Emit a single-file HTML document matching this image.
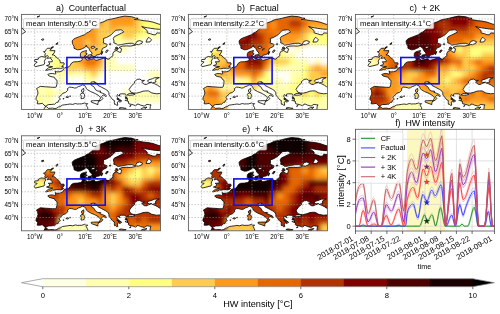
<!DOCTYPE html><html><head><meta charset="utf-8"><style>html,body{margin:0;padding:0;background:#fff;width:500px;height:314px;overflow:hidden}svg{display:block;will-change:transform}text{font-family:"Liberation Sans",sans-serif;fill:#000}</style></head><body>
<svg width="500" height="314" viewBox="0 0 500 314">
<defs><filter id="bl" x="-10%" y="-10%" width="120%" height="120%"><feGaussianBlur stdDeviation="1.9"/></filter>
<path id="mland" clip-rule="evenodd" d="M24.3,91.9 L22.5,90.7 L20.8,88.9 L18.5,89.4 L15.7,89.4 L16.2,86.8 L14.5,85.0 L14.7,83.2 L16.0,80.4 L16.5,78.6 L16.0,76.0 L15.0,74.2 L17.2,72.9 L18.8,72.0 L24.0,72.4 L28.8,72.7 L30.8,72.9 L33.9,72.9 L34.6,72.7 L35.4,69.8 L35.6,67.3 L35.4,65.7 L33.6,64.5 L32.9,62.9 L30.6,62.4 L27.6,61.6 L26.3,60.1 L28.3,59.3 L30.8,59.1 L33.4,59.6 L34.4,59.3 L33.6,56.8 L35.4,57.5 L38.6,57.3 L41.2,56.2 L42.4,54.2 L43.2,53.4 L45.7,52.9 L47.5,52.4 L48.7,50.8 L50.2,48.5 L52.2,47.5 L56.0,47.3 L59.0,46.7 L60.3,46.0 L60.8,44.9 L60.0,43.1 L58.8,41.6 L59.0,39.0 L60.0,37.7 L63.3,36.5 L65.1,36.1 L64.6,37.5 L64.3,39.0 L65.8,39.5 L64.1,40.6 L63.1,41.9 L63.6,43.1 L64.1,44.7 L66.1,45.7 L68.9,45.2 L72.4,44.2 L74.4,46.0 L77.7,45.2 L82.4,43.7 L85.7,44.2 L85.5,44.7 L87.7,44.7 L88.7,43.4 L91.5,41.3 L91.3,39.3 L92.5,37.0 L95.3,36.1 L97.6,37.7 L99.1,38.0 L99.8,35.7 L100.1,34.4 L97.6,33.1 L100.6,31.7 L105.1,31.5 L108.9,31.7 L114.4,30.6 L110.6,28.8 L106.1,29.0 L101.3,29.9 L96.3,30.8 L94.5,29.1 L92.3,28.5 L92.5,26.5 L91.8,24.1 L92.8,22.3 L96.5,20.5 L100.1,18.7 L102.3,17.5 L100.3,15.7 L99.1,15.4 L94.0,15.9 L91.8,18.2 L89.5,20.5 L85.0,23.1 L81.9,24.1 L82.2,26.5 L81.7,28.5 L85.7,30.0 L85.0,32.1 L81.2,33.9 L80.2,36.0 L79.7,38.8 L77.7,40.2 L74.9,40.6 L74.1,42.1 L71.1,42.1 L70.9,41.3 L69.9,39.8 L70.7,38.8 L68.4,36.2 L67.6,34.4 L66.6,33.0 L65.1,32.4 L64.8,30.8 L63.6,32.9 L61.0,34.2 L58.5,35.2 L56.0,35.4 L52.5,33.9 L52.5,32.1 L51.0,29.3 L50.7,26.5 L52.0,24.9 L53.7,23.9 L57.8,22.3 L60.3,21.3 L63.1,20.3 L65.1,18.7 L67.3,17.7 L69.6,15.9 L71.6,13.9 L74.6,11.6 L76.2,9.5 L78.7,8.5 L82.4,7.2 L86.0,5.4 L90.0,4.6 L93.5,3.9 L98.1,2.7 L103.3,1.7 L107.6,2.1 L110.1,2.3 L113.9,3.6 L116.7,3.9 L112.9,5.1 L117.7,5.4 L121.5,6.2 L126.5,6.7 L131.5,7.7 L136.6,9.5 L140.4,10.5 L142.4,12.8 L141.6,14.4 L137.8,14.9 L134.1,14.6 L129.0,13.9 L126.0,13.4 L122.7,12.8 L120.2,12.1 L123.5,14.4 L125.7,16.2 L125.7,18.5 L129.0,19.3 L131.5,20.3 L134.1,20.4 L135.3,18.5 L139.1,18.7 L141.6,17.7 L149.2,14.9 L164.3,9.8 L164.3,107.3 L128.5,107.3 L128.5,94.5 L128.8,92.2 L129.5,90.4 L127.8,90.4 L125.5,89.9 L122.7,91.7 L119.0,90.7 L117.4,89.9 L115.7,89.6 L115.2,90.7 L113.9,91.3 L111.7,90.4 L109.6,89.9 L107.4,89.4 L106.9,88.6 L107.1,87.1 L104.9,86.3 L106.4,85.6 L105.6,85.5 L105.9,83.7 L104.1,82.9 L104.6,81.4 L104.4,80.1 L103.6,79.5 L99.8,79.4 L98.3,79.7 L97.6,80.9 L98.8,81.7 L97.0,81.1 L96.0,80.1 L95.3,81.7 L96.0,83.3 L97.0,84.2 L95.3,84.5 L97.6,85.8 L98.8,87.1 L98.8,87.7 L96.8,87.1 L95.8,87.8 L96.3,90.8 L95.0,90.9 L94.0,89.6 L93.0,89.9 L92.8,87.8 L93.0,86.2 L91.5,85.5 L90.5,84.4 L89.2,82.7 L87.5,80.5 L87.4,78.3 L86.2,76.3 L84.0,74.9 L79.8,72.7 L76.7,71.1 L74.6,68.1 L72.6,68.6 L73.1,67.2 L69.4,67.8 L69.9,69.1 L69.4,70.4 L72.4,72.4 L74.1,75.4 L76.4,76.7 L79.2,76.8 L78.4,77.8 L80.9,78.8 L83.6,80.0 L85.0,81.3 L84.6,82.2 L81.7,80.5 L79.9,82.4 L81.4,84.0 L79.9,85.8 L77.8,86.8 L78.2,85.1 L79.2,83.5 L77.7,81.7 L75.5,80.1 L74.3,79.5 L72.6,78.6 L69.2,77.2 L66.3,75.5 L64.8,74.2 L64.3,72.7 L63.2,71.1 L60.8,70.4 L58.8,71.6 L56.8,72.2 L55.0,73.4 L53.2,73.7 L51.7,73.2 L50.0,72.9 L48.2,72.7 L45.9,74.2 L46.4,75.8 L43.9,78.1 L41.4,78.8 L40.7,79.9 L38.4,81.7 L37.6,83.1 L38.9,84.9 L37.1,85.9 L36.6,87.8 L35.1,88.0 L32.9,90.0 L32.2,89.8 L29.6,90.1 L27.3,90.1 L25.3,90.9ZM111.7,78.6 L109.1,77.6 L108.6,76.3 L107.6,75.2 L108.6,73.4 L110.4,70.9 L113.2,68.6 L112.9,67.3 L115.7,65.0 L118.4,64.7 L120.2,66.0 L123.0,66.0 L120.2,67.8 L122.7,69.8 L124.7,70.1 L127.5,68.8 L130.3,67.8 L127.5,68.1 L126.0,66.8 L127.0,65.5 L131.0,64.3 L132.8,63.4 L136.3,63.2 L137.8,63.2 L134.8,64.5 L133.8,66.3 L134.6,67.5 L130.8,68.6 L132.3,69.1 L133.6,69.6 L136.1,70.9 L138.3,72.4 L140.4,73.7 L143.1,75.8 L143.1,77.6 L140.4,79.1 L138.3,79.1 L135.3,79.4 L131.5,78.8 L129.8,78.3 L126.8,76.5 L124.0,76.5 L121.5,76.8 L118.4,77.9 L115.2,78.7ZM111.4,79.0 L108.9,79.1 L107.6,79.2 L105.6,80.5 L107.6,80.9 L111.4,80.6 L113.7,79.7ZM113.7,30.0 L115.4,27.0 L118.2,26.2 L121.0,27.2 L120.5,28.8 L117.2,30.3ZM124.5,27.7 L126.0,24.1 L127.5,22.9 L130.0,25.4 L128.5,27.5ZM69.6,33.6 L70.1,32.1 L72.6,31.8 L73.6,32.9 L71.6,33.9ZM73.9,35.7 L75.1,33.6 L75.9,34.4 L74.6,36.0Z"/><path id="isl" d="M41.9,53.0 L42.0,52.4 L40.2,52.0 L41.7,51.1 L42.8,49.6 L42.4,48.4 L39.1,48.4 L38.6,47.0 L38.1,45.5 L36.9,44.4 L34.9,43.1 L33.9,41.6 L32.1,40.6 L30.6,40.4 L31.8,39.8 L33.1,37.6 L33.4,36.2 L28.8,36.3 L28.3,35.7 L30.7,33.8 L25.8,33.9 L24.5,35.4 L23.8,37.0 L22.0,37.2 L24.0,39.3 L23.3,40.6 L23.8,42.4 L25.8,41.1 L26.8,41.9 L25.8,44.0 L29.6,43.3 L29.3,44.4 L30.8,46.0 L30.8,47.3 L26.8,47.5 L28.1,48.5 L27.8,50.3 L25.0,51.2 L28.3,52.0 L31.1,52.3 L29.6,52.9 L27.1,53.4 L24.0,55.9 L25.3,56.0 L28.1,55.1 L29.2,55.4 L31.1,54.2 L32.2,54.4 L34.9,53.9 L38.1,53.9 L39.0,54.1 L40.8,53.7ZM22.8,47.4 L23.3,48.5 L22.4,50.3 L20.8,50.6 L17.5,51.4 L13.7,52.3 L12.5,50.6 L14.0,49.3 L15.7,47.6 L13.0,47.0 L13.2,45.2 L16.7,44.9 L17.0,43.4 L19.8,42.1 L23.3,42.6 L24.5,44.2 L23.3,45.7ZM-12.0,21.6 L-1.9,20.5 L1.1,19.3 L4.2,17.2 L1.9,15.4 L1.6,14.1 L-1.9,13.6 L-12.0,13.6ZM19.8,25.2 L21.8,24.3 L22.3,25.4 L20.8,25.9ZM35.1,30.6 L34.4,29.5 L36.4,28.2 L35.9,29.8ZM29.8,33.1 L31.8,32.1 L31.6,33.3ZM15.5,2.6 L18.3,1.5 L17.2,2.3ZM66.1,42.1 L66.8,40.6 L69.6,40.3 L70.1,41.6 L69.1,42.6 L68.1,43.3 L66.6,42.6ZM62.8,41.9 L64.6,41.6 L65.6,42.4 L65.1,43.1 L63.6,43.0ZM66.1,43.8 L68.4,43.4 L68.9,44.0 L66.8,44.2ZM75.4,42.9 L76.4,42.6 L76.5,43.1 L75.5,43.3ZM84.0,37.7 L85.2,35.7 L86.7,35.7 L86.0,37.2 L84.5,38.3ZM79.7,40.1 L80.9,37.2 L81.4,37.1 L80.2,40.1ZM93.3,34.7 L94.5,33.9 L97.0,34.2 L95.5,35.4 L93.8,35.6ZM94.0,33.1 L95.3,32.6 L96.3,33.4 L95.0,33.6ZM87.5,30.0 L88.5,29.3 L89.5,29.5 L89.0,30.3ZM44.3,82.8 L45.9,81.8 L47.1,82.3 L46.6,83.3 L45.3,82.9ZM48.0,81.8 L49.2,81.5 L49.1,82.0 L48.1,81.9ZM41.4,84.4 L42.4,84.0 L42.3,84.6 L41.7,84.6ZM61.6,78.2 L62.4,76.3 L62.2,74.0 L60.0,75.5 L60.2,77.3ZM61.6,78.5 L63.1,80.4 L62.6,83.7 L61.0,84.2 L59.5,84.2 L59.8,81.7 L58.9,79.9 L59.5,79.1ZM69.6,86.5 L72.0,86.3 L77.5,86.2 L76.4,88.6 L76.4,90.3 L74.4,89.4 L69.9,87.8ZM97.6,93.7 L99.6,93.1 L102.6,93.7 L104.6,93.9 L104.1,94.5 L100.6,94.8 L97.6,94.0ZM119.7,94.2 L121.5,93.5 L125.5,92.7 L123.7,94.5 L121.5,95.5 L120.0,95.3ZM95.8,84.5 L97.0,84.2 L100.3,86.5 L100.1,86.8 L97.8,85.8ZM103.5,83.5 L105.1,83.2 L105.4,84.2 L103.8,84.0ZM108.1,91.7 L109.4,90.8 L109.5,91.4 L108.4,92.2ZM103.5,86.2 L104.1,85.4 L104.2,86.0ZM22.0,107.3 L22.0,95.8 L22.5,94.5 L23.3,93.2 L23.5,92.4 L25.0,92.2 L26.8,94.0 L28.6,93.9 L31.0,93.7 L33.4,94.2 L35.4,93.7 L36.8,92.6 L38.6,92.2 L40.9,90.7 L43.4,90.4 L46.1,90.0 L48.5,89.6 L51.2,90.0 L54.0,89.1 L55.8,89.6 L57.9,89.5 L60.0,89.5 L63.2,88.6 L64.3,89.4 L66.2,89.2 L64.8,90.7 L65.1,91.2 L65.7,92.7 L66.2,93.2 L66.3,95.0 L64.8,97.1 L64.8,107.3Z"/>
<clipPath id="boxa"><rect x="21.5" y="14.4" width="139.0" height="95.0"/></clipPath>
<clipPath id="landa"><use href="#mland" x="21.5" y="14.4"/><use href="#isl" x="21.5" y="14.4"/></clipPath>
<clipPath id="boxb"><rect x="188.4" y="14.4" width="139.0" height="95.0"/></clipPath>
<clipPath id="landb"><use href="#mland" x="188.4" y="14.4"/><use href="#isl" x="188.4" y="14.4"/></clipPath>
<clipPath id="boxc"><rect x="355.4" y="14.4" width="139.0" height="95.0"/></clipPath>
<clipPath id="landc"><use href="#mland" x="355.4" y="14.4"/><use href="#isl" x="355.4" y="14.4"/></clipPath>
<clipPath id="boxd"><rect x="21.5" y="135.8" width="139.0" height="95.0"/></clipPath>
<clipPath id="landd"><use href="#mland" x="21.5" y="135.8"/><use href="#isl" x="21.5" y="135.8"/></clipPath>
<clipPath id="boxe"><rect x="188.4" y="135.8" width="139.0" height="95.0"/></clipPath>
<clipPath id="lande"><use href="#mland" x="188.4" y="135.8"/><use href="#isl" x="188.4" y="135.8"/></clipPath>
</defs>
<g clip-path="url(#boxa)">
<g clip-path="url(#landa)"><g filter="url(#bl)">
<rect x="8.56" y="1.43" width="6.92" height="6.93" fill="#ffffff"/>
<rect x="14.88" y="1.43" width="6.92" height="6.93" fill="#ffffff"/>
<rect x="21.20" y="1.43" width="6.92" height="6.93" fill="#ffffff"/>
<rect x="27.52" y="1.43" width="6.92" height="6.93" fill="#ffffff"/>
<rect x="33.84" y="1.43" width="6.92" height="6.93" fill="#ffffff"/>
<rect x="40.15" y="1.43" width="6.92" height="6.93" fill="#ffffff"/>
<rect x="46.47" y="1.43" width="6.92" height="6.93" fill="#ffffb3"/>
<rect x="52.79" y="1.43" width="6.92" height="6.93" fill="#ffe667"/>
<rect x="59.11" y="1.43" width="6.92" height="6.93" fill="#ff991a"/>
<rect x="65.43" y="1.43" width="6.92" height="6.93" fill="#ff991a"/>
<rect x="71.75" y="1.43" width="6.92" height="6.93" fill="#ff991a"/>
<rect x="78.06" y="1.43" width="6.92" height="6.93" fill="#ff991a"/>
<rect x="84.38" y="1.43" width="6.92" height="6.93" fill="#ff991a"/>
<rect x="90.70" y="1.43" width="6.92" height="6.93" fill="#ff991a"/>
<rect x="97.02" y="1.43" width="6.92" height="6.93" fill="#ff991a"/>
<rect x="103.34" y="1.43" width="6.92" height="6.93" fill="#ff991a"/>
<rect x="109.65" y="1.43" width="6.92" height="6.93" fill="#ff991a"/>
<rect x="115.97" y="1.43" width="6.92" height="6.93" fill="#ff991a"/>
<rect x="122.29" y="1.43" width="6.92" height="6.93" fill="#ff991a"/>
<rect x="128.61" y="1.43" width="6.92" height="6.93" fill="#ff991a"/>
<rect x="134.93" y="1.43" width="6.92" height="6.93" fill="#ffcc4d"/>
<rect x="141.25" y="1.43" width="6.92" height="6.93" fill="#ffcc4d"/>
<rect x="147.56" y="1.43" width="6.92" height="6.93" fill="#ffcc4d"/>
<rect x="153.88" y="1.43" width="6.92" height="6.93" fill="#ffcc4d"/>
<rect x="160.20" y="1.43" width="6.92" height="6.93" fill="#ffcc4d"/>
<rect x="166.52" y="1.43" width="6.92" height="6.93" fill="#ffcc4d"/>
<rect x="8.56" y="7.77" width="6.92" height="6.93" fill="#ffffff"/>
<rect x="14.88" y="7.77" width="6.92" height="6.93" fill="#ffffff"/>
<rect x="21.20" y="7.77" width="6.92" height="6.93" fill="#ffffff"/>
<rect x="27.52" y="7.77" width="6.92" height="6.93" fill="#ffffff"/>
<rect x="33.84" y="7.77" width="6.92" height="6.93" fill="#ffffff"/>
<rect x="40.15" y="7.77" width="6.92" height="6.93" fill="#ffffff"/>
<rect x="46.47" y="7.77" width="6.92" height="6.93" fill="#ffffb3"/>
<rect x="52.79" y="7.77" width="6.92" height="6.93" fill="#ffe667"/>
<rect x="59.11" y="7.77" width="6.92" height="6.93" fill="#ff991a"/>
<rect x="65.43" y="7.77" width="6.92" height="6.93" fill="#ff991a"/>
<rect x="71.75" y="7.77" width="6.92" height="6.93" fill="#ff991a"/>
<rect x="78.06" y="7.77" width="6.92" height="6.93" fill="#ff991a"/>
<rect x="84.38" y="7.77" width="6.92" height="6.93" fill="#ff991a"/>
<rect x="90.70" y="7.77" width="6.92" height="6.93" fill="#ff991a"/>
<rect x="97.02" y="7.77" width="6.92" height="6.93" fill="#ff991a"/>
<rect x="103.34" y="7.77" width="6.92" height="6.93" fill="#ff991a"/>
<rect x="109.65" y="7.77" width="6.92" height="6.93" fill="#ff991a"/>
<rect x="115.97" y="7.77" width="6.92" height="6.93" fill="#ff991a"/>
<rect x="122.29" y="7.77" width="6.92" height="6.93" fill="#ff991a"/>
<rect x="128.61" y="7.77" width="6.92" height="6.93" fill="#ff991a"/>
<rect x="134.93" y="7.77" width="6.92" height="6.93" fill="#ffcc4d"/>
<rect x="141.25" y="7.77" width="6.92" height="6.93" fill="#ffcc4d"/>
<rect x="147.56" y="7.77" width="6.92" height="6.93" fill="#ffcc4d"/>
<rect x="153.88" y="7.77" width="6.92" height="6.93" fill="#ffcc4d"/>
<rect x="160.20" y="7.77" width="6.92" height="6.93" fill="#ffcc4d"/>
<rect x="166.52" y="7.77" width="6.92" height="6.93" fill="#ffcc4d"/>
<rect x="8.56" y="14.10" width="6.92" height="6.93" fill="#ffffff"/>
<rect x="14.88" y="14.10" width="6.92" height="6.93" fill="#ffffff"/>
<rect x="21.20" y="14.10" width="6.92" height="6.93" fill="#ffffff"/>
<rect x="27.52" y="14.10" width="6.92" height="6.93" fill="#ffffff"/>
<rect x="33.84" y="14.10" width="6.92" height="6.93" fill="#ffffff"/>
<rect x="40.15" y="14.10" width="6.92" height="6.93" fill="#ffffff"/>
<rect x="46.47" y="14.10" width="6.92" height="6.93" fill="#ffffb3"/>
<rect x="52.79" y="14.10" width="6.92" height="6.93" fill="#ffe667"/>
<rect x="59.11" y="14.10" width="6.92" height="6.93" fill="#ff991a"/>
<rect x="65.43" y="14.10" width="6.92" height="6.93" fill="#ff991a"/>
<rect x="71.75" y="14.10" width="6.92" height="6.93" fill="#ff991a"/>
<rect x="78.06" y="14.10" width="6.92" height="6.93" fill="#ff991a"/>
<rect x="84.38" y="14.10" width="6.92" height="6.93" fill="#ff991a"/>
<rect x="90.70" y="14.10" width="6.92" height="6.93" fill="#ff991a"/>
<rect x="97.02" y="14.10" width="6.92" height="6.93" fill="#ff991a"/>
<rect x="103.34" y="14.10" width="6.92" height="6.93" fill="#ff991a"/>
<rect x="109.65" y="14.10" width="6.92" height="6.93" fill="#ff991a"/>
<rect x="115.97" y="14.10" width="6.92" height="6.93" fill="#ff991a"/>
<rect x="122.29" y="14.10" width="6.92" height="6.93" fill="#ff991a"/>
<rect x="128.61" y="14.10" width="6.92" height="6.93" fill="#ff991a"/>
<rect x="134.93" y="14.10" width="6.92" height="6.93" fill="#ffcc4d"/>
<rect x="141.25" y="14.10" width="6.92" height="6.93" fill="#ffcc4d"/>
<rect x="147.56" y="14.10" width="6.92" height="6.93" fill="#ffcc4d"/>
<rect x="153.88" y="14.10" width="6.92" height="6.93" fill="#ffcc4d"/>
<rect x="160.20" y="14.10" width="6.92" height="6.93" fill="#ffcc4d"/>
<rect x="166.52" y="14.10" width="6.92" height="6.93" fill="#ffcc4d"/>
<rect x="8.56" y="20.43" width="6.92" height="6.93" fill="#ffffff"/>
<rect x="14.88" y="20.43" width="6.92" height="6.93" fill="#ffffff"/>
<rect x="21.20" y="20.43" width="6.92" height="6.93" fill="#ffffff"/>
<rect x="27.52" y="20.43" width="6.92" height="6.93" fill="#ffffff"/>
<rect x="33.84" y="20.43" width="6.92" height="6.93" fill="#ffffff"/>
<rect x="40.15" y="20.43" width="6.92" height="6.93" fill="#ffffff"/>
<rect x="46.47" y="20.43" width="6.92" height="6.93" fill="#ffffb3"/>
<rect x="52.79" y="20.43" width="6.92" height="6.93" fill="#ffe869"/>
<rect x="59.11" y="20.43" width="6.92" height="6.93" fill="#ff991a"/>
<rect x="65.43" y="20.43" width="6.92" height="6.93" fill="#ff991a"/>
<rect x="71.75" y="20.43" width="6.92" height="6.93" fill="#ff991a"/>
<rect x="78.06" y="20.43" width="6.92" height="6.93" fill="#ff991a"/>
<rect x="84.38" y="20.43" width="6.92" height="6.93" fill="#ff991a"/>
<rect x="90.70" y="20.43" width="6.92" height="6.93" fill="#ff991a"/>
<rect x="97.02" y="20.43" width="6.92" height="6.93" fill="#ff991a"/>
<rect x="103.34" y="20.43" width="6.92" height="6.93" fill="#ffcc4d"/>
<rect x="109.65" y="20.43" width="6.92" height="6.93" fill="#ff991a"/>
<rect x="115.97" y="20.43" width="6.92" height="6.93" fill="#ff991a"/>
<rect x="122.29" y="20.43" width="6.92" height="6.93" fill="#ff991a"/>
<rect x="128.61" y="20.43" width="6.92" height="6.93" fill="#ff991a"/>
<rect x="134.93" y="20.43" width="6.92" height="6.93" fill="#ffcc4d"/>
<rect x="141.25" y="20.43" width="6.92" height="6.93" fill="#ffff80"/>
<rect x="147.56" y="20.43" width="6.92" height="6.93" fill="#ffff80"/>
<rect x="153.88" y="20.43" width="6.92" height="6.93" fill="#ffff80"/>
<rect x="160.20" y="20.43" width="6.92" height="6.93" fill="#ffff80"/>
<rect x="166.52" y="20.43" width="6.92" height="6.93" fill="#ffff80"/>
<rect x="27.52" y="26.77" width="6.92" height="6.93" fill="#ffffff"/>
<rect x="33.84" y="26.77" width="6.92" height="6.93" fill="#ffffff"/>
<rect x="40.15" y="26.77" width="6.92" height="6.93" fill="#ffffff"/>
<rect x="46.47" y="26.77" width="6.92" height="6.93" fill="#ffffb3"/>
<rect x="52.79" y="26.77" width="6.92" height="6.93" fill="#ffee6f"/>
<rect x="59.11" y="26.77" width="6.92" height="6.93" fill="#ff991a"/>
<rect x="65.43" y="26.77" width="6.92" height="6.93" fill="#ff991a"/>
<rect x="71.75" y="26.77" width="6.92" height="6.93" fill="#ff991a"/>
<rect x="78.06" y="26.77" width="6.92" height="6.93" fill="#ff991a"/>
<rect x="84.38" y="26.77" width="6.92" height="6.93" fill="#ff991a"/>
<rect x="90.70" y="26.77" width="6.92" height="6.93" fill="#ff991a"/>
<rect x="97.02" y="26.77" width="6.92" height="6.93" fill="#ffcc4d"/>
<rect x="103.34" y="26.77" width="6.92" height="6.93" fill="#ffcc4d"/>
<rect x="109.65" y="26.77" width="6.92" height="6.93" fill="#ffb333"/>
<rect x="115.97" y="26.77" width="6.92" height="6.93" fill="#ffcc4d"/>
<rect x="122.29" y="26.77" width="6.92" height="6.93" fill="#ffcc4d"/>
<rect x="128.61" y="26.77" width="6.92" height="6.93" fill="#ffcc4d"/>
<rect x="134.93" y="26.77" width="6.92" height="6.93" fill="#ffcc4d"/>
<rect x="141.25" y="26.77" width="6.92" height="6.93" fill="#ffff80"/>
<rect x="147.56" y="26.77" width="6.92" height="6.93" fill="#ffff80"/>
<rect x="153.88" y="26.77" width="6.92" height="6.93" fill="#ffff80"/>
<rect x="160.20" y="26.77" width="6.92" height="6.93" fill="#ffff80"/>
<rect x="166.52" y="26.77" width="6.92" height="6.93" fill="#ffff80"/>
<rect x="27.52" y="33.10" width="6.92" height="6.93" fill="#ffffff"/>
<rect x="33.84" y="33.10" width="6.92" height="6.93" fill="#ffffff"/>
<rect x="40.15" y="33.10" width="6.92" height="6.93" fill="#ffffff"/>
<rect x="46.47" y="33.10" width="6.92" height="6.93" fill="#ffffb3"/>
<rect x="52.79" y="33.10" width="6.92" height="6.93" fill="#ffff80"/>
<rect x="59.11" y="33.10" width="6.92" height="6.93" fill="#ff991a"/>
<rect x="65.43" y="33.10" width="6.92" height="6.93" fill="#ff991a"/>
<rect x="71.75" y="33.10" width="6.92" height="6.93" fill="#ff991a"/>
<rect x="78.06" y="33.10" width="6.92" height="6.93" fill="#ff991a"/>
<rect x="84.38" y="33.10" width="6.92" height="6.93" fill="#ff991a"/>
<rect x="90.70" y="33.10" width="6.92" height="6.93" fill="#ff991a"/>
<rect x="97.02" y="33.10" width="6.92" height="6.93" fill="#ffcc4d"/>
<rect x="103.34" y="33.10" width="6.92" height="6.93" fill="#ffcc4d"/>
<rect x="109.65" y="33.10" width="6.92" height="6.93" fill="#ffff80"/>
<rect x="115.97" y="33.10" width="6.92" height="6.93" fill="#ffff80"/>
<rect x="122.29" y="33.10" width="6.92" height="6.93" fill="#ffcc4d"/>
<rect x="128.61" y="33.10" width="6.92" height="6.93" fill="#ffcc4d"/>
<rect x="134.93" y="33.10" width="6.92" height="6.93" fill="#ffff80"/>
<rect x="141.25" y="33.10" width="6.92" height="6.93" fill="#ffff80"/>
<rect x="147.56" y="33.10" width="6.92" height="6.93" fill="#ffffb3"/>
<rect x="153.88" y="33.10" width="6.92" height="6.93" fill="#ffffb3"/>
<rect x="160.20" y="33.10" width="6.92" height="6.93" fill="#ffffb3"/>
<rect x="166.52" y="33.10" width="6.92" height="6.93" fill="#ffffb3"/>
<rect x="8.56" y="39.43" width="6.92" height="6.93" fill="#ffffff"/>
<rect x="14.88" y="39.43" width="6.92" height="6.93" fill="#ffffff"/>
<rect x="21.20" y="39.43" width="6.92" height="6.93" fill="#ffffff"/>
<rect x="27.52" y="39.43" width="6.92" height="6.93" fill="#ffffff"/>
<rect x="33.84" y="39.43" width="6.92" height="6.93" fill="#ffffff"/>
<rect x="40.15" y="39.43" width="6.92" height="6.93" fill="#ffffff"/>
<rect x="46.47" y="39.43" width="6.92" height="6.93" fill="#ffffb3"/>
<rect x="52.79" y="39.43" width="6.92" height="6.93" fill="#ffffb3"/>
<rect x="59.11" y="39.43" width="6.92" height="6.93" fill="#ff991a"/>
<rect x="65.43" y="39.43" width="6.92" height="6.93" fill="#ff991a"/>
<rect x="71.75" y="39.43" width="6.92" height="6.93" fill="#ff991a"/>
<rect x="78.06" y="39.43" width="6.92" height="6.93" fill="#ff991a"/>
<rect x="84.38" y="39.43" width="6.92" height="6.93" fill="#ffcc4d"/>
<rect x="90.70" y="39.43" width="6.92" height="6.93" fill="#ff991a"/>
<rect x="97.02" y="39.43" width="6.92" height="6.93" fill="#ffcc4d"/>
<rect x="103.34" y="39.43" width="6.92" height="6.93" fill="#ffcc4d"/>
<rect x="109.65" y="39.43" width="6.92" height="6.93" fill="#ffffb3"/>
<rect x="115.97" y="39.43" width="6.92" height="6.93" fill="#ffffb3"/>
<rect x="122.29" y="39.43" width="6.92" height="6.93" fill="#ffffb3"/>
<rect x="128.61" y="39.43" width="6.92" height="6.93" fill="#ffffb3"/>
<rect x="134.93" y="39.43" width="6.92" height="6.93" fill="#ffffb3"/>
<rect x="141.25" y="39.43" width="6.92" height="6.93" fill="#ffffff"/>
<rect x="147.56" y="39.43" width="6.92" height="6.93" fill="#ffffff"/>
<rect x="153.88" y="39.43" width="6.92" height="6.93" fill="#ffffff"/>
<rect x="160.20" y="39.43" width="6.92" height="6.93" fill="#ffffff"/>
<rect x="166.52" y="39.43" width="6.92" height="6.93" fill="#ffffff"/>
<rect x="8.56" y="45.77" width="6.92" height="6.93" fill="#ffffff"/>
<rect x="14.88" y="45.77" width="6.92" height="6.93" fill="#ffffff"/>
<rect x="21.20" y="45.77" width="6.92" height="6.93" fill="#ffffff"/>
<rect x="27.52" y="45.77" width="6.92" height="6.93" fill="#ffffff"/>
<rect x="33.84" y="45.77" width="6.92" height="6.93" fill="#ffffff"/>
<rect x="40.15" y="45.77" width="6.92" height="6.93" fill="#ffffff"/>
<rect x="46.47" y="45.77" width="6.92" height="6.93" fill="#ffffb3"/>
<rect x="52.79" y="45.77" width="6.92" height="6.93" fill="#ffffb3"/>
<rect x="59.11" y="45.77" width="6.92" height="6.93" fill="#ffffa6"/>
<rect x="65.43" y="45.77" width="6.92" height="6.93" fill="#ffaa2a"/>
<rect x="71.75" y="45.77" width="6.92" height="6.93" fill="#ff991a"/>
<rect x="78.06" y="45.77" width="6.92" height="6.93" fill="#ff991a"/>
<rect x="84.38" y="45.77" width="6.92" height="6.93" fill="#ff991a"/>
<rect x="90.70" y="45.77" width="6.92" height="6.93" fill="#ffcc4d"/>
<rect x="97.02" y="45.77" width="6.92" height="6.93" fill="#ffcc4d"/>
<rect x="103.34" y="45.77" width="6.92" height="6.93" fill="#ffff80"/>
<rect x="109.65" y="45.77" width="6.92" height="6.93" fill="#ffffb3"/>
<rect x="115.97" y="45.77" width="6.92" height="6.93" fill="#ffffb3"/>
<rect x="122.29" y="45.77" width="6.92" height="6.93" fill="#ffffb3"/>
<rect x="128.61" y="45.77" width="6.92" height="6.93" fill="#ffffff"/>
<rect x="134.93" y="45.77" width="6.92" height="6.93" fill="#ffffff"/>
<rect x="141.25" y="45.77" width="6.92" height="6.93" fill="#ffffff"/>
<rect x="147.56" y="45.77" width="6.92" height="6.93" fill="#ffffff"/>
<rect x="153.88" y="45.77" width="6.92" height="6.93" fill="#ffffff"/>
<rect x="160.20" y="45.77" width="6.92" height="6.93" fill="#ffffff"/>
<rect x="166.52" y="45.77" width="6.92" height="6.93" fill="#ffffff"/>
<rect x="8.56" y="52.10" width="6.92" height="6.93" fill="#fffff5"/>
<rect x="14.88" y="52.10" width="6.92" height="6.93" fill="#fffff5"/>
<rect x="21.20" y="52.10" width="6.92" height="6.93" fill="#fffff5"/>
<rect x="27.52" y="52.10" width="6.92" height="6.93" fill="#ffffec"/>
<rect x="33.84" y="52.10" width="6.92" height="6.93" fill="#ffffd9"/>
<rect x="40.15" y="52.10" width="6.92" height="6.93" fill="#ffffb3"/>
<rect x="46.47" y="52.10" width="6.92" height="6.93" fill="#ffffb3"/>
<rect x="52.79" y="52.10" width="6.92" height="6.93" fill="#ffffb3"/>
<rect x="59.11" y="52.10" width="6.92" height="6.93" fill="#ffff99"/>
<rect x="65.43" y="52.10" width="6.92" height="6.93" fill="#ffcc4d"/>
<rect x="71.75" y="52.10" width="6.92" height="6.93" fill="#ffcc4d"/>
<rect x="78.06" y="52.10" width="6.92" height="6.93" fill="#ffcc4d"/>
<rect x="84.38" y="52.10" width="6.92" height="6.93" fill="#ffcc4d"/>
<rect x="90.70" y="52.10" width="6.92" height="6.93" fill="#ffcc4d"/>
<rect x="97.02" y="52.10" width="6.92" height="6.93" fill="#ffb333"/>
<rect x="103.34" y="52.10" width="6.92" height="6.93" fill="#ffffb3"/>
<rect x="109.65" y="52.10" width="6.92" height="6.93" fill="#ffffb3"/>
<rect x="115.97" y="52.10" width="6.92" height="6.93" fill="#ffffff"/>
<rect x="122.29" y="52.10" width="6.92" height="6.93" fill="#ffffff"/>
<rect x="128.61" y="52.10" width="6.92" height="6.93" fill="#ffffff"/>
<rect x="134.93" y="52.10" width="6.92" height="6.93" fill="#ffffff"/>
<rect x="141.25" y="52.10" width="6.92" height="6.93" fill="#ffffff"/>
<rect x="147.56" y="52.10" width="6.92" height="6.93" fill="#ffffff"/>
<rect x="153.88" y="52.10" width="6.92" height="6.93" fill="#ffffff"/>
<rect x="160.20" y="52.10" width="6.92" height="6.93" fill="#ffffff"/>
<rect x="166.52" y="52.10" width="6.92" height="6.93" fill="#ffffff"/>
<rect x="8.56" y="58.43" width="6.92" height="6.93" fill="#ffffff"/>
<rect x="14.88" y="58.43" width="6.92" height="6.93" fill="#ffffff"/>
<rect x="21.20" y="58.43" width="6.92" height="6.93" fill="#ffffff"/>
<rect x="27.52" y="58.43" width="6.92" height="6.93" fill="#ffffff"/>
<rect x="33.84" y="58.43" width="6.92" height="6.93" fill="#ffffff"/>
<rect x="40.15" y="58.43" width="6.92" height="6.93" fill="#ffffff"/>
<rect x="46.47" y="58.43" width="6.92" height="6.93" fill="#ffffb3"/>
<rect x="52.79" y="58.43" width="6.92" height="6.93" fill="#ffff80"/>
<rect x="59.11" y="58.43" width="6.92" height="6.93" fill="#ffff80"/>
<rect x="65.43" y="58.43" width="6.92" height="6.93" fill="#ffcc4d"/>
<rect x="71.75" y="58.43" width="6.92" height="6.93" fill="#ffcc4d"/>
<rect x="78.06" y="58.43" width="6.92" height="6.93" fill="#ff991a"/>
<rect x="84.38" y="58.43" width="6.92" height="6.93" fill="#e56600"/>
<rect x="90.70" y="58.43" width="6.92" height="6.93" fill="#e56600"/>
<rect x="97.02" y="58.43" width="6.92" height="6.93" fill="#ff991a"/>
<rect x="103.34" y="58.43" width="6.92" height="6.93" fill="#ffffb3"/>
<rect x="109.65" y="58.43" width="6.92" height="6.93" fill="#ffffb3"/>
<rect x="115.97" y="58.43" width="6.92" height="6.93" fill="#ffffff"/>
<rect x="122.29" y="58.43" width="6.92" height="6.93" fill="#ffffff"/>
<rect x="128.61" y="58.43" width="6.92" height="6.93" fill="#ffffff"/>
<rect x="134.93" y="58.43" width="6.92" height="6.93" fill="#ffffff"/>
<rect x="141.25" y="58.43" width="6.92" height="6.93" fill="#ffffff"/>
<rect x="147.56" y="58.43" width="6.92" height="6.93" fill="#ffffff"/>
<rect x="153.88" y="58.43" width="6.92" height="6.93" fill="#ffffff"/>
<rect x="160.20" y="58.43" width="6.92" height="6.93" fill="#ffffff"/>
<rect x="166.52" y="58.43" width="6.92" height="6.93" fill="#ffffff"/>
<rect x="8.56" y="64.77" width="6.92" height="6.93" fill="#ffffff"/>
<rect x="14.88" y="64.77" width="6.92" height="6.93" fill="#ffffff"/>
<rect x="21.20" y="64.77" width="6.92" height="6.93" fill="#ffffff"/>
<rect x="27.52" y="64.77" width="6.92" height="6.93" fill="#ffffff"/>
<rect x="33.84" y="64.77" width="6.92" height="6.93" fill="#ffffff"/>
<rect x="40.15" y="64.77" width="6.92" height="6.93" fill="#ffffd9"/>
<rect x="46.47" y="64.77" width="6.92" height="6.93" fill="#ffffb3"/>
<rect x="52.79" y="64.77" width="6.92" height="6.93" fill="#ffff80"/>
<rect x="59.11" y="64.77" width="6.92" height="6.93" fill="#ffff80"/>
<rect x="65.43" y="64.77" width="6.92" height="6.93" fill="#ffcc4d"/>
<rect x="71.75" y="64.77" width="6.92" height="6.93" fill="#ffcc4d"/>
<rect x="78.06" y="64.77" width="6.92" height="6.93" fill="#ffcc4d"/>
<rect x="84.38" y="64.77" width="6.92" height="6.93" fill="#ff991a"/>
<rect x="90.70" y="64.77" width="6.92" height="6.93" fill="#ff991a"/>
<rect x="97.02" y="64.77" width="6.92" height="6.93" fill="#ffcc4d"/>
<rect x="103.34" y="64.77" width="6.92" height="6.93" fill="#ffffb3"/>
<rect x="109.65" y="64.77" width="6.92" height="6.93" fill="#ffffb3"/>
<rect x="115.97" y="64.77" width="6.92" height="6.93" fill="#ffffb3"/>
<rect x="122.29" y="64.77" width="6.92" height="6.93" fill="#ffffb3"/>
<rect x="128.61" y="64.77" width="6.92" height="6.93" fill="#ffffb3"/>
<rect x="134.93" y="64.77" width="6.92" height="6.93" fill="#ffffff"/>
<rect x="141.25" y="64.77" width="6.92" height="6.93" fill="#ffffff"/>
<rect x="147.56" y="64.77" width="6.92" height="6.93" fill="#ffffff"/>
<rect x="153.88" y="64.77" width="6.92" height="6.93" fill="#ffffff"/>
<rect x="160.20" y="64.77" width="6.92" height="6.93" fill="#ffffff"/>
<rect x="166.52" y="64.77" width="6.92" height="6.93" fill="#ffffff"/>
<rect x="8.56" y="71.10" width="6.92" height="6.93" fill="#ffffda"/>
<rect x="14.88" y="71.10" width="6.92" height="6.93" fill="#ffffda"/>
<rect x="21.20" y="71.10" width="6.92" height="6.93" fill="#ffffda"/>
<rect x="27.52" y="71.10" width="6.92" height="6.93" fill="#ffffdd"/>
<rect x="33.84" y="71.10" width="6.92" height="6.93" fill="#ffffe5"/>
<rect x="40.15" y="71.10" width="6.92" height="6.93" fill="#ffffff"/>
<rect x="46.47" y="71.10" width="6.92" height="6.93" fill="#ffffff"/>
<rect x="52.79" y="71.10" width="6.92" height="6.93" fill="#ffffb3"/>
<rect x="59.11" y="71.10" width="6.92" height="6.93" fill="#ffffb3"/>
<rect x="65.43" y="71.10" width="6.92" height="6.93" fill="#ffff80"/>
<rect x="71.75" y="71.10" width="6.92" height="6.93" fill="#ffffb3"/>
<rect x="78.06" y="71.10" width="6.92" height="6.93" fill="#ffffb3"/>
<rect x="84.38" y="71.10" width="6.92" height="6.93" fill="#ffff80"/>
<rect x="90.70" y="71.10" width="6.92" height="6.93" fill="#ffcc4d"/>
<rect x="97.02" y="71.10" width="6.92" height="6.93" fill="#ffffb3"/>
<rect x="103.34" y="71.10" width="6.92" height="6.93" fill="#ffffff"/>
<rect x="109.65" y="71.10" width="6.92" height="6.93" fill="#ffffff"/>
<rect x="115.97" y="71.10" width="6.92" height="6.93" fill="#ffffff"/>
<rect x="122.29" y="71.10" width="6.92" height="6.93" fill="#ffffff"/>
<rect x="128.61" y="71.10" width="6.92" height="6.93" fill="#ffffff"/>
<rect x="134.93" y="71.10" width="6.92" height="6.93" fill="#ffffff"/>
<rect x="141.25" y="71.10" width="6.92" height="6.93" fill="#ffffff"/>
<rect x="147.56" y="71.10" width="6.92" height="6.93" fill="#ffffb3"/>
<rect x="153.88" y="71.10" width="6.92" height="6.93" fill="#ffffb3"/>
<rect x="160.20" y="71.10" width="6.92" height="6.93" fill="#ffffb3"/>
<rect x="166.52" y="71.10" width="6.92" height="6.93" fill="#ffffb3"/>
<rect x="8.56" y="77.43" width="6.92" height="6.93" fill="#ffffb3"/>
<rect x="14.88" y="77.43" width="6.92" height="6.93" fill="#ffffb3"/>
<rect x="21.20" y="77.43" width="6.92" height="6.93" fill="#ffffb3"/>
<rect x="27.52" y="77.43" width="6.92" height="6.93" fill="#ffffb3"/>
<rect x="33.84" y="77.43" width="6.92" height="6.93" fill="#ffffb3"/>
<rect x="40.15" y="77.43" width="6.92" height="6.93" fill="#ffffb3"/>
<rect x="46.47" y="77.43" width="6.92" height="6.93" fill="#ffffe5"/>
<rect x="52.79" y="77.43" width="6.92" height="6.93" fill="#ffffff"/>
<rect x="59.11" y="77.43" width="6.92" height="6.93" fill="#ffffb3"/>
<rect x="65.43" y="77.43" width="6.92" height="6.93" fill="#ffffff"/>
<rect x="71.75" y="77.43" width="6.92" height="6.93" fill="#ffffff"/>
<rect x="78.06" y="77.43" width="6.92" height="6.93" fill="#ffffff"/>
<rect x="84.38" y="77.43" width="6.92" height="6.93" fill="#ffffb3"/>
<rect x="90.70" y="77.43" width="6.92" height="6.93" fill="#ffffb3"/>
<rect x="97.02" y="77.43" width="6.92" height="6.93" fill="#ffffff"/>
<rect x="103.34" y="77.43" width="6.92" height="6.93" fill="#ffffff"/>
<rect x="109.65" y="77.43" width="6.92" height="6.93" fill="#ffffff"/>
<rect x="115.97" y="77.43" width="6.92" height="6.93" fill="#ffffff"/>
<rect x="122.29" y="77.43" width="6.92" height="6.93" fill="#ffffff"/>
<rect x="128.61" y="77.43" width="6.92" height="6.93" fill="#ffffff"/>
<rect x="134.93" y="77.43" width="6.92" height="6.93" fill="#ffffff"/>
<rect x="141.25" y="77.43" width="6.92" height="6.93" fill="#ffffff"/>
<rect x="147.56" y="77.43" width="6.92" height="6.93" fill="#ffffff"/>
<rect x="153.88" y="77.43" width="6.92" height="6.93" fill="#ffffb3"/>
<rect x="160.20" y="77.43" width="6.92" height="6.93" fill="#ffffb3"/>
<rect x="166.52" y="77.43" width="6.92" height="6.93" fill="#ffffb3"/>
<rect x="8.56" y="83.77" width="6.92" height="6.93" fill="#ffffb3"/>
<rect x="14.88" y="83.77" width="6.92" height="6.93" fill="#ffffb3"/>
<rect x="21.20" y="83.77" width="6.92" height="6.93" fill="#ffffb3"/>
<rect x="27.52" y="83.77" width="6.92" height="6.93" fill="#ffffb3"/>
<rect x="33.84" y="83.77" width="6.92" height="6.93" fill="#ffffb3"/>
<rect x="40.15" y="83.77" width="6.92" height="6.93" fill="#ffffb3"/>
<rect x="46.47" y="83.77" width="6.92" height="6.93" fill="#ffffb3"/>
<rect x="52.79" y="83.77" width="6.92" height="6.93" fill="#ffffff"/>
<rect x="59.11" y="83.77" width="6.92" height="6.93" fill="#ffffff"/>
<rect x="65.43" y="83.77" width="6.92" height="6.93" fill="#ffffff"/>
<rect x="71.75" y="83.77" width="6.92" height="6.93" fill="#ffffff"/>
<rect x="78.06" y="83.77" width="6.92" height="6.93" fill="#ffffff"/>
<rect x="84.38" y="83.77" width="6.92" height="6.93" fill="#ffffff"/>
<rect x="90.70" y="83.77" width="6.92" height="6.93" fill="#ffffff"/>
<rect x="97.02" y="83.77" width="6.92" height="6.93" fill="#ffffff"/>
<rect x="103.34" y="83.77" width="6.92" height="6.93" fill="#ffffff"/>
<rect x="109.65" y="83.77" width="6.92" height="6.93" fill="#ffffff"/>
<rect x="115.97" y="83.77" width="6.92" height="6.93" fill="#ffffff"/>
<rect x="122.29" y="83.77" width="6.92" height="6.93" fill="#ffffff"/>
<rect x="128.61" y="83.77" width="6.92" height="6.93" fill="#ffffff"/>
<rect x="134.93" y="83.77" width="6.92" height="6.93" fill="#ffffff"/>
<rect x="141.25" y="83.77" width="6.92" height="6.93" fill="#ffffff"/>
<rect x="147.56" y="83.77" width="6.92" height="6.93" fill="#ffffff"/>
<rect x="153.88" y="83.77" width="6.92" height="6.93" fill="#ffffff"/>
<rect x="160.20" y="83.77" width="6.92" height="6.93" fill="#ffffff"/>
<rect x="166.52" y="83.77" width="6.92" height="6.93" fill="#ffffff"/>
<rect x="8.56" y="90.10" width="6.92" height="6.93" fill="#ffffb3"/>
<rect x="14.88" y="90.10" width="6.92" height="6.93" fill="#ffffb3"/>
<rect x="21.20" y="90.10" width="6.92" height="6.93" fill="#ffffb3"/>
<rect x="27.52" y="90.10" width="6.92" height="6.93" fill="#ffffb3"/>
<rect x="33.84" y="90.10" width="6.92" height="6.93" fill="#ffffb3"/>
<rect x="40.15" y="90.10" width="6.92" height="6.93" fill="#ffffb3"/>
<rect x="46.47" y="90.10" width="6.92" height="6.93" fill="#ffff80"/>
<rect x="52.79" y="90.10" width="6.92" height="6.93" fill="#ffffb3"/>
<rect x="59.11" y="90.10" width="6.92" height="6.93" fill="#ffffb3"/>
<rect x="65.43" y="90.10" width="6.92" height="6.93" fill="#ffffff"/>
<rect x="71.75" y="90.10" width="6.92" height="6.93" fill="#ffffff"/>
<rect x="78.06" y="90.10" width="6.92" height="6.93" fill="#ffffff"/>
<rect x="84.38" y="90.10" width="6.92" height="6.93" fill="#ffffff"/>
<rect x="90.70" y="90.10" width="6.92" height="6.93" fill="#ffffff"/>
<rect x="97.02" y="90.10" width="6.92" height="6.93" fill="#ffffff"/>
<rect x="103.34" y="90.10" width="6.92" height="6.93" fill="#ffffff"/>
<rect x="109.65" y="90.10" width="6.92" height="6.93" fill="#ffffff"/>
<rect x="115.97" y="90.10" width="6.92" height="6.93" fill="#ffffff"/>
<rect x="122.29" y="90.10" width="6.92" height="6.93" fill="#ffffb3"/>
<rect x="128.61" y="90.10" width="6.92" height="6.93" fill="#ffffb3"/>
<rect x="134.93" y="90.10" width="6.92" height="6.93" fill="#ffffb3"/>
<rect x="141.25" y="90.10" width="6.92" height="6.93" fill="#ffffb3"/>
<rect x="147.56" y="90.10" width="6.92" height="6.93" fill="#ffffb3"/>
<rect x="153.88" y="90.10" width="6.92" height="6.93" fill="#ffffb3"/>
<rect x="160.20" y="90.10" width="6.92" height="6.93" fill="#ffffb3"/>
<rect x="166.52" y="90.10" width="6.92" height="6.93" fill="#ffffb3"/>
<rect x="8.56" y="96.43" width="6.92" height="6.93" fill="#ffff80"/>
<rect x="14.88" y="96.43" width="6.92" height="6.93" fill="#ffff80"/>
<rect x="21.20" y="96.43" width="6.92" height="6.93" fill="#ffff80"/>
<rect x="27.52" y="96.43" width="6.92" height="6.93" fill="#ffff80"/>
<rect x="33.84" y="96.43" width="6.92" height="6.93" fill="#ffff80"/>
<rect x="40.15" y="96.43" width="6.92" height="6.93" fill="#ffffb3"/>
<rect x="46.47" y="96.43" width="6.92" height="6.93" fill="#ffffb3"/>
<rect x="52.79" y="96.43" width="6.92" height="6.93" fill="#ffffff"/>
<rect x="59.11" y="96.43" width="6.92" height="6.93" fill="#ffffff"/>
<rect x="65.43" y="96.43" width="6.92" height="6.93" fill="#ffffff"/>
<rect x="71.75" y="96.43" width="6.92" height="6.93" fill="#ffffff"/>
<rect x="78.06" y="96.43" width="6.92" height="6.93" fill="#ffffff"/>
<rect x="84.38" y="96.43" width="6.92" height="6.93" fill="#ffffff"/>
<rect x="90.70" y="96.43" width="6.92" height="6.93" fill="#ffffff"/>
<rect x="97.02" y="96.43" width="6.92" height="6.93" fill="#ffffff"/>
<rect x="103.34" y="96.43" width="6.92" height="6.93" fill="#ffffff"/>
<rect x="109.65" y="96.43" width="6.92" height="6.93" fill="#ffffff"/>
<rect x="115.97" y="96.43" width="6.92" height="6.93" fill="#ffffff"/>
<rect x="122.29" y="96.43" width="6.92" height="6.93" fill="#ffffb3"/>
<rect x="128.61" y="96.43" width="6.92" height="6.93" fill="#ffffb3"/>
<rect x="134.93" y="96.43" width="6.92" height="6.93" fill="#ffffb3"/>
<rect x="141.25" y="96.43" width="6.92" height="6.93" fill="#ffffb3"/>
<rect x="147.56" y="96.43" width="6.92" height="6.93" fill="#ffffb3"/>
<rect x="153.88" y="96.43" width="6.92" height="6.93" fill="#ffffb3"/>
<rect x="160.20" y="96.43" width="6.92" height="6.93" fill="#ffffb3"/>
<rect x="166.52" y="96.43" width="6.92" height="6.93" fill="#ffffb3"/>
<rect x="8.56" y="102.77" width="6.92" height="6.93" fill="#ffffb3"/>
<rect x="14.88" y="102.77" width="6.92" height="6.93" fill="#ffffb3"/>
<rect x="21.20" y="102.77" width="6.92" height="6.93" fill="#ffffb3"/>
<rect x="27.52" y="102.77" width="6.92" height="6.93" fill="#ffffb3"/>
<rect x="33.84" y="102.77" width="6.92" height="6.93" fill="#ffffb3"/>
<rect x="40.15" y="102.77" width="6.92" height="6.93" fill="#ffffb3"/>
<rect x="46.47" y="102.77" width="6.92" height="6.93" fill="#ffffb3"/>
<rect x="52.79" y="102.77" width="6.92" height="6.93" fill="#ffffb3"/>
<rect x="97.02" y="102.77" width="6.92" height="6.93" fill="#ffffff"/>
<rect x="103.34" y="102.77" width="6.92" height="6.93" fill="#ffffff"/>
<rect x="109.65" y="102.77" width="6.92" height="6.93" fill="#ffffff"/>
<rect x="115.97" y="102.77" width="6.92" height="6.93" fill="#ffffff"/>
<rect x="122.29" y="102.77" width="6.92" height="6.93" fill="#ffffff"/>
<rect x="128.61" y="102.77" width="6.92" height="6.93" fill="#ffffff"/>
<rect x="134.93" y="102.77" width="6.92" height="6.93" fill="#ffffff"/>
<rect x="141.25" y="102.77" width="6.92" height="6.93" fill="#ffffff"/>
<rect x="147.56" y="102.77" width="6.92" height="6.93" fill="#ffffff"/>
<rect x="153.88" y="102.77" width="6.92" height="6.93" fill="#ffffff"/>
<rect x="160.20" y="102.77" width="6.92" height="6.93" fill="#ffffff"/>
<rect x="166.52" y="102.77" width="6.92" height="6.93" fill="#ffffff"/>
<rect x="8.56" y="109.10" width="6.92" height="6.93" fill="#ffffb3"/>
<rect x="14.88" y="109.10" width="6.92" height="6.93" fill="#ffffb3"/>
<rect x="21.20" y="109.10" width="6.92" height="6.93" fill="#ffffb3"/>
<rect x="27.52" y="109.10" width="6.92" height="6.93" fill="#ffffb3"/>
<rect x="33.84" y="109.10" width="6.92" height="6.93" fill="#ffffb3"/>
<rect x="40.15" y="109.10" width="6.92" height="6.93" fill="#ffffb3"/>
<rect x="46.47" y="109.10" width="6.92" height="6.93" fill="#ffffb3"/>
<rect x="52.79" y="109.10" width="6.92" height="6.93" fill="#ffffb3"/>
<rect x="97.02" y="109.10" width="6.92" height="6.93" fill="#ffffff"/>
<rect x="103.34" y="109.10" width="6.92" height="6.93" fill="#ffffff"/>
<rect x="109.65" y="109.10" width="6.92" height="6.93" fill="#ffffff"/>
<rect x="115.97" y="109.10" width="6.92" height="6.93" fill="#ffffff"/>
<rect x="122.29" y="109.10" width="6.92" height="6.93" fill="#ffffff"/>
<rect x="128.61" y="109.10" width="6.92" height="6.93" fill="#ffffff"/>
<rect x="134.93" y="109.10" width="6.92" height="6.93" fill="#ffffff"/>
<rect x="141.25" y="109.10" width="6.92" height="6.93" fill="#ffffff"/>
<rect x="147.56" y="109.10" width="6.92" height="6.93" fill="#ffffff"/>
<rect x="153.88" y="109.10" width="6.92" height="6.93" fill="#ffffff"/>
<rect x="160.20" y="109.10" width="6.92" height="6.93" fill="#ffffff"/>
<rect x="166.52" y="109.10" width="6.92" height="6.93" fill="#ffffff"/>
<rect x="8.56" y="115.43" width="6.92" height="6.93" fill="#ffffb3"/>
<rect x="14.88" y="115.43" width="6.92" height="6.93" fill="#ffffb3"/>
<rect x="21.20" y="115.43" width="6.92" height="6.93" fill="#ffffb3"/>
<rect x="27.52" y="115.43" width="6.92" height="6.93" fill="#ffffb3"/>
<rect x="33.84" y="115.43" width="6.92" height="6.93" fill="#ffffb3"/>
<rect x="40.15" y="115.43" width="6.92" height="6.93" fill="#ffffb3"/>
<rect x="46.47" y="115.43" width="6.92" height="6.93" fill="#ffffb3"/>
<rect x="52.79" y="115.43" width="6.92" height="6.93" fill="#ffffb3"/>
<rect x="97.02" y="115.43" width="6.92" height="6.93" fill="#ffffff"/>
<rect x="103.34" y="115.43" width="6.92" height="6.93" fill="#ffffff"/>
<rect x="109.65" y="115.43" width="6.92" height="6.93" fill="#ffffff"/>
<rect x="115.97" y="115.43" width="6.92" height="6.93" fill="#ffffff"/>
<rect x="122.29" y="115.43" width="6.92" height="6.93" fill="#ffffff"/>
<rect x="128.61" y="115.43" width="6.92" height="6.93" fill="#ffffff"/>
<rect x="134.93" y="115.43" width="6.92" height="6.93" fill="#ffffff"/>
<rect x="141.25" y="115.43" width="6.92" height="6.93" fill="#ffffff"/>
<rect x="147.56" y="115.43" width="6.92" height="6.93" fill="#ffffff"/>
<rect x="153.88" y="115.43" width="6.92" height="6.93" fill="#ffffff"/>
<rect x="160.20" y="115.43" width="6.92" height="6.93" fill="#ffffff"/>
<rect x="166.52" y="115.43" width="6.92" height="6.93" fill="#ffffff"/>
</g></g>
<g fill="none" stroke="#000" stroke-width="0.8" stroke-linejoin="round"><use href="#mland" x="21.5" y="14.4"/><use href="#isl" x="21.5" y="14.4"/></g>
<path d="M34.7,14.4V109.4M59.9,14.4V109.4M85.1,14.4V109.4M110.2,14.4V109.4M135.4,14.4V109.4M21.5,96.1H160.5M21.5,83.2H160.5M21.5,70.4H160.5M21.5,57.5H160.5M21.5,44.7H160.5M21.5,31.9H160.5M21.5,19.0H160.5" stroke="#999" stroke-width="0.5" stroke-dasharray="1.5,1.5" fill="none"/>
<rect x="66.9" y="57.5" width="38.3" height="26.3" fill="none" stroke="#1010f0" stroke-width="1.6"/>
</g>
<rect x="21.5" y="14.4" width="139.0" height="95.0" fill="none" stroke="#5a5a5a" stroke-width="0.85"/>
<rect x="23.4" y="18.7" width="76.4" height="10" rx="1.5" fill="#fff" fill-opacity="0.85" stroke="#bbb" stroke-width="0.6"/>
<text x="26.1" y="25.9" font-size="7.7">mean intensity:0.5°C</text>
<text x="91.0" y="11.0" font-size="8.8" text-anchor="middle">a)  Counterfactual</text>
<text x="18.5" y="98.4" font-size="6.3" text-anchor="end">40°N</text>
<text x="18.5" y="85.5" font-size="6.3" text-anchor="end">45°N</text>
<text x="18.5" y="72.7" font-size="6.3" text-anchor="end">50°N</text>
<text x="18.5" y="59.8" font-size="6.3" text-anchor="end">55°N</text>
<text x="18.5" y="47.0" font-size="6.3" text-anchor="end">60°N</text>
<text x="18.5" y="34.2" font-size="6.3" text-anchor="end">65°N</text>
<text x="18.5" y="21.3" font-size="6.3" text-anchor="end">70°N</text>
<text x="34.7" y="118.0" font-size="6.3" text-anchor="middle">10°W</text>
<text x="59.9" y="118.0" font-size="6.3" text-anchor="middle">0°</text>
<text x="85.1" y="118.0" font-size="6.3" text-anchor="middle">10°E</text>
<text x="110.2" y="118.0" font-size="6.3" text-anchor="middle">20°E</text>
<text x="135.4" y="118.0" font-size="6.3" text-anchor="middle">30°E</text>
<g clip-path="url(#boxb)">
<g clip-path="url(#landb)"><g filter="url(#bl)">
<rect x="175.46" y="1.43" width="6.92" height="6.93" fill="#ffff80"/>
<rect x="181.78" y="1.43" width="6.92" height="6.93" fill="#ffff80"/>
<rect x="188.10" y="1.43" width="6.92" height="6.93" fill="#ffff80"/>
<rect x="194.42" y="1.43" width="6.92" height="6.93" fill="#ffff80"/>
<rect x="200.74" y="1.43" width="6.92" height="6.93" fill="#ffff80"/>
<rect x="207.05" y="1.43" width="6.92" height="6.93" fill="#ffff80"/>
<rect x="213.37" y="1.43" width="6.92" height="6.93" fill="#ffff80"/>
<rect x="219.69" y="1.43" width="6.92" height="6.93" fill="#ff9a1b"/>
<rect x="226.01" y="1.43" width="6.92" height="6.93" fill="#b33300"/>
<rect x="232.33" y="1.43" width="6.92" height="6.93" fill="#b33300"/>
<rect x="238.65" y="1.43" width="6.92" height="6.93" fill="#b33300"/>
<rect x="244.96" y="1.43" width="6.92" height="6.93" fill="#ac2d00"/>
<rect x="251.28" y="1.43" width="6.92" height="6.93" fill="#bf4000"/>
<rect x="257.60" y="1.43" width="6.92" height="6.93" fill="#cc4d00"/>
<rect x="263.92" y="1.43" width="6.92" height="6.93" fill="#b33300"/>
<rect x="270.24" y="1.43" width="6.92" height="6.93" fill="#b33300"/>
<rect x="276.55" y="1.43" width="6.92" height="6.93" fill="#e56600"/>
<rect x="282.87" y="1.43" width="6.92" height="6.93" fill="#e56600"/>
<rect x="289.19" y="1.43" width="6.92" height="6.93" fill="#e56600"/>
<rect x="295.51" y="1.43" width="6.92" height="6.93" fill="#e56600"/>
<rect x="301.83" y="1.43" width="6.92" height="6.93" fill="#ff991a"/>
<rect x="308.15" y="1.43" width="6.92" height="6.93" fill="#ff991a"/>
<rect x="314.46" y="1.43" width="6.92" height="6.93" fill="#ff991a"/>
<rect x="320.78" y="1.43" width="6.92" height="6.93" fill="#ff991a"/>
<rect x="327.10" y="1.43" width="6.92" height="6.93" fill="#ff991a"/>
<rect x="333.42" y="1.43" width="6.92" height="6.93" fill="#ff991a"/>
<rect x="175.46" y="7.77" width="6.92" height="6.93" fill="#ffff80"/>
<rect x="181.78" y="7.77" width="6.92" height="6.93" fill="#ffff80"/>
<rect x="188.10" y="7.77" width="6.92" height="6.93" fill="#ffff80"/>
<rect x="194.42" y="7.77" width="6.92" height="6.93" fill="#ffff80"/>
<rect x="200.74" y="7.77" width="6.92" height="6.93" fill="#ffff80"/>
<rect x="207.05" y="7.77" width="6.92" height="6.93" fill="#ffff80"/>
<rect x="213.37" y="7.77" width="6.92" height="6.93" fill="#ffff80"/>
<rect x="219.69" y="7.77" width="6.92" height="6.93" fill="#ff9a1b"/>
<rect x="226.01" y="7.77" width="6.92" height="6.93" fill="#b33300"/>
<rect x="232.33" y="7.77" width="6.92" height="6.93" fill="#b33300"/>
<rect x="238.65" y="7.77" width="6.92" height="6.93" fill="#b33300"/>
<rect x="244.96" y="7.77" width="6.92" height="6.93" fill="#ac2d00"/>
<rect x="251.28" y="7.77" width="6.92" height="6.93" fill="#bf4000"/>
<rect x="257.60" y="7.77" width="6.92" height="6.93" fill="#cc4d00"/>
<rect x="263.92" y="7.77" width="6.92" height="6.93" fill="#b33300"/>
<rect x="270.24" y="7.77" width="6.92" height="6.93" fill="#b33300"/>
<rect x="276.55" y="7.77" width="6.92" height="6.93" fill="#e56600"/>
<rect x="282.87" y="7.77" width="6.92" height="6.93" fill="#e56600"/>
<rect x="289.19" y="7.77" width="6.92" height="6.93" fill="#e56600"/>
<rect x="295.51" y="7.77" width="6.92" height="6.93" fill="#e56600"/>
<rect x="301.83" y="7.77" width="6.92" height="6.93" fill="#ff991a"/>
<rect x="308.15" y="7.77" width="6.92" height="6.93" fill="#ff991a"/>
<rect x="314.46" y="7.77" width="6.92" height="6.93" fill="#ff991a"/>
<rect x="320.78" y="7.77" width="6.92" height="6.93" fill="#ff991a"/>
<rect x="327.10" y="7.77" width="6.92" height="6.93" fill="#ff991a"/>
<rect x="333.42" y="7.77" width="6.92" height="6.93" fill="#ff991a"/>
<rect x="175.46" y="14.10" width="6.92" height="6.93" fill="#ffff80"/>
<rect x="181.78" y="14.10" width="6.92" height="6.93" fill="#ffff80"/>
<rect x="188.10" y="14.10" width="6.92" height="6.93" fill="#ffff80"/>
<rect x="194.42" y="14.10" width="6.92" height="6.93" fill="#ffff80"/>
<rect x="200.74" y="14.10" width="6.92" height="6.93" fill="#ffff80"/>
<rect x="207.05" y="14.10" width="6.92" height="6.93" fill="#ffff80"/>
<rect x="213.37" y="14.10" width="6.92" height="6.93" fill="#ffff80"/>
<rect x="219.69" y="14.10" width="6.92" height="6.93" fill="#ff9a1b"/>
<rect x="226.01" y="14.10" width="6.92" height="6.93" fill="#b33300"/>
<rect x="232.33" y="14.10" width="6.92" height="6.93" fill="#b33300"/>
<rect x="238.65" y="14.10" width="6.92" height="6.93" fill="#b33300"/>
<rect x="244.96" y="14.10" width="6.92" height="6.93" fill="#ac2d00"/>
<rect x="251.28" y="14.10" width="6.92" height="6.93" fill="#bf4000"/>
<rect x="257.60" y="14.10" width="6.92" height="6.93" fill="#cc4d00"/>
<rect x="263.92" y="14.10" width="6.92" height="6.93" fill="#b33300"/>
<rect x="270.24" y="14.10" width="6.92" height="6.93" fill="#b33300"/>
<rect x="276.55" y="14.10" width="6.92" height="6.93" fill="#e56600"/>
<rect x="282.87" y="14.10" width="6.92" height="6.93" fill="#e56600"/>
<rect x="289.19" y="14.10" width="6.92" height="6.93" fill="#e56600"/>
<rect x="295.51" y="14.10" width="6.92" height="6.93" fill="#e56600"/>
<rect x="301.83" y="14.10" width="6.92" height="6.93" fill="#ff991a"/>
<rect x="308.15" y="14.10" width="6.92" height="6.93" fill="#ff991a"/>
<rect x="314.46" y="14.10" width="6.92" height="6.93" fill="#ff991a"/>
<rect x="320.78" y="14.10" width="6.92" height="6.93" fill="#ff991a"/>
<rect x="327.10" y="14.10" width="6.92" height="6.93" fill="#ff991a"/>
<rect x="333.42" y="14.10" width="6.92" height="6.93" fill="#ff991a"/>
<rect x="175.46" y="20.43" width="6.92" height="6.93" fill="#ffff80"/>
<rect x="181.78" y="20.43" width="6.92" height="6.93" fill="#ffff80"/>
<rect x="188.10" y="20.43" width="6.92" height="6.93" fill="#ffff80"/>
<rect x="194.42" y="20.43" width="6.92" height="6.93" fill="#ffff80"/>
<rect x="200.74" y="20.43" width="6.92" height="6.93" fill="#ffff80"/>
<rect x="207.05" y="20.43" width="6.92" height="6.93" fill="#ffff80"/>
<rect x="213.37" y="20.43" width="6.92" height="6.93" fill="#ffff80"/>
<rect x="219.69" y="20.43" width="6.92" height="6.93" fill="#ff9c1d"/>
<rect x="226.01" y="20.43" width="6.92" height="6.93" fill="#b33300"/>
<rect x="232.33" y="20.43" width="6.92" height="6.93" fill="#b33300"/>
<rect x="238.65" y="20.43" width="6.92" height="6.93" fill="#b33300"/>
<rect x="244.96" y="20.43" width="6.92" height="6.93" fill="#991a00"/>
<rect x="251.28" y="20.43" width="6.92" height="6.93" fill="#b33300"/>
<rect x="257.60" y="20.43" width="6.92" height="6.93" fill="#e56600"/>
<rect x="263.92" y="20.43" width="6.92" height="6.93" fill="#e56600"/>
<rect x="270.24" y="20.43" width="6.92" height="6.93" fill="#ff991a"/>
<rect x="276.55" y="20.43" width="6.92" height="6.93" fill="#e56600"/>
<rect x="282.87" y="20.43" width="6.92" height="6.93" fill="#e56600"/>
<rect x="289.19" y="20.43" width="6.92" height="6.93" fill="#b33300"/>
<rect x="295.51" y="20.43" width="6.92" height="6.93" fill="#b33300"/>
<rect x="301.83" y="20.43" width="6.92" height="6.93" fill="#e56600"/>
<rect x="308.15" y="20.43" width="6.92" height="6.93" fill="#ff991a"/>
<rect x="314.46" y="20.43" width="6.92" height="6.93" fill="#ff991a"/>
<rect x="320.78" y="20.43" width="6.92" height="6.93" fill="#ff991a"/>
<rect x="327.10" y="20.43" width="6.92" height="6.93" fill="#ff991a"/>
<rect x="333.42" y="20.43" width="6.92" height="6.93" fill="#ff991a"/>
<rect x="194.42" y="26.77" width="6.92" height="6.93" fill="#ffff80"/>
<rect x="200.74" y="26.77" width="6.92" height="6.93" fill="#ffff80"/>
<rect x="207.05" y="26.77" width="6.92" height="6.93" fill="#ffff80"/>
<rect x="213.37" y="26.77" width="6.92" height="6.93" fill="#ffff80"/>
<rect x="219.69" y="26.77" width="6.92" height="6.93" fill="#ffa323"/>
<rect x="226.01" y="26.77" width="6.92" height="6.93" fill="#b33300"/>
<rect x="232.33" y="26.77" width="6.92" height="6.93" fill="#b33300"/>
<rect x="238.65" y="26.77" width="6.92" height="6.93" fill="#b33300"/>
<rect x="244.96" y="26.77" width="6.92" height="6.93" fill="#800000"/>
<rect x="251.28" y="26.77" width="6.92" height="6.93" fill="#800000"/>
<rect x="257.60" y="26.77" width="6.92" height="6.93" fill="#e56600"/>
<rect x="263.92" y="26.77" width="6.92" height="6.93" fill="#e56600"/>
<rect x="270.24" y="26.77" width="6.92" height="6.93" fill="#ff8000"/>
<rect x="276.55" y="26.77" width="6.92" height="6.93" fill="#e56600"/>
<rect x="282.87" y="26.77" width="6.92" height="6.93" fill="#e56600"/>
<rect x="289.19" y="26.77" width="6.92" height="6.93" fill="#e56600"/>
<rect x="295.51" y="26.77" width="6.92" height="6.93" fill="#e56600"/>
<rect x="301.83" y="26.77" width="6.92" height="6.93" fill="#ff991a"/>
<rect x="308.15" y="26.77" width="6.92" height="6.93" fill="#ffcc4d"/>
<rect x="314.46" y="26.77" width="6.92" height="6.93" fill="#ffcc4d"/>
<rect x="320.78" y="26.77" width="6.92" height="6.93" fill="#ffcc4d"/>
<rect x="327.10" y="26.77" width="6.92" height="6.93" fill="#ffcc4d"/>
<rect x="333.42" y="26.77" width="6.92" height="6.93" fill="#ffcc4d"/>
<rect x="194.42" y="33.10" width="6.92" height="6.93" fill="#ffff80"/>
<rect x="200.74" y="33.10" width="6.92" height="6.93" fill="#ffff80"/>
<rect x="207.05" y="33.10" width="6.92" height="6.93" fill="#ffff80"/>
<rect x="213.37" y="33.10" width="6.92" height="6.93" fill="#ffff80"/>
<rect x="219.69" y="33.10" width="6.92" height="6.93" fill="#ffb737"/>
<rect x="226.01" y="33.10" width="6.92" height="6.93" fill="#b33300"/>
<rect x="232.33" y="33.10" width="6.92" height="6.93" fill="#b33300"/>
<rect x="238.65" y="33.10" width="6.92" height="6.93" fill="#b33300"/>
<rect x="244.96" y="33.10" width="6.92" height="6.93" fill="#800000"/>
<rect x="251.28" y="33.10" width="6.92" height="6.93" fill="#800000"/>
<rect x="257.60" y="33.10" width="6.92" height="6.93" fill="#b33300"/>
<rect x="263.92" y="33.10" width="6.92" height="6.93" fill="#e56600"/>
<rect x="270.24" y="33.10" width="6.92" height="6.93" fill="#e56600"/>
<rect x="276.55" y="33.10" width="6.92" height="6.93" fill="#ff991a"/>
<rect x="282.87" y="33.10" width="6.92" height="6.93" fill="#ff991a"/>
<rect x="289.19" y="33.10" width="6.92" height="6.93" fill="#ff991a"/>
<rect x="295.51" y="33.10" width="6.92" height="6.93" fill="#ff991a"/>
<rect x="301.83" y="33.10" width="6.92" height="6.93" fill="#ffcc4d"/>
<rect x="308.15" y="33.10" width="6.92" height="6.93" fill="#ffff80"/>
<rect x="314.46" y="33.10" width="6.92" height="6.93" fill="#ffff80"/>
<rect x="320.78" y="33.10" width="6.92" height="6.93" fill="#ffff80"/>
<rect x="327.10" y="33.10" width="6.92" height="6.93" fill="#ffff80"/>
<rect x="333.42" y="33.10" width="6.92" height="6.93" fill="#ffff80"/>
<rect x="175.46" y="39.43" width="6.92" height="6.93" fill="#ffff80"/>
<rect x="181.78" y="39.43" width="6.92" height="6.93" fill="#ffff80"/>
<rect x="188.10" y="39.43" width="6.92" height="6.93" fill="#ffff80"/>
<rect x="194.42" y="39.43" width="6.92" height="6.93" fill="#ffff80"/>
<rect x="200.74" y="39.43" width="6.92" height="6.93" fill="#ffff80"/>
<rect x="207.05" y="39.43" width="6.92" height="6.93" fill="#ffff80"/>
<rect x="213.37" y="39.43" width="6.92" height="6.93" fill="#ffff80"/>
<rect x="219.69" y="39.43" width="6.92" height="6.93" fill="#fff273"/>
<rect x="226.01" y="39.43" width="6.92" height="6.93" fill="#800000"/>
<rect x="232.33" y="39.43" width="6.92" height="6.93" fill="#800000"/>
<rect x="238.65" y="39.43" width="6.92" height="6.93" fill="#800000"/>
<rect x="244.96" y="39.43" width="6.92" height="6.93" fill="#800000"/>
<rect x="251.28" y="39.43" width="6.92" height="6.93" fill="#b33300"/>
<rect x="257.60" y="39.43" width="6.92" height="6.93" fill="#b33300"/>
<rect x="263.92" y="39.43" width="6.92" height="6.93" fill="#e56600"/>
<rect x="270.24" y="39.43" width="6.92" height="6.93" fill="#e56600"/>
<rect x="276.55" y="39.43" width="6.92" height="6.93" fill="#ffb333"/>
<rect x="282.87" y="39.43" width="6.92" height="6.93" fill="#ff991a"/>
<rect x="289.19" y="39.43" width="6.92" height="6.93" fill="#ff991a"/>
<rect x="295.51" y="39.43" width="6.92" height="6.93" fill="#ffcc4d"/>
<rect x="301.83" y="39.43" width="6.92" height="6.93" fill="#ffcc4d"/>
<rect x="308.15" y="39.43" width="6.92" height="6.93" fill="#ffff80"/>
<rect x="314.46" y="39.43" width="6.92" height="6.93" fill="#ffff80"/>
<rect x="320.78" y="39.43" width="6.92" height="6.93" fill="#ffff80"/>
<rect x="327.10" y="39.43" width="6.92" height="6.93" fill="#ffff80"/>
<rect x="333.42" y="39.43" width="6.92" height="6.93" fill="#ffff80"/>
<rect x="175.46" y="45.77" width="6.92" height="6.93" fill="#ffff80"/>
<rect x="181.78" y="45.77" width="6.92" height="6.93" fill="#ffff80"/>
<rect x="188.10" y="45.77" width="6.92" height="6.93" fill="#ffff80"/>
<rect x="194.42" y="45.77" width="6.92" height="6.93" fill="#ffff80"/>
<rect x="200.74" y="45.77" width="6.92" height="6.93" fill="#ffff80"/>
<rect x="207.05" y="45.77" width="6.92" height="6.93" fill="#ffff80"/>
<rect x="213.37" y="45.77" width="6.92" height="6.93" fill="#ffff80"/>
<rect x="219.69" y="45.77" width="6.92" height="6.93" fill="#ffe566"/>
<rect x="226.01" y="45.77" width="6.92" height="6.93" fill="#ffcc4d"/>
<rect x="232.33" y="45.77" width="6.92" height="6.93" fill="#aa2a00"/>
<rect x="238.65" y="45.77" width="6.92" height="6.93" fill="#991a00"/>
<rect x="244.96" y="45.77" width="6.92" height="6.93" fill="#b33300"/>
<rect x="251.28" y="45.77" width="6.92" height="6.93" fill="#b33300"/>
<rect x="257.60" y="45.77" width="6.92" height="6.93" fill="#e56600"/>
<rect x="263.92" y="45.77" width="6.92" height="6.93" fill="#e56600"/>
<rect x="270.24" y="45.77" width="6.92" height="6.93" fill="#ffcc4d"/>
<rect x="276.55" y="45.77" width="6.92" height="6.93" fill="#ffcc4d"/>
<rect x="282.87" y="45.77" width="6.92" height="6.93" fill="#ffffb3"/>
<rect x="289.19" y="45.77" width="6.92" height="6.93" fill="#ffffff"/>
<rect x="295.51" y="45.77" width="6.92" height="6.93" fill="#ffffb3"/>
<rect x="301.83" y="45.77" width="6.92" height="6.93" fill="#ffffff"/>
<rect x="308.15" y="45.77" width="6.92" height="6.93" fill="#ffffff"/>
<rect x="314.46" y="45.77" width="6.92" height="6.93" fill="#ffffff"/>
<rect x="320.78" y="45.77" width="6.92" height="6.93" fill="#ffffff"/>
<rect x="327.10" y="45.77" width="6.92" height="6.93" fill="#ffffff"/>
<rect x="333.42" y="45.77" width="6.92" height="6.93" fill="#ffffff"/>
<rect x="175.46" y="52.10" width="6.92" height="6.93" fill="#ffffef"/>
<rect x="181.78" y="52.10" width="6.92" height="6.93" fill="#ffffef"/>
<rect x="188.10" y="52.10" width="6.92" height="6.93" fill="#ffffef"/>
<rect x="194.42" y="52.10" width="6.92" height="6.93" fill="#ffffdf"/>
<rect x="200.74" y="52.10" width="6.92" height="6.93" fill="#ffffbf"/>
<rect x="207.05" y="52.10" width="6.92" height="6.93" fill="#ffff80"/>
<rect x="213.37" y="52.10" width="6.92" height="6.93" fill="#ffcc4d"/>
<rect x="219.69" y="52.10" width="6.92" height="6.93" fill="#ffcc4d"/>
<rect x="226.01" y="52.10" width="6.92" height="6.93" fill="#ffb333"/>
<rect x="232.33" y="52.10" width="6.92" height="6.93" fill="#e56600"/>
<rect x="238.65" y="52.10" width="6.92" height="6.93" fill="#cc4d00"/>
<rect x="244.96" y="52.10" width="6.92" height="6.93" fill="#b33300"/>
<rect x="251.28" y="52.10" width="6.92" height="6.93" fill="#b33300"/>
<rect x="257.60" y="52.10" width="6.92" height="6.93" fill="#e56600"/>
<rect x="263.92" y="52.10" width="6.92" height="6.93" fill="#e56600"/>
<rect x="270.24" y="52.10" width="6.92" height="6.93" fill="#ffe566"/>
<rect x="276.55" y="52.10" width="6.92" height="6.93" fill="#ffff80"/>
<rect x="282.87" y="52.10" width="6.92" height="6.93" fill="#ffffb3"/>
<rect x="289.19" y="52.10" width="6.92" height="6.93" fill="#ffffb3"/>
<rect x="295.51" y="52.10" width="6.92" height="6.93" fill="#ffffff"/>
<rect x="301.83" y="52.10" width="6.92" height="6.93" fill="#ffffff"/>
<rect x="308.15" y="52.10" width="6.92" height="6.93" fill="#ffffff"/>
<rect x="314.46" y="52.10" width="6.92" height="6.93" fill="#ffffff"/>
<rect x="320.78" y="52.10" width="6.92" height="6.93" fill="#ffffff"/>
<rect x="327.10" y="52.10" width="6.92" height="6.93" fill="#ffffff"/>
<rect x="333.42" y="52.10" width="6.92" height="6.93" fill="#ffffff"/>
<rect x="175.46" y="58.43" width="6.92" height="6.93" fill="#ffffff"/>
<rect x="181.78" y="58.43" width="6.92" height="6.93" fill="#ffffff"/>
<rect x="188.10" y="58.43" width="6.92" height="6.93" fill="#ffffff"/>
<rect x="194.42" y="58.43" width="6.92" height="6.93" fill="#ffffff"/>
<rect x="200.74" y="58.43" width="6.92" height="6.93" fill="#ffffff"/>
<rect x="207.05" y="58.43" width="6.92" height="6.93" fill="#ffffb3"/>
<rect x="213.37" y="58.43" width="6.92" height="6.93" fill="#ffcc4d"/>
<rect x="219.69" y="58.43" width="6.92" height="6.93" fill="#ffcc4d"/>
<rect x="226.01" y="58.43" width="6.92" height="6.93" fill="#ff991a"/>
<rect x="232.33" y="58.43" width="6.92" height="6.93" fill="#e56600"/>
<rect x="238.65" y="58.43" width="6.92" height="6.93" fill="#e56600"/>
<rect x="244.96" y="58.43" width="6.92" height="6.93" fill="#800000"/>
<rect x="251.28" y="58.43" width="6.92" height="6.93" fill="#800000"/>
<rect x="257.60" y="58.43" width="6.92" height="6.93" fill="#800000"/>
<rect x="263.92" y="58.43" width="6.92" height="6.93" fill="#e56600"/>
<rect x="270.24" y="58.43" width="6.92" height="6.93" fill="#ffcc4d"/>
<rect x="276.55" y="58.43" width="6.92" height="6.93" fill="#ffcc4d"/>
<rect x="282.87" y="58.43" width="6.92" height="6.93" fill="#ffcc4d"/>
<rect x="289.19" y="58.43" width="6.92" height="6.93" fill="#ffff80"/>
<rect x="295.51" y="58.43" width="6.92" height="6.93" fill="#ffffb3"/>
<rect x="301.83" y="58.43" width="6.92" height="6.93" fill="#ffffb3"/>
<rect x="308.15" y="58.43" width="6.92" height="6.93" fill="#ffffff"/>
<rect x="314.46" y="58.43" width="6.92" height="6.93" fill="#ffffb3"/>
<rect x="320.78" y="58.43" width="6.92" height="6.93" fill="#ffffff"/>
<rect x="327.10" y="58.43" width="6.92" height="6.93" fill="#ffffff"/>
<rect x="333.42" y="58.43" width="6.92" height="6.93" fill="#ffffff"/>
<rect x="175.46" y="64.77" width="6.92" height="6.93" fill="#ffffff"/>
<rect x="181.78" y="64.77" width="6.92" height="6.93" fill="#ffffff"/>
<rect x="188.10" y="64.77" width="6.92" height="6.93" fill="#ffffff"/>
<rect x="194.42" y="64.77" width="6.92" height="6.93" fill="#ffffff"/>
<rect x="200.74" y="64.77" width="6.92" height="6.93" fill="#ffffff"/>
<rect x="207.05" y="64.77" width="6.92" height="6.93" fill="#ffff80"/>
<rect x="213.37" y="64.77" width="6.92" height="6.93" fill="#ffcc4d"/>
<rect x="219.69" y="64.77" width="6.92" height="6.93" fill="#ff991a"/>
<rect x="226.01" y="64.77" width="6.92" height="6.93" fill="#ff991a"/>
<rect x="232.33" y="64.77" width="6.92" height="6.93" fill="#e56600"/>
<rect x="238.65" y="64.77" width="6.92" height="6.93" fill="#e56600"/>
<rect x="244.96" y="64.77" width="6.92" height="6.93" fill="#b33300"/>
<rect x="251.28" y="64.77" width="6.92" height="6.93" fill="#b33300"/>
<rect x="257.60" y="64.77" width="6.92" height="6.93" fill="#b33300"/>
<rect x="263.92" y="64.77" width="6.92" height="6.93" fill="#ff991a"/>
<rect x="270.24" y="64.77" width="6.92" height="6.93" fill="#ffffb3"/>
<rect x="276.55" y="64.77" width="6.92" height="6.93" fill="#ffff80"/>
<rect x="282.87" y="64.77" width="6.92" height="6.93" fill="#ffffb3"/>
<rect x="289.19" y="64.77" width="6.92" height="6.93" fill="#ffffb3"/>
<rect x="295.51" y="64.77" width="6.92" height="6.93" fill="#ffffb3"/>
<rect x="301.83" y="64.77" width="6.92" height="6.93" fill="#ffff80"/>
<rect x="308.15" y="64.77" width="6.92" height="6.93" fill="#ffcc4d"/>
<rect x="314.46" y="64.77" width="6.92" height="6.93" fill="#ff991a"/>
<rect x="320.78" y="64.77" width="6.92" height="6.93" fill="#ffcc4d"/>
<rect x="327.10" y="64.77" width="6.92" height="6.93" fill="#ffcc4d"/>
<rect x="333.42" y="64.77" width="6.92" height="6.93" fill="#ffcc4d"/>
<rect x="175.46" y="71.10" width="6.92" height="6.93" fill="#ffffa2"/>
<rect x="181.78" y="71.10" width="6.92" height="6.93" fill="#ffffa2"/>
<rect x="188.10" y="71.10" width="6.92" height="6.93" fill="#ffffa2"/>
<rect x="194.42" y="71.10" width="6.92" height="6.93" fill="#ffff9c"/>
<rect x="200.74" y="71.10" width="6.92" height="6.93" fill="#ffff88"/>
<rect x="207.05" y="71.10" width="6.92" height="6.93" fill="#ffcc4d"/>
<rect x="213.37" y="71.10" width="6.92" height="6.93" fill="#ffcc4d"/>
<rect x="219.69" y="71.10" width="6.92" height="6.93" fill="#ff991a"/>
<rect x="226.01" y="71.10" width="6.92" height="6.93" fill="#ffcc4d"/>
<rect x="232.33" y="71.10" width="6.92" height="6.93" fill="#ff991a"/>
<rect x="238.65" y="71.10" width="6.92" height="6.93" fill="#ff991a"/>
<rect x="244.96" y="71.10" width="6.92" height="6.93" fill="#ff991a"/>
<rect x="251.28" y="71.10" width="6.92" height="6.93" fill="#e56600"/>
<rect x="257.60" y="71.10" width="6.92" height="6.93" fill="#ff991a"/>
<rect x="263.92" y="71.10" width="6.92" height="6.93" fill="#ffff80"/>
<rect x="270.24" y="71.10" width="6.92" height="6.93" fill="#ffffff"/>
<rect x="276.55" y="71.10" width="6.92" height="6.93" fill="#ffffff"/>
<rect x="282.87" y="71.10" width="6.92" height="6.93" fill="#ffffff"/>
<rect x="289.19" y="71.10" width="6.92" height="6.93" fill="#ffffb3"/>
<rect x="295.51" y="71.10" width="6.92" height="6.93" fill="#ffffb3"/>
<rect x="301.83" y="71.10" width="6.92" height="6.93" fill="#ffff80"/>
<rect x="308.15" y="71.10" width="6.92" height="6.93" fill="#ffcc4d"/>
<rect x="314.46" y="71.10" width="6.92" height="6.93" fill="#ffcc4d"/>
<rect x="320.78" y="71.10" width="6.92" height="6.93" fill="#ff991a"/>
<rect x="327.10" y="71.10" width="6.92" height="6.93" fill="#ff991a"/>
<rect x="333.42" y="71.10" width="6.92" height="6.93" fill="#ff991a"/>
<rect x="175.46" y="77.43" width="6.92" height="6.93" fill="#ffcc4d"/>
<rect x="181.78" y="77.43" width="6.92" height="6.93" fill="#ffcc4d"/>
<rect x="188.10" y="77.43" width="6.92" height="6.93" fill="#ffcc4d"/>
<rect x="194.42" y="77.43" width="6.92" height="6.93" fill="#ffcc4d"/>
<rect x="200.74" y="77.43" width="6.92" height="6.93" fill="#ffcc4d"/>
<rect x="207.05" y="77.43" width="6.92" height="6.93" fill="#ff991a"/>
<rect x="213.37" y="77.43" width="6.92" height="6.93" fill="#ffdd5e"/>
<rect x="219.69" y="77.43" width="6.92" height="6.93" fill="#ffff80"/>
<rect x="226.01" y="77.43" width="6.92" height="6.93" fill="#ffcc4d"/>
<rect x="232.33" y="77.43" width="6.92" height="6.93" fill="#ffffb3"/>
<rect x="238.65" y="77.43" width="6.92" height="6.93" fill="#ffffb3"/>
<rect x="244.96" y="77.43" width="6.92" height="6.93" fill="#ffff80"/>
<rect x="251.28" y="77.43" width="6.92" height="6.93" fill="#ff991a"/>
<rect x="257.60" y="77.43" width="6.92" height="6.93" fill="#ffff80"/>
<rect x="263.92" y="77.43" width="6.92" height="6.93" fill="#ffff80"/>
<rect x="270.24" y="77.43" width="6.92" height="6.93" fill="#ffffb3"/>
<rect x="276.55" y="77.43" width="6.92" height="6.93" fill="#ffffb3"/>
<rect x="282.87" y="77.43" width="6.92" height="6.93" fill="#ffffff"/>
<rect x="289.19" y="77.43" width="6.92" height="6.93" fill="#ffffb3"/>
<rect x="295.51" y="77.43" width="6.92" height="6.93" fill="#ffff80"/>
<rect x="301.83" y="77.43" width="6.92" height="6.93" fill="#ffff80"/>
<rect x="308.15" y="77.43" width="6.92" height="6.93" fill="#ffcc4d"/>
<rect x="314.46" y="77.43" width="6.92" height="6.93" fill="#ffcc4d"/>
<rect x="320.78" y="77.43" width="6.92" height="6.93" fill="#ffff80"/>
<rect x="327.10" y="77.43" width="6.92" height="6.93" fill="#ffff80"/>
<rect x="333.42" y="77.43" width="6.92" height="6.93" fill="#ffff80"/>
<rect x="175.46" y="83.77" width="6.92" height="6.93" fill="#ffcc4d"/>
<rect x="181.78" y="83.77" width="6.92" height="6.93" fill="#ffcc4d"/>
<rect x="188.10" y="83.77" width="6.92" height="6.93" fill="#ffcc4d"/>
<rect x="194.42" y="83.77" width="6.92" height="6.93" fill="#ffcc4d"/>
<rect x="200.74" y="83.77" width="6.92" height="6.93" fill="#ffcc4d"/>
<rect x="207.05" y="83.77" width="6.92" height="6.93" fill="#ff991a"/>
<rect x="213.37" y="83.77" width="6.92" height="6.93" fill="#ffcc4d"/>
<rect x="219.69" y="83.77" width="6.92" height="6.93" fill="#ffffb3"/>
<rect x="226.01" y="83.77" width="6.92" height="6.93" fill="#ffffb3"/>
<rect x="232.33" y="83.77" width="6.92" height="6.93" fill="#ffffb3"/>
<rect x="238.65" y="83.77" width="6.92" height="6.93" fill="#ffff99"/>
<rect x="244.96" y="83.77" width="6.92" height="6.93" fill="#ffff80"/>
<rect x="251.28" y="83.77" width="6.92" height="6.93" fill="#ffcc4d"/>
<rect x="257.60" y="83.77" width="6.92" height="6.93" fill="#ffffb3"/>
<rect x="263.92" y="83.77" width="6.92" height="6.93" fill="#ffffa2"/>
<rect x="270.24" y="83.77" width="6.92" height="6.93" fill="#ffffb3"/>
<rect x="276.55" y="83.77" width="6.92" height="6.93" fill="#ffffb3"/>
<rect x="282.87" y="83.77" width="6.92" height="6.93" fill="#ffffb3"/>
<rect x="289.19" y="83.77" width="6.92" height="6.93" fill="#ffff80"/>
<rect x="295.51" y="83.77" width="6.92" height="6.93" fill="#ffff80"/>
<rect x="301.83" y="83.77" width="6.92" height="6.93" fill="#ffcc4d"/>
<rect x="308.15" y="83.77" width="6.92" height="6.93" fill="#ffff80"/>
<rect x="314.46" y="83.77" width="6.92" height="6.93" fill="#ffcc4d"/>
<rect x="320.78" y="83.77" width="6.92" height="6.93" fill="#ffff80"/>
<rect x="327.10" y="83.77" width="6.92" height="6.93" fill="#ffff80"/>
<rect x="333.42" y="83.77" width="6.92" height="6.93" fill="#ffff80"/>
<rect x="175.46" y="90.10" width="6.92" height="6.93" fill="#ff991a"/>
<rect x="181.78" y="90.10" width="6.92" height="6.93" fill="#ff991a"/>
<rect x="188.10" y="90.10" width="6.92" height="6.93" fill="#ff991a"/>
<rect x="194.42" y="90.10" width="6.92" height="6.93" fill="#ff991a"/>
<rect x="200.74" y="90.10" width="6.92" height="6.93" fill="#ff991a"/>
<rect x="207.05" y="90.10" width="6.92" height="6.93" fill="#e56600"/>
<rect x="213.37" y="90.10" width="6.92" height="6.93" fill="#e56600"/>
<rect x="219.69" y="90.10" width="6.92" height="6.93" fill="#ffcc4d"/>
<rect x="226.01" y="90.10" width="6.92" height="6.93" fill="#ffcc4d"/>
<rect x="232.33" y="90.10" width="6.92" height="6.93" fill="#ffcc4d"/>
<rect x="238.65" y="90.10" width="6.92" height="6.93" fill="#ffff80"/>
<rect x="244.96" y="90.10" width="6.92" height="6.93" fill="#ffff80"/>
<rect x="251.28" y="90.10" width="6.92" height="6.93" fill="#ffff80"/>
<rect x="257.60" y="90.10" width="6.92" height="6.93" fill="#ffffff"/>
<rect x="263.92" y="90.10" width="6.92" height="6.93" fill="#ffffd9"/>
<rect x="270.24" y="90.10" width="6.92" height="6.93" fill="#ffffb3"/>
<rect x="276.55" y="90.10" width="6.92" height="6.93" fill="#ffffb3"/>
<rect x="282.87" y="90.10" width="6.92" height="6.93" fill="#ffffb3"/>
<rect x="289.19" y="90.10" width="6.92" height="6.93" fill="#ffff80"/>
<rect x="295.51" y="90.10" width="6.92" height="6.93" fill="#ffff80"/>
<rect x="301.83" y="90.10" width="6.92" height="6.93" fill="#ffcc4d"/>
<rect x="308.15" y="90.10" width="6.92" height="6.93" fill="#ffff80"/>
<rect x="314.46" y="90.10" width="6.92" height="6.93" fill="#ffcc4d"/>
<rect x="320.78" y="90.10" width="6.92" height="6.93" fill="#ffff80"/>
<rect x="327.10" y="90.10" width="6.92" height="6.93" fill="#ffff80"/>
<rect x="333.42" y="90.10" width="6.92" height="6.93" fill="#ffff80"/>
<rect x="175.46" y="96.43" width="6.92" height="6.93" fill="#ff991a"/>
<rect x="181.78" y="96.43" width="6.92" height="6.93" fill="#ff991a"/>
<rect x="188.10" y="96.43" width="6.92" height="6.93" fill="#ff991a"/>
<rect x="194.42" y="96.43" width="6.92" height="6.93" fill="#ff991a"/>
<rect x="200.74" y="96.43" width="6.92" height="6.93" fill="#ff991a"/>
<rect x="207.05" y="96.43" width="6.92" height="6.93" fill="#ff991a"/>
<rect x="213.37" y="96.43" width="6.92" height="6.93" fill="#ff991a"/>
<rect x="219.69" y="96.43" width="6.92" height="6.93" fill="#ffcc4d"/>
<rect x="257.60" y="96.43" width="6.92" height="6.93" fill="#ffffff"/>
<rect x="263.92" y="96.43" width="6.92" height="6.93" fill="#ffffd9"/>
<rect x="270.24" y="96.43" width="6.92" height="6.93" fill="#ffffb3"/>
<rect x="276.55" y="96.43" width="6.92" height="6.93" fill="#ffffb3"/>
<rect x="282.87" y="96.43" width="6.92" height="6.93" fill="#ffffa2"/>
<rect x="289.19" y="96.43" width="6.92" height="6.93" fill="#ffff80"/>
<rect x="295.51" y="96.43" width="6.92" height="6.93" fill="#ffffb3"/>
<rect x="301.83" y="96.43" width="6.92" height="6.93" fill="#ffff80"/>
<rect x="308.15" y="96.43" width="6.92" height="6.93" fill="#ffffb3"/>
<rect x="314.46" y="96.43" width="6.92" height="6.93" fill="#ffff80"/>
<rect x="320.78" y="96.43" width="6.92" height="6.93" fill="#ffffb3"/>
<rect x="327.10" y="96.43" width="6.92" height="6.93" fill="#ffffb3"/>
<rect x="333.42" y="96.43" width="6.92" height="6.93" fill="#ffffb3"/>
<rect x="175.46" y="102.77" width="6.92" height="6.93" fill="#ff991a"/>
<rect x="181.78" y="102.77" width="6.92" height="6.93" fill="#ff991a"/>
<rect x="188.10" y="102.77" width="6.92" height="6.93" fill="#ff991a"/>
<rect x="194.42" y="102.77" width="6.92" height="6.93" fill="#ff991a"/>
<rect x="200.74" y="102.77" width="6.92" height="6.93" fill="#ff991a"/>
<rect x="207.05" y="102.77" width="6.92" height="6.93" fill="#ff991a"/>
<rect x="213.37" y="102.77" width="6.92" height="6.93" fill="#ff991a"/>
<rect x="219.69" y="102.77" width="6.92" height="6.93" fill="#ff991a"/>
<rect x="257.60" y="102.77" width="6.92" height="6.93" fill="#ffffff"/>
<rect x="263.92" y="102.77" width="6.92" height="6.93" fill="#ffffd9"/>
<rect x="270.24" y="102.77" width="6.92" height="6.93" fill="#ffffb3"/>
<rect x="276.55" y="102.77" width="6.92" height="6.93" fill="#ffffb3"/>
<rect x="282.87" y="102.77" width="6.92" height="6.93" fill="#ffffb3"/>
<rect x="289.19" y="102.77" width="6.92" height="6.93" fill="#ffff99"/>
<rect x="295.51" y="102.77" width="6.92" height="6.93" fill="#ffffb3"/>
<rect x="301.83" y="102.77" width="6.92" height="6.93" fill="#ffffb3"/>
<rect x="308.15" y="102.77" width="6.92" height="6.93" fill="#ffffb3"/>
<rect x="314.46" y="102.77" width="6.92" height="6.93" fill="#ffffb3"/>
<rect x="320.78" y="102.77" width="6.92" height="6.93" fill="#ffffb3"/>
<rect x="327.10" y="102.77" width="6.92" height="6.93" fill="#ffffb3"/>
<rect x="333.42" y="102.77" width="6.92" height="6.93" fill="#ffffb3"/>
<rect x="175.46" y="109.10" width="6.92" height="6.93" fill="#ff991a"/>
<rect x="181.78" y="109.10" width="6.92" height="6.93" fill="#ff991a"/>
<rect x="188.10" y="109.10" width="6.92" height="6.93" fill="#ff991a"/>
<rect x="194.42" y="109.10" width="6.92" height="6.93" fill="#ff991a"/>
<rect x="200.74" y="109.10" width="6.92" height="6.93" fill="#ff991a"/>
<rect x="207.05" y="109.10" width="6.92" height="6.93" fill="#ff991a"/>
<rect x="213.37" y="109.10" width="6.92" height="6.93" fill="#ff991a"/>
<rect x="219.69" y="109.10" width="6.92" height="6.93" fill="#ff991a"/>
<rect x="257.60" y="109.10" width="6.92" height="6.93" fill="#ffffff"/>
<rect x="263.92" y="109.10" width="6.92" height="6.93" fill="#ffffd9"/>
<rect x="270.24" y="109.10" width="6.92" height="6.93" fill="#ffffb3"/>
<rect x="276.55" y="109.10" width="6.92" height="6.93" fill="#ffffb3"/>
<rect x="282.87" y="109.10" width="6.92" height="6.93" fill="#ffffb3"/>
<rect x="289.19" y="109.10" width="6.92" height="6.93" fill="#ffff99"/>
<rect x="295.51" y="109.10" width="6.92" height="6.93" fill="#ffffb3"/>
<rect x="301.83" y="109.10" width="6.92" height="6.93" fill="#ffffb3"/>
<rect x="308.15" y="109.10" width="6.92" height="6.93" fill="#ffffb3"/>
<rect x="314.46" y="109.10" width="6.92" height="6.93" fill="#ffffb3"/>
<rect x="320.78" y="109.10" width="6.92" height="6.93" fill="#ffffb3"/>
<rect x="327.10" y="109.10" width="6.92" height="6.93" fill="#ffffb3"/>
<rect x="333.42" y="109.10" width="6.92" height="6.93" fill="#ffffb3"/>
<rect x="175.46" y="115.43" width="6.92" height="6.93" fill="#ff991a"/>
<rect x="181.78" y="115.43" width="6.92" height="6.93" fill="#ff991a"/>
<rect x="188.10" y="115.43" width="6.92" height="6.93" fill="#ff991a"/>
<rect x="194.42" y="115.43" width="6.92" height="6.93" fill="#ff991a"/>
<rect x="200.74" y="115.43" width="6.92" height="6.93" fill="#ff991a"/>
<rect x="207.05" y="115.43" width="6.92" height="6.93" fill="#ff991a"/>
<rect x="213.37" y="115.43" width="6.92" height="6.93" fill="#ff991a"/>
<rect x="219.69" y="115.43" width="6.92" height="6.93" fill="#ff991a"/>
<rect x="257.60" y="115.43" width="6.92" height="6.93" fill="#ffffff"/>
<rect x="263.92" y="115.43" width="6.92" height="6.93" fill="#ffffd9"/>
<rect x="270.24" y="115.43" width="6.92" height="6.93" fill="#ffffb3"/>
<rect x="276.55" y="115.43" width="6.92" height="6.93" fill="#ffffb3"/>
<rect x="282.87" y="115.43" width="6.92" height="6.93" fill="#ffffb3"/>
<rect x="289.19" y="115.43" width="6.92" height="6.93" fill="#ffff99"/>
<rect x="295.51" y="115.43" width="6.92" height="6.93" fill="#ffffb3"/>
<rect x="301.83" y="115.43" width="6.92" height="6.93" fill="#ffffb3"/>
<rect x="308.15" y="115.43" width="6.92" height="6.93" fill="#ffffb3"/>
<rect x="314.46" y="115.43" width="6.92" height="6.93" fill="#ffffb3"/>
<rect x="320.78" y="115.43" width="6.92" height="6.93" fill="#ffffb3"/>
<rect x="327.10" y="115.43" width="6.92" height="6.93" fill="#ffffb3"/>
<rect x="333.42" y="115.43" width="6.92" height="6.93" fill="#ffffb3"/>
</g></g>
<g fill="none" stroke="#000" stroke-width="0.8" stroke-linejoin="round"><use href="#mland" x="188.4" y="14.4"/><use href="#isl" x="188.4" y="14.4"/></g>
<path d="M201.6,14.4V109.4M226.8,14.4V109.4M252.0,14.4V109.4M277.1,14.4V109.4M302.3,14.4V109.4M188.4,96.1H327.4M188.4,83.2H327.4M188.4,70.4H327.4M188.4,57.5H327.4M188.4,44.7H327.4M188.4,31.9H327.4M188.4,19.0H327.4" stroke="#999" stroke-width="0.5" stroke-dasharray="1.5,1.5" fill="none"/>
<rect x="233.8" y="57.5" width="38.3" height="26.3" fill="none" stroke="#1010f0" stroke-width="1.6"/>
</g>
<rect x="188.4" y="14.4" width="139.0" height="95.0" fill="none" stroke="#5a5a5a" stroke-width="0.85"/>
<rect x="190.3" y="18.7" width="76.4" height="10" rx="1.5" fill="#fff" fill-opacity="0.85" stroke="#bbb" stroke-width="0.6"/>
<text x="193.0" y="25.9" font-size="7.7">mean intensity:2.2°C</text>
<text x="257.9" y="11.0" font-size="8.8" text-anchor="middle">b)  Factual</text>
<text x="185.4" y="98.4" font-size="6.3" text-anchor="end">40°N</text>
<text x="185.4" y="85.5" font-size="6.3" text-anchor="end">45°N</text>
<text x="185.4" y="72.7" font-size="6.3" text-anchor="end">50°N</text>
<text x="185.4" y="59.8" font-size="6.3" text-anchor="end">55°N</text>
<text x="185.4" y="47.0" font-size="6.3" text-anchor="end">60°N</text>
<text x="185.4" y="34.2" font-size="6.3" text-anchor="end">65°N</text>
<text x="185.4" y="21.3" font-size="6.3" text-anchor="end">70°N</text>
<text x="201.6" y="118.0" font-size="6.3" text-anchor="middle">10°W</text>
<text x="226.8" y="118.0" font-size="6.3" text-anchor="middle">0°</text>
<text x="252.0" y="118.0" font-size="6.3" text-anchor="middle">10°E</text>
<text x="277.1" y="118.0" font-size="6.3" text-anchor="middle">20°E</text>
<text x="302.3" y="118.0" font-size="6.3" text-anchor="middle">30°E</text>
<g clip-path="url(#boxc)">
<g clip-path="url(#landc)"><g filter="url(#bl)">
<rect x="342.46" y="1.43" width="6.92" height="6.93" fill="#ffcc4d"/>
<rect x="348.78" y="1.43" width="6.92" height="6.93" fill="#ffcc4d"/>
<rect x="355.10" y="1.43" width="6.92" height="6.93" fill="#ffcc4d"/>
<rect x="361.42" y="1.43" width="6.92" height="6.93" fill="#ffcc4d"/>
<rect x="367.74" y="1.43" width="6.92" height="6.93" fill="#ffcc4d"/>
<rect x="374.05" y="1.43" width="6.92" height="6.93" fill="#ffcc4d"/>
<rect x="380.37" y="1.43" width="6.92" height="6.93" fill="#ff991a"/>
<rect x="386.69" y="1.43" width="6.92" height="6.93" fill="#b43400"/>
<rect x="393.01" y="1.43" width="6.92" height="6.93" fill="#4d0000"/>
<rect x="399.33" y="1.43" width="6.92" height="6.93" fill="#4d0000"/>
<rect x="405.65" y="1.43" width="6.92" height="6.93" fill="#4d0000"/>
<rect x="411.96" y="1.43" width="6.92" height="6.93" fill="#730000"/>
<rect x="418.28" y="1.43" width="6.92" height="6.93" fill="#800000"/>
<rect x="424.60" y="1.43" width="6.92" height="6.93" fill="#800000"/>
<rect x="430.92" y="1.43" width="6.92" height="6.93" fill="#4d0000"/>
<rect x="437.24" y="1.43" width="6.92" height="6.93" fill="#4d0000"/>
<rect x="443.55" y="1.43" width="6.92" height="6.93" fill="#800000"/>
<rect x="449.87" y="1.43" width="6.92" height="6.93" fill="#800000"/>
<rect x="456.19" y="1.43" width="6.92" height="6.93" fill="#800000"/>
<rect x="462.51" y="1.43" width="6.92" height="6.93" fill="#800000"/>
<rect x="468.83" y="1.43" width="6.92" height="6.93" fill="#b33300"/>
<rect x="475.15" y="1.43" width="6.92" height="6.93" fill="#b33300"/>
<rect x="481.46" y="1.43" width="6.92" height="6.93" fill="#b33300"/>
<rect x="487.78" y="1.43" width="6.92" height="6.93" fill="#b33300"/>
<rect x="494.10" y="1.43" width="6.92" height="6.93" fill="#b33300"/>
<rect x="500.42" y="1.43" width="6.92" height="6.93" fill="#b33300"/>
<rect x="342.46" y="7.77" width="6.92" height="6.93" fill="#ffcc4d"/>
<rect x="348.78" y="7.77" width="6.92" height="6.93" fill="#ffcc4d"/>
<rect x="355.10" y="7.77" width="6.92" height="6.93" fill="#ffcc4d"/>
<rect x="361.42" y="7.77" width="6.92" height="6.93" fill="#ffcc4d"/>
<rect x="367.74" y="7.77" width="6.92" height="6.93" fill="#ffcc4d"/>
<rect x="374.05" y="7.77" width="6.92" height="6.93" fill="#ffcc4d"/>
<rect x="380.37" y="7.77" width="6.92" height="6.93" fill="#ff991a"/>
<rect x="386.69" y="7.77" width="6.92" height="6.93" fill="#b43400"/>
<rect x="393.01" y="7.77" width="6.92" height="6.93" fill="#4d0000"/>
<rect x="399.33" y="7.77" width="6.92" height="6.93" fill="#4d0000"/>
<rect x="405.65" y="7.77" width="6.92" height="6.93" fill="#4d0000"/>
<rect x="411.96" y="7.77" width="6.92" height="6.93" fill="#730000"/>
<rect x="418.28" y="7.77" width="6.92" height="6.93" fill="#800000"/>
<rect x="424.60" y="7.77" width="6.92" height="6.93" fill="#800000"/>
<rect x="430.92" y="7.77" width="6.92" height="6.93" fill="#4d0000"/>
<rect x="437.24" y="7.77" width="6.92" height="6.93" fill="#4d0000"/>
<rect x="443.55" y="7.77" width="6.92" height="6.93" fill="#800000"/>
<rect x="449.87" y="7.77" width="6.92" height="6.93" fill="#800000"/>
<rect x="456.19" y="7.77" width="6.92" height="6.93" fill="#800000"/>
<rect x="462.51" y="7.77" width="6.92" height="6.93" fill="#800000"/>
<rect x="468.83" y="7.77" width="6.92" height="6.93" fill="#b33300"/>
<rect x="475.15" y="7.77" width="6.92" height="6.93" fill="#b33300"/>
<rect x="481.46" y="7.77" width="6.92" height="6.93" fill="#b33300"/>
<rect x="487.78" y="7.77" width="6.92" height="6.93" fill="#b33300"/>
<rect x="494.10" y="7.77" width="6.92" height="6.93" fill="#b33300"/>
<rect x="500.42" y="7.77" width="6.92" height="6.93" fill="#b33300"/>
<rect x="342.46" y="14.10" width="6.92" height="6.93" fill="#ffcc4d"/>
<rect x="348.78" y="14.10" width="6.92" height="6.93" fill="#ffcc4d"/>
<rect x="355.10" y="14.10" width="6.92" height="6.93" fill="#ffcc4d"/>
<rect x="361.42" y="14.10" width="6.92" height="6.93" fill="#ffcc4d"/>
<rect x="367.74" y="14.10" width="6.92" height="6.93" fill="#ffcc4d"/>
<rect x="374.05" y="14.10" width="6.92" height="6.93" fill="#ffcc4d"/>
<rect x="380.37" y="14.10" width="6.92" height="6.93" fill="#ff991a"/>
<rect x="386.69" y="14.10" width="6.92" height="6.93" fill="#b43400"/>
<rect x="393.01" y="14.10" width="6.92" height="6.93" fill="#4d0000"/>
<rect x="399.33" y="14.10" width="6.92" height="6.93" fill="#4d0000"/>
<rect x="405.65" y="14.10" width="6.92" height="6.93" fill="#4d0000"/>
<rect x="411.96" y="14.10" width="6.92" height="6.93" fill="#730000"/>
<rect x="418.28" y="14.10" width="6.92" height="6.93" fill="#800000"/>
<rect x="424.60" y="14.10" width="6.92" height="6.93" fill="#800000"/>
<rect x="430.92" y="14.10" width="6.92" height="6.93" fill="#4d0000"/>
<rect x="437.24" y="14.10" width="6.92" height="6.93" fill="#4d0000"/>
<rect x="443.55" y="14.10" width="6.92" height="6.93" fill="#800000"/>
<rect x="449.87" y="14.10" width="6.92" height="6.93" fill="#800000"/>
<rect x="456.19" y="14.10" width="6.92" height="6.93" fill="#800000"/>
<rect x="462.51" y="14.10" width="6.92" height="6.93" fill="#800000"/>
<rect x="468.83" y="14.10" width="6.92" height="6.93" fill="#b33300"/>
<rect x="475.15" y="14.10" width="6.92" height="6.93" fill="#b33300"/>
<rect x="481.46" y="14.10" width="6.92" height="6.93" fill="#b33300"/>
<rect x="487.78" y="14.10" width="6.92" height="6.93" fill="#b33300"/>
<rect x="494.10" y="14.10" width="6.92" height="6.93" fill="#b33300"/>
<rect x="500.42" y="14.10" width="6.92" height="6.93" fill="#b33300"/>
<rect x="342.46" y="20.43" width="6.92" height="6.93" fill="#ffcc4d"/>
<rect x="348.78" y="20.43" width="6.92" height="6.93" fill="#ffcc4d"/>
<rect x="355.10" y="20.43" width="6.92" height="6.93" fill="#ffcc4d"/>
<rect x="361.42" y="20.43" width="6.92" height="6.93" fill="#ffcc4d"/>
<rect x="367.74" y="20.43" width="6.92" height="6.93" fill="#ffcc4d"/>
<rect x="374.05" y="20.43" width="6.92" height="6.93" fill="#ffcc4d"/>
<rect x="380.37" y="20.43" width="6.92" height="6.93" fill="#ff991a"/>
<rect x="386.69" y="20.43" width="6.92" height="6.93" fill="#b63600"/>
<rect x="393.01" y="20.43" width="6.92" height="6.93" fill="#4d0000"/>
<rect x="399.33" y="20.43" width="6.92" height="6.93" fill="#4d0000"/>
<rect x="405.65" y="20.43" width="6.92" height="6.93" fill="#4d0000"/>
<rect x="411.96" y="20.43" width="6.92" height="6.93" fill="#660000"/>
<rect x="418.28" y="20.43" width="6.92" height="6.93" fill="#800000"/>
<rect x="424.60" y="20.43" width="6.92" height="6.93" fill="#b33300"/>
<rect x="430.92" y="20.43" width="6.92" height="6.93" fill="#800000"/>
<rect x="437.24" y="20.43" width="6.92" height="6.93" fill="#b33300"/>
<rect x="443.55" y="20.43" width="6.92" height="6.93" fill="#b33300"/>
<rect x="449.87" y="20.43" width="6.92" height="6.93" fill="#800000"/>
<rect x="456.19" y="20.43" width="6.92" height="6.93" fill="#800000"/>
<rect x="462.51" y="20.43" width="6.92" height="6.93" fill="#800000"/>
<rect x="468.83" y="20.43" width="6.92" height="6.93" fill="#b33300"/>
<rect x="475.15" y="20.43" width="6.92" height="6.93" fill="#e56600"/>
<rect x="481.46" y="20.43" width="6.92" height="6.93" fill="#e56600"/>
<rect x="487.78" y="20.43" width="6.92" height="6.93" fill="#e56600"/>
<rect x="494.10" y="20.43" width="6.92" height="6.93" fill="#e56600"/>
<rect x="500.42" y="20.43" width="6.92" height="6.93" fill="#e56600"/>
<rect x="361.42" y="26.77" width="6.92" height="6.93" fill="#ffcc4d"/>
<rect x="367.74" y="26.77" width="6.92" height="6.93" fill="#ffcc4d"/>
<rect x="374.05" y="26.77" width="6.92" height="6.93" fill="#ffcc4d"/>
<rect x="380.37" y="26.77" width="6.92" height="6.93" fill="#ff991a"/>
<rect x="386.69" y="26.77" width="6.92" height="6.93" fill="#bc3d00"/>
<rect x="393.01" y="26.77" width="6.92" height="6.93" fill="#4d0000"/>
<rect x="399.33" y="26.77" width="6.92" height="6.93" fill="#4d0000"/>
<rect x="405.65" y="26.77" width="6.92" height="6.93" fill="#4d0000"/>
<rect x="411.96" y="26.77" width="6.92" height="6.93" fill="#4d0000"/>
<rect x="418.28" y="26.77" width="6.92" height="6.93" fill="#4d0000"/>
<rect x="424.60" y="26.77" width="6.92" height="6.93" fill="#800000"/>
<rect x="430.92" y="26.77" width="6.92" height="6.93" fill="#800000"/>
<rect x="437.24" y="26.77" width="6.92" height="6.93" fill="#991a00"/>
<rect x="443.55" y="26.77" width="6.92" height="6.93" fill="#b33300"/>
<rect x="449.87" y="26.77" width="6.92" height="6.93" fill="#b33300"/>
<rect x="456.19" y="26.77" width="6.92" height="6.93" fill="#b33300"/>
<rect x="462.51" y="26.77" width="6.92" height="6.93" fill="#b33300"/>
<rect x="468.83" y="26.77" width="6.92" height="6.93" fill="#e56600"/>
<rect x="475.15" y="26.77" width="6.92" height="6.93" fill="#e56600"/>
<rect x="481.46" y="26.77" width="6.92" height="6.93" fill="#e56600"/>
<rect x="487.78" y="26.77" width="6.92" height="6.93" fill="#e56600"/>
<rect x="494.10" y="26.77" width="6.92" height="6.93" fill="#e56600"/>
<rect x="500.42" y="26.77" width="6.92" height="6.93" fill="#e56600"/>
<rect x="361.42" y="33.10" width="6.92" height="6.93" fill="#ffcc4d"/>
<rect x="367.74" y="33.10" width="6.92" height="6.93" fill="#ffcc4d"/>
<rect x="374.05" y="33.10" width="6.92" height="6.93" fill="#ffcc4d"/>
<rect x="380.37" y="33.10" width="6.92" height="6.93" fill="#ff991a"/>
<rect x="386.69" y="33.10" width="6.92" height="6.93" fill="#d05100"/>
<rect x="393.01" y="33.10" width="6.92" height="6.93" fill="#4d0000"/>
<rect x="399.33" y="33.10" width="6.92" height="6.93" fill="#4d0000"/>
<rect x="405.65" y="33.10" width="6.92" height="6.93" fill="#4d0000"/>
<rect x="411.96" y="33.10" width="6.92" height="6.93" fill="#4d0000"/>
<rect x="418.28" y="33.10" width="6.92" height="6.93" fill="#4d0000"/>
<rect x="424.60" y="33.10" width="6.92" height="6.93" fill="#4d0000"/>
<rect x="430.92" y="33.10" width="6.92" height="6.93" fill="#800000"/>
<rect x="437.24" y="33.10" width="6.92" height="6.93" fill="#800000"/>
<rect x="443.55" y="33.10" width="6.92" height="6.93" fill="#e56600"/>
<rect x="449.87" y="33.10" width="6.92" height="6.93" fill="#e56600"/>
<rect x="456.19" y="33.10" width="6.92" height="6.93" fill="#e56600"/>
<rect x="462.51" y="33.10" width="6.92" height="6.93" fill="#e56600"/>
<rect x="468.83" y="33.10" width="6.92" height="6.93" fill="#e56600"/>
<rect x="475.15" y="33.10" width="6.92" height="6.93" fill="#ff991a"/>
<rect x="481.46" y="33.10" width="6.92" height="6.93" fill="#ff991a"/>
<rect x="487.78" y="33.10" width="6.92" height="6.93" fill="#ff991a"/>
<rect x="494.10" y="33.10" width="6.92" height="6.93" fill="#ff991a"/>
<rect x="500.42" y="33.10" width="6.92" height="6.93" fill="#ff991a"/>
<rect x="342.46" y="39.43" width="6.92" height="6.93" fill="#ffcc4d"/>
<rect x="348.78" y="39.43" width="6.92" height="6.93" fill="#ffcc4d"/>
<rect x="355.10" y="39.43" width="6.92" height="6.93" fill="#ffcc4d"/>
<rect x="361.42" y="39.43" width="6.92" height="6.93" fill="#ffcc4d"/>
<rect x="367.74" y="39.43" width="6.92" height="6.93" fill="#ffcc4d"/>
<rect x="374.05" y="39.43" width="6.92" height="6.93" fill="#ffcc4d"/>
<rect x="380.37" y="39.43" width="6.92" height="6.93" fill="#ff991a"/>
<rect x="386.69" y="39.43" width="6.92" height="6.93" fill="#ff8c0d"/>
<rect x="393.01" y="39.43" width="6.92" height="6.93" fill="#4d0000"/>
<rect x="399.33" y="39.43" width="6.92" height="6.93" fill="#4d0000"/>
<rect x="405.65" y="39.43" width="6.92" height="6.93" fill="#4d0000"/>
<rect x="411.96" y="39.43" width="6.92" height="6.93" fill="#4d0000"/>
<rect x="418.28" y="39.43" width="6.92" height="6.93" fill="#4d0000"/>
<rect x="424.60" y="39.43" width="6.92" height="6.93" fill="#4d0000"/>
<rect x="430.92" y="39.43" width="6.92" height="6.93" fill="#800000"/>
<rect x="437.24" y="39.43" width="6.92" height="6.93" fill="#800000"/>
<rect x="443.55" y="39.43" width="6.92" height="6.93" fill="#e56600"/>
<rect x="449.87" y="39.43" width="6.92" height="6.93" fill="#e56600"/>
<rect x="456.19" y="39.43" width="6.92" height="6.93" fill="#e56600"/>
<rect x="462.51" y="39.43" width="6.92" height="6.93" fill="#ff991a"/>
<rect x="468.83" y="39.43" width="6.92" height="6.93" fill="#ff991a"/>
<rect x="475.15" y="39.43" width="6.92" height="6.93" fill="#ffcc4d"/>
<rect x="481.46" y="39.43" width="6.92" height="6.93" fill="#ffcc4d"/>
<rect x="487.78" y="39.43" width="6.92" height="6.93" fill="#ffcc4d"/>
<rect x="494.10" y="39.43" width="6.92" height="6.93" fill="#ffcc4d"/>
<rect x="500.42" y="39.43" width="6.92" height="6.93" fill="#ffcc4d"/>
<rect x="342.46" y="45.77" width="6.92" height="6.93" fill="#ffcc4d"/>
<rect x="348.78" y="45.77" width="6.92" height="6.93" fill="#ffcc4d"/>
<rect x="355.10" y="45.77" width="6.92" height="6.93" fill="#ffcc4d"/>
<rect x="361.42" y="45.77" width="6.92" height="6.93" fill="#ffcc4d"/>
<rect x="367.74" y="45.77" width="6.92" height="6.93" fill="#ffcc4d"/>
<rect x="374.05" y="45.77" width="6.92" height="6.93" fill="#ffcc4d"/>
<rect x="380.37" y="45.77" width="6.92" height="6.93" fill="#ff991a"/>
<rect x="386.69" y="45.77" width="6.92" height="6.93" fill="#ff8000"/>
<rect x="393.01" y="45.77" width="6.92" height="6.93" fill="#f27300"/>
<rect x="399.33" y="45.77" width="6.92" height="6.93" fill="#6f0000"/>
<rect x="405.65" y="45.77" width="6.92" height="6.93" fill="#4d0000"/>
<rect x="411.96" y="45.77" width="6.92" height="6.93" fill="#4d0000"/>
<rect x="418.28" y="45.77" width="6.92" height="6.93" fill="#4d0000"/>
<rect x="424.60" y="45.77" width="6.92" height="6.93" fill="#4d0000"/>
<rect x="430.92" y="45.77" width="6.92" height="6.93" fill="#660000"/>
<rect x="437.24" y="45.77" width="6.92" height="6.93" fill="#ac2d00"/>
<rect x="443.55" y="45.77" width="6.92" height="6.93" fill="#ff991a"/>
<rect x="449.87" y="45.77" width="6.92" height="6.93" fill="#ffcc4d"/>
<rect x="456.19" y="45.77" width="6.92" height="6.93" fill="#ffff80"/>
<rect x="462.51" y="45.77" width="6.92" height="6.93" fill="#ffcc4d"/>
<rect x="468.83" y="45.77" width="6.92" height="6.93" fill="#ffff80"/>
<rect x="475.15" y="45.77" width="6.92" height="6.93" fill="#ffff80"/>
<rect x="481.46" y="45.77" width="6.92" height="6.93" fill="#ffff80"/>
<rect x="487.78" y="45.77" width="6.92" height="6.93" fill="#ffff80"/>
<rect x="494.10" y="45.77" width="6.92" height="6.93" fill="#ffff80"/>
<rect x="500.42" y="45.77" width="6.92" height="6.93" fill="#ffff80"/>
<rect x="342.46" y="52.10" width="6.92" height="6.93" fill="#ffff9f"/>
<rect x="348.78" y="52.10" width="6.92" height="6.93" fill="#ffff9f"/>
<rect x="355.10" y="52.10" width="6.92" height="6.93" fill="#ffff9f"/>
<rect x="361.42" y="52.10" width="6.92" height="6.93" fill="#ffff8c"/>
<rect x="367.74" y="52.10" width="6.92" height="6.93" fill="#ffe566"/>
<rect x="374.05" y="52.10" width="6.92" height="6.93" fill="#ff991a"/>
<rect x="380.37" y="52.10" width="6.92" height="6.93" fill="#ff991a"/>
<rect x="386.69" y="52.10" width="6.92" height="6.93" fill="#e56600"/>
<rect x="393.01" y="52.10" width="6.92" height="6.93" fill="#e56600"/>
<rect x="399.33" y="52.10" width="6.92" height="6.93" fill="#b33300"/>
<rect x="405.65" y="52.10" width="6.92" height="6.93" fill="#991a00"/>
<rect x="411.96" y="52.10" width="6.92" height="6.93" fill="#800000"/>
<rect x="418.28" y="52.10" width="6.92" height="6.93" fill="#4d0000"/>
<rect x="424.60" y="52.10" width="6.92" height="6.93" fill="#800000"/>
<rect x="430.92" y="52.10" width="6.92" height="6.93" fill="#800000"/>
<rect x="437.24" y="52.10" width="6.92" height="6.93" fill="#b33300"/>
<rect x="443.55" y="52.10" width="6.92" height="6.93" fill="#e56600"/>
<rect x="449.87" y="52.10" width="6.92" height="6.93" fill="#ff991a"/>
<rect x="456.19" y="52.10" width="6.92" height="6.93" fill="#ffcc4d"/>
<rect x="462.51" y="52.10" width="6.92" height="6.93" fill="#ffcc4d"/>
<rect x="468.83" y="52.10" width="6.92" height="6.93" fill="#ffff80"/>
<rect x="475.15" y="52.10" width="6.92" height="6.93" fill="#ffff80"/>
<rect x="481.46" y="52.10" width="6.92" height="6.93" fill="#ffcc4d"/>
<rect x="487.78" y="52.10" width="6.92" height="6.93" fill="#ffcc4d"/>
<rect x="494.10" y="52.10" width="6.92" height="6.93" fill="#ffcc4d"/>
<rect x="500.42" y="52.10" width="6.92" height="6.93" fill="#ffcc4d"/>
<rect x="342.46" y="58.43" width="6.92" height="6.93" fill="#ffffb3"/>
<rect x="348.78" y="58.43" width="6.92" height="6.93" fill="#ffffb3"/>
<rect x="355.10" y="58.43" width="6.92" height="6.93" fill="#ffffb3"/>
<rect x="361.42" y="58.43" width="6.92" height="6.93" fill="#ffffb3"/>
<rect x="367.74" y="58.43" width="6.92" height="6.93" fill="#ffffb3"/>
<rect x="374.05" y="58.43" width="6.92" height="6.93" fill="#ffffb3"/>
<rect x="380.37" y="58.43" width="6.92" height="6.93" fill="#ff991a"/>
<rect x="386.69" y="58.43" width="6.92" height="6.93" fill="#e56600"/>
<rect x="393.01" y="58.43" width="6.92" height="6.93" fill="#e56600"/>
<rect x="399.33" y="58.43" width="6.92" height="6.93" fill="#b33300"/>
<rect x="405.65" y="58.43" width="6.92" height="6.93" fill="#b33300"/>
<rect x="411.96" y="58.43" width="6.92" height="6.93" fill="#4d0000"/>
<rect x="418.28" y="58.43" width="6.92" height="6.93" fill="#080000"/>
<rect x="424.60" y="58.43" width="6.92" height="6.93" fill="#4d0000"/>
<rect x="430.92" y="58.43" width="6.92" height="6.93" fill="#800000"/>
<rect x="437.24" y="58.43" width="6.92" height="6.93" fill="#800000"/>
<rect x="443.55" y="58.43" width="6.92" height="6.93" fill="#b33300"/>
<rect x="449.87" y="58.43" width="6.92" height="6.93" fill="#e56600"/>
<rect x="456.19" y="58.43" width="6.92" height="6.93" fill="#e56600"/>
<rect x="462.51" y="58.43" width="6.92" height="6.93" fill="#ffcc4d"/>
<rect x="468.83" y="58.43" width="6.92" height="6.93" fill="#ff991a"/>
<rect x="475.15" y="58.43" width="6.92" height="6.93" fill="#e56600"/>
<rect x="481.46" y="58.43" width="6.92" height="6.93" fill="#ff991a"/>
<rect x="487.78" y="58.43" width="6.92" height="6.93" fill="#ff991a"/>
<rect x="494.10" y="58.43" width="6.92" height="6.93" fill="#ff991a"/>
<rect x="500.42" y="58.43" width="6.92" height="6.93" fill="#ff991a"/>
<rect x="342.46" y="64.77" width="6.92" height="6.93" fill="#ffffb3"/>
<rect x="348.78" y="64.77" width="6.92" height="6.93" fill="#ffffb3"/>
<rect x="355.10" y="64.77" width="6.92" height="6.93" fill="#ffffb3"/>
<rect x="361.42" y="64.77" width="6.92" height="6.93" fill="#ffffb3"/>
<rect x="367.74" y="64.77" width="6.92" height="6.93" fill="#ffffb3"/>
<rect x="374.05" y="64.77" width="6.92" height="6.93" fill="#ffe566"/>
<rect x="380.37" y="64.77" width="6.92" height="6.93" fill="#ff991a"/>
<rect x="386.69" y="64.77" width="6.92" height="6.93" fill="#e56600"/>
<rect x="393.01" y="64.77" width="6.92" height="6.93" fill="#b33300"/>
<rect x="399.33" y="64.77" width="6.92" height="6.93" fill="#b33300"/>
<rect x="405.65" y="64.77" width="6.92" height="6.93" fill="#b33300"/>
<rect x="411.96" y="64.77" width="6.92" height="6.93" fill="#800000"/>
<rect x="418.28" y="64.77" width="6.92" height="6.93" fill="#800000"/>
<rect x="424.60" y="64.77" width="6.92" height="6.93" fill="#800000"/>
<rect x="430.92" y="64.77" width="6.92" height="6.93" fill="#b33300"/>
<rect x="437.24" y="64.77" width="6.92" height="6.93" fill="#ff991a"/>
<rect x="443.55" y="64.77" width="6.92" height="6.93" fill="#ff991a"/>
<rect x="449.87" y="64.77" width="6.92" height="6.93" fill="#ffcc4d"/>
<rect x="456.19" y="64.77" width="6.92" height="6.93" fill="#ff991a"/>
<rect x="462.51" y="64.77" width="6.92" height="6.93" fill="#ffcc4d"/>
<rect x="468.83" y="64.77" width="6.92" height="6.93" fill="#ffcc4d"/>
<rect x="475.15" y="64.77" width="6.92" height="6.93" fill="#ff991a"/>
<rect x="481.46" y="64.77" width="6.92" height="6.93" fill="#e56600"/>
<rect x="487.78" y="64.77" width="6.92" height="6.93" fill="#b33300"/>
<rect x="494.10" y="64.77" width="6.92" height="6.93" fill="#b33300"/>
<rect x="500.42" y="64.77" width="6.92" height="6.93" fill="#b33300"/>
<rect x="342.46" y="71.10" width="6.92" height="6.93" fill="#ffc849"/>
<rect x="348.78" y="71.10" width="6.92" height="6.93" fill="#ffc849"/>
<rect x="355.10" y="71.10" width="6.92" height="6.93" fill="#ffc849"/>
<rect x="361.42" y="71.10" width="6.92" height="6.93" fill="#ffc141"/>
<rect x="367.74" y="71.10" width="6.92" height="6.93" fill="#ffaa2a"/>
<rect x="374.05" y="71.10" width="6.92" height="6.93" fill="#e56600"/>
<rect x="380.37" y="71.10" width="6.92" height="6.93" fill="#e56600"/>
<rect x="386.69" y="71.10" width="6.92" height="6.93" fill="#e56600"/>
<rect x="393.01" y="71.10" width="6.92" height="6.93" fill="#ff991a"/>
<rect x="399.33" y="71.10" width="6.92" height="6.93" fill="#ff991a"/>
<rect x="405.65" y="71.10" width="6.92" height="6.93" fill="#ffcc4d"/>
<rect x="411.96" y="71.10" width="6.92" height="6.93" fill="#ffcc4d"/>
<rect x="418.28" y="71.10" width="6.92" height="6.93" fill="#ff991a"/>
<rect x="424.60" y="71.10" width="6.92" height="6.93" fill="#e56600"/>
<rect x="430.92" y="71.10" width="6.92" height="6.93" fill="#e56600"/>
<rect x="437.24" y="71.10" width="6.92" height="6.93" fill="#ffcc4d"/>
<rect x="443.55" y="71.10" width="6.92" height="6.93" fill="#ffcc4d"/>
<rect x="449.87" y="71.10" width="6.92" height="6.93" fill="#ffff80"/>
<rect x="456.19" y="71.10" width="6.92" height="6.93" fill="#ffff80"/>
<rect x="462.51" y="71.10" width="6.92" height="6.93" fill="#ffcc4d"/>
<rect x="468.83" y="71.10" width="6.92" height="6.93" fill="#ff991a"/>
<rect x="475.15" y="71.10" width="6.92" height="6.93" fill="#e56600"/>
<rect x="481.46" y="71.10" width="6.92" height="6.93" fill="#b33300"/>
<rect x="487.78" y="71.10" width="6.92" height="6.93" fill="#b33300"/>
<rect x="494.10" y="71.10" width="6.92" height="6.93" fill="#b33300"/>
<rect x="500.42" y="71.10" width="6.92" height="6.93" fill="#b33300"/>
<rect x="342.46" y="77.43" width="6.92" height="6.93" fill="#e56600"/>
<rect x="348.78" y="77.43" width="6.92" height="6.93" fill="#e56600"/>
<rect x="355.10" y="77.43" width="6.92" height="6.93" fill="#e56600"/>
<rect x="361.42" y="77.43" width="6.92" height="6.93" fill="#e56600"/>
<rect x="367.74" y="77.43" width="6.92" height="6.93" fill="#e56600"/>
<rect x="374.05" y="77.43" width="6.92" height="6.93" fill="#b33300"/>
<rect x="380.37" y="77.43" width="6.92" height="6.93" fill="#f67700"/>
<rect x="386.69" y="77.43" width="6.92" height="6.93" fill="#ff991a"/>
<rect x="393.01" y="77.43" width="6.92" height="6.93" fill="#ff991a"/>
<rect x="399.33" y="77.43" width="6.92" height="6.93" fill="#ffcc4d"/>
<rect x="405.65" y="77.43" width="6.92" height="6.93" fill="#ffcc4d"/>
<rect x="411.96" y="77.43" width="6.92" height="6.93" fill="#ff991a"/>
<rect x="418.28" y="77.43" width="6.92" height="6.93" fill="#ff991a"/>
<rect x="424.60" y="77.43" width="6.92" height="6.93" fill="#ff991a"/>
<rect x="430.92" y="77.43" width="6.92" height="6.93" fill="#ffcc4d"/>
<rect x="437.24" y="77.43" width="6.92" height="6.93" fill="#ffcc4d"/>
<rect x="443.55" y="77.43" width="6.92" height="6.93" fill="#ffff80"/>
<rect x="449.87" y="77.43" width="6.92" height="6.93" fill="#ffcc4d"/>
<rect x="456.19" y="77.43" width="6.92" height="6.93" fill="#ff991a"/>
<rect x="462.51" y="77.43" width="6.92" height="6.93" fill="#e56600"/>
<rect x="468.83" y="77.43" width="6.92" height="6.93" fill="#e56600"/>
<rect x="475.15" y="77.43" width="6.92" height="6.93" fill="#d55500"/>
<rect x="481.46" y="77.43" width="6.92" height="6.93" fill="#b33300"/>
<rect x="487.78" y="77.43" width="6.92" height="6.93" fill="#e56600"/>
<rect x="494.10" y="77.43" width="6.92" height="6.93" fill="#e56600"/>
<rect x="500.42" y="77.43" width="6.92" height="6.93" fill="#e56600"/>
<rect x="342.46" y="83.77" width="6.92" height="6.93" fill="#e56600"/>
<rect x="348.78" y="83.77" width="6.92" height="6.93" fill="#e56600"/>
<rect x="355.10" y="83.77" width="6.92" height="6.93" fill="#e56600"/>
<rect x="361.42" y="83.77" width="6.92" height="6.93" fill="#e56600"/>
<rect x="367.74" y="83.77" width="6.92" height="6.93" fill="#e56600"/>
<rect x="374.05" y="83.77" width="6.92" height="6.93" fill="#b33300"/>
<rect x="380.37" y="83.77" width="6.92" height="6.93" fill="#e56600"/>
<rect x="386.69" y="83.77" width="6.92" height="6.93" fill="#ff991a"/>
<rect x="393.01" y="83.77" width="6.92" height="6.93" fill="#ff991a"/>
<rect x="399.33" y="83.77" width="6.92" height="6.93" fill="#ffb333"/>
<rect x="405.65" y="83.77" width="6.92" height="6.93" fill="#ffcc4d"/>
<rect x="411.96" y="83.77" width="6.92" height="6.93" fill="#ffcc4d"/>
<rect x="418.28" y="83.77" width="6.92" height="6.93" fill="#ff991a"/>
<rect x="424.60" y="83.77" width="6.92" height="6.93" fill="#ff991a"/>
<rect x="430.92" y="83.77" width="6.92" height="6.93" fill="#ffbb3c"/>
<rect x="437.24" y="83.77" width="6.92" height="6.93" fill="#ffcc4d"/>
<rect x="443.55" y="83.77" width="6.92" height="6.93" fill="#ffcc4d"/>
<rect x="449.87" y="83.77" width="6.92" height="6.93" fill="#ffcc4d"/>
<rect x="456.19" y="83.77" width="6.92" height="6.93" fill="#ffcc4d"/>
<rect x="462.51" y="83.77" width="6.92" height="6.93" fill="#ff991a"/>
<rect x="468.83" y="83.77" width="6.92" height="6.93" fill="#e56600"/>
<rect x="475.15" y="83.77" width="6.92" height="6.93" fill="#ff991a"/>
<rect x="481.46" y="83.77" width="6.92" height="6.93" fill="#cc4d00"/>
<rect x="487.78" y="83.77" width="6.92" height="6.93" fill="#ff8000"/>
<rect x="494.10" y="83.77" width="6.92" height="6.93" fill="#ff8000"/>
<rect x="500.42" y="83.77" width="6.92" height="6.93" fill="#ff8000"/>
<rect x="342.46" y="90.10" width="6.92" height="6.93" fill="#b33300"/>
<rect x="348.78" y="90.10" width="6.92" height="6.93" fill="#b33300"/>
<rect x="355.10" y="90.10" width="6.92" height="6.93" fill="#b33300"/>
<rect x="361.42" y="90.10" width="6.92" height="6.93" fill="#b33300"/>
<rect x="367.74" y="90.10" width="6.92" height="6.93" fill="#b33300"/>
<rect x="374.05" y="90.10" width="6.92" height="6.93" fill="#800000"/>
<rect x="380.37" y="90.10" width="6.92" height="6.93" fill="#b33300"/>
<rect x="386.69" y="90.10" width="6.92" height="6.93" fill="#ff991a"/>
<rect x="393.01" y="90.10" width="6.92" height="6.93" fill="#ff991a"/>
<rect x="399.33" y="90.10" width="6.92" height="6.93" fill="#ffe566"/>
<rect x="405.65" y="90.10" width="6.92" height="6.93" fill="#ffff80"/>
<rect x="411.96" y="90.10" width="6.92" height="6.93" fill="#ffcc4d"/>
<rect x="418.28" y="90.10" width="6.92" height="6.93" fill="#ffcc4d"/>
<rect x="424.60" y="90.10" width="6.92" height="6.93" fill="#ff991a"/>
<rect x="430.92" y="90.10" width="6.92" height="6.93" fill="#ffb333"/>
<rect x="437.24" y="90.10" width="6.92" height="6.93" fill="#ffcc4d"/>
<rect x="443.55" y="90.10" width="6.92" height="6.93" fill="#ff991a"/>
<rect x="449.87" y="90.10" width="6.92" height="6.93" fill="#ffcc4d"/>
<rect x="456.19" y="90.10" width="6.92" height="6.93" fill="#ff991a"/>
<rect x="462.51" y="90.10" width="6.92" height="6.93" fill="#ff991a"/>
<rect x="468.83" y="90.10" width="6.92" height="6.93" fill="#e56600"/>
<rect x="475.15" y="90.10" width="6.92" height="6.93" fill="#ff991a"/>
<rect x="481.46" y="90.10" width="6.92" height="6.93" fill="#e56600"/>
<rect x="487.78" y="90.10" width="6.92" height="6.93" fill="#ff991a"/>
<rect x="494.10" y="90.10" width="6.92" height="6.93" fill="#ff991a"/>
<rect x="500.42" y="90.10" width="6.92" height="6.93" fill="#ff991a"/>
<rect x="342.46" y="96.43" width="6.92" height="6.93" fill="#b33300"/>
<rect x="348.78" y="96.43" width="6.92" height="6.93" fill="#b33300"/>
<rect x="355.10" y="96.43" width="6.92" height="6.93" fill="#b33300"/>
<rect x="361.42" y="96.43" width="6.92" height="6.93" fill="#b33300"/>
<rect x="367.74" y="96.43" width="6.92" height="6.93" fill="#b33300"/>
<rect x="374.05" y="96.43" width="6.92" height="6.93" fill="#b33300"/>
<rect x="380.37" y="96.43" width="6.92" height="6.93" fill="#b33300"/>
<rect x="386.69" y="96.43" width="6.92" height="6.93" fill="#e56600"/>
<rect x="393.01" y="96.43" width="6.92" height="6.93" fill="#ffffb3"/>
<rect x="399.33" y="96.43" width="6.92" height="6.93" fill="#ffffb3"/>
<rect x="405.65" y="96.43" width="6.92" height="6.93" fill="#ffffb3"/>
<rect x="411.96" y="96.43" width="6.92" height="6.93" fill="#ffffb3"/>
<rect x="418.28" y="96.43" width="6.92" height="6.93" fill="#ffffb3"/>
<rect x="424.60" y="96.43" width="6.92" height="6.93" fill="#ffcc4d"/>
<rect x="430.92" y="96.43" width="6.92" height="6.93" fill="#ffcc4d"/>
<rect x="437.24" y="96.43" width="6.92" height="6.93" fill="#ffcc4d"/>
<rect x="443.55" y="96.43" width="6.92" height="6.93" fill="#ffcc4d"/>
<rect x="449.87" y="96.43" width="6.92" height="6.93" fill="#ffbb3c"/>
<rect x="456.19" y="96.43" width="6.92" height="6.93" fill="#ff991a"/>
<rect x="462.51" y="96.43" width="6.92" height="6.93" fill="#e56600"/>
<rect x="468.83" y="96.43" width="6.92" height="6.93" fill="#ff991a"/>
<rect x="475.15" y="96.43" width="6.92" height="6.93" fill="#ff991a"/>
<rect x="481.46" y="96.43" width="6.92" height="6.93" fill="#ff991a"/>
<rect x="487.78" y="96.43" width="6.92" height="6.93" fill="#e56600"/>
<rect x="494.10" y="96.43" width="6.92" height="6.93" fill="#e56600"/>
<rect x="500.42" y="96.43" width="6.92" height="6.93" fill="#e56600"/>
<rect x="342.46" y="102.77" width="6.92" height="6.93" fill="#b33300"/>
<rect x="348.78" y="102.77" width="6.92" height="6.93" fill="#b33300"/>
<rect x="355.10" y="102.77" width="6.92" height="6.93" fill="#b33300"/>
<rect x="361.42" y="102.77" width="6.92" height="6.93" fill="#b33300"/>
<rect x="367.74" y="102.77" width="6.92" height="6.93" fill="#b33300"/>
<rect x="374.05" y="102.77" width="6.92" height="6.93" fill="#b33300"/>
<rect x="380.37" y="102.77" width="6.92" height="6.93" fill="#e56600"/>
<rect x="386.69" y="102.77" width="6.92" height="6.93" fill="#e56600"/>
<rect x="393.01" y="102.77" width="6.92" height="6.93" fill="#ffffb3"/>
<rect x="399.33" y="102.77" width="6.92" height="6.93" fill="#ffffb3"/>
<rect x="405.65" y="102.77" width="6.92" height="6.93" fill="#ffffb3"/>
<rect x="411.96" y="102.77" width="6.92" height="6.93" fill="#ffffb3"/>
<rect x="418.28" y="102.77" width="6.92" height="6.93" fill="#ffffb3"/>
<rect x="424.60" y="102.77" width="6.92" height="6.93" fill="#ffcc4d"/>
<rect x="430.92" y="102.77" width="6.92" height="6.93" fill="#ffe566"/>
<rect x="437.24" y="102.77" width="6.92" height="6.93" fill="#ffff80"/>
<rect x="443.55" y="102.77" width="6.92" height="6.93" fill="#ffff80"/>
<rect x="449.87" y="102.77" width="6.92" height="6.93" fill="#ffff80"/>
<rect x="456.19" y="102.77" width="6.92" height="6.93" fill="#ffb333"/>
<rect x="462.51" y="102.77" width="6.92" height="6.93" fill="#ffcc4d"/>
<rect x="468.83" y="102.77" width="6.92" height="6.93" fill="#ffcc4d"/>
<rect x="475.15" y="102.77" width="6.92" height="6.93" fill="#ffcc4d"/>
<rect x="481.46" y="102.77" width="6.92" height="6.93" fill="#ffcc4d"/>
<rect x="487.78" y="102.77" width="6.92" height="6.93" fill="#ffcc4d"/>
<rect x="494.10" y="102.77" width="6.92" height="6.93" fill="#ffcc4d"/>
<rect x="500.42" y="102.77" width="6.92" height="6.93" fill="#ffcc4d"/>
<rect x="342.46" y="109.10" width="6.92" height="6.93" fill="#b33300"/>
<rect x="348.78" y="109.10" width="6.92" height="6.93" fill="#b33300"/>
<rect x="355.10" y="109.10" width="6.92" height="6.93" fill="#b33300"/>
<rect x="361.42" y="109.10" width="6.92" height="6.93" fill="#b33300"/>
<rect x="367.74" y="109.10" width="6.92" height="6.93" fill="#b33300"/>
<rect x="374.05" y="109.10" width="6.92" height="6.93" fill="#b33300"/>
<rect x="380.37" y="109.10" width="6.92" height="6.93" fill="#e56600"/>
<rect x="386.69" y="109.10" width="6.92" height="6.93" fill="#e56600"/>
<rect x="393.01" y="109.10" width="6.92" height="6.93" fill="#ffffb3"/>
<rect x="399.33" y="109.10" width="6.92" height="6.93" fill="#ffffb3"/>
<rect x="405.65" y="109.10" width="6.92" height="6.93" fill="#ffffb3"/>
<rect x="411.96" y="109.10" width="6.92" height="6.93" fill="#ffffb3"/>
<rect x="418.28" y="109.10" width="6.92" height="6.93" fill="#ffffb3"/>
<rect x="424.60" y="109.10" width="6.92" height="6.93" fill="#ffcc4d"/>
<rect x="430.92" y="109.10" width="6.92" height="6.93" fill="#ffe566"/>
<rect x="437.24" y="109.10" width="6.92" height="6.93" fill="#ffff80"/>
<rect x="443.55" y="109.10" width="6.92" height="6.93" fill="#ffff80"/>
<rect x="449.87" y="109.10" width="6.92" height="6.93" fill="#ffff80"/>
<rect x="456.19" y="109.10" width="6.92" height="6.93" fill="#ffb333"/>
<rect x="462.51" y="109.10" width="6.92" height="6.93" fill="#ffcc4d"/>
<rect x="468.83" y="109.10" width="6.92" height="6.93" fill="#ffcc4d"/>
<rect x="475.15" y="109.10" width="6.92" height="6.93" fill="#ffcc4d"/>
<rect x="481.46" y="109.10" width="6.92" height="6.93" fill="#ffcc4d"/>
<rect x="487.78" y="109.10" width="6.92" height="6.93" fill="#ffcc4d"/>
<rect x="494.10" y="109.10" width="6.92" height="6.93" fill="#ffcc4d"/>
<rect x="500.42" y="109.10" width="6.92" height="6.93" fill="#ffcc4d"/>
<rect x="342.46" y="115.43" width="6.92" height="6.93" fill="#b33300"/>
<rect x="348.78" y="115.43" width="6.92" height="6.93" fill="#b33300"/>
<rect x="355.10" y="115.43" width="6.92" height="6.93" fill="#b33300"/>
<rect x="361.42" y="115.43" width="6.92" height="6.93" fill="#b33300"/>
<rect x="367.74" y="115.43" width="6.92" height="6.93" fill="#b33300"/>
<rect x="374.05" y="115.43" width="6.92" height="6.93" fill="#b33300"/>
<rect x="380.37" y="115.43" width="6.92" height="6.93" fill="#e56600"/>
<rect x="386.69" y="115.43" width="6.92" height="6.93" fill="#e56600"/>
<rect x="393.01" y="115.43" width="6.92" height="6.93" fill="#ffffb3"/>
<rect x="399.33" y="115.43" width="6.92" height="6.93" fill="#ffffb3"/>
<rect x="405.65" y="115.43" width="6.92" height="6.93" fill="#ffffb3"/>
<rect x="411.96" y="115.43" width="6.92" height="6.93" fill="#ffffb3"/>
<rect x="418.28" y="115.43" width="6.92" height="6.93" fill="#ffffb3"/>
<rect x="424.60" y="115.43" width="6.92" height="6.93" fill="#ffcc4d"/>
<rect x="430.92" y="115.43" width="6.92" height="6.93" fill="#ffe566"/>
<rect x="437.24" y="115.43" width="6.92" height="6.93" fill="#ffff80"/>
<rect x="443.55" y="115.43" width="6.92" height="6.93" fill="#ffff80"/>
<rect x="449.87" y="115.43" width="6.92" height="6.93" fill="#ffff80"/>
<rect x="456.19" y="115.43" width="6.92" height="6.93" fill="#ffb333"/>
<rect x="462.51" y="115.43" width="6.92" height="6.93" fill="#ffcc4d"/>
<rect x="468.83" y="115.43" width="6.92" height="6.93" fill="#ffcc4d"/>
<rect x="475.15" y="115.43" width="6.92" height="6.93" fill="#ffcc4d"/>
<rect x="481.46" y="115.43" width="6.92" height="6.93" fill="#ffcc4d"/>
<rect x="487.78" y="115.43" width="6.92" height="6.93" fill="#ffcc4d"/>
<rect x="494.10" y="115.43" width="6.92" height="6.93" fill="#ffcc4d"/>
<rect x="500.42" y="115.43" width="6.92" height="6.93" fill="#ffcc4d"/>
</g></g>
<g fill="none" stroke="#000" stroke-width="0.8" stroke-linejoin="round"><use href="#mland" x="355.4" y="14.4"/><use href="#isl" x="355.4" y="14.4"/></g>
<path d="M368.6,14.4V109.4M393.8,14.4V109.4M419.0,14.4V109.4M444.1,14.4V109.4M469.3,14.4V109.4M355.4,96.1H494.4M355.4,83.2H494.4M355.4,70.4H494.4M355.4,57.5H494.4M355.4,44.7H494.4M355.4,31.9H494.4M355.4,19.0H494.4" stroke="#999" stroke-width="0.5" stroke-dasharray="1.5,1.5" fill="none"/>
<rect x="400.8" y="57.5" width="38.3" height="26.3" fill="none" stroke="#1010f0" stroke-width="1.6"/>
</g>
<rect x="355.4" y="14.4" width="139.0" height="95.0" fill="none" stroke="#5a5a5a" stroke-width="0.85"/>
<rect x="357.3" y="18.7" width="76.4" height="10" rx="1.5" fill="#fff" fill-opacity="0.85" stroke="#bbb" stroke-width="0.6"/>
<text x="360.0" y="25.9" font-size="7.7">mean intensity:4.1°C</text>
<text x="424.9" y="11.0" font-size="8.8" text-anchor="middle">c)  + 2K</text>
<text x="352.4" y="98.4" font-size="6.3" text-anchor="end">40°N</text>
<text x="352.4" y="85.5" font-size="6.3" text-anchor="end">45°N</text>
<text x="352.4" y="72.7" font-size="6.3" text-anchor="end">50°N</text>
<text x="352.4" y="59.8" font-size="6.3" text-anchor="end">55°N</text>
<text x="352.4" y="47.0" font-size="6.3" text-anchor="end">60°N</text>
<text x="352.4" y="34.2" font-size="6.3" text-anchor="end">65°N</text>
<text x="352.4" y="21.3" font-size="6.3" text-anchor="end">70°N</text>
<text x="368.6" y="118.0" font-size="6.3" text-anchor="middle">10°W</text>
<text x="393.8" y="118.0" font-size="6.3" text-anchor="middle">0°</text>
<text x="419.0" y="118.0" font-size="6.3" text-anchor="middle">10°E</text>
<text x="444.1" y="118.0" font-size="6.3" text-anchor="middle">20°E</text>
<text x="469.3" y="118.0" font-size="6.3" text-anchor="middle">30°E</text>
<g clip-path="url(#boxd)">
<g clip-path="url(#landd)"><g filter="url(#bl)">
<rect x="8.56" y="122.83" width="6.92" height="6.93" fill="#e56600"/>
<rect x="14.88" y="122.83" width="6.92" height="6.93" fill="#e56600"/>
<rect x="21.20" y="122.83" width="6.92" height="6.93" fill="#e56600"/>
<rect x="27.52" y="122.83" width="6.92" height="6.93" fill="#e56600"/>
<rect x="33.84" y="122.83" width="6.92" height="6.93" fill="#e56600"/>
<rect x="40.15" y="122.83" width="6.92" height="6.93" fill="#e56600"/>
<rect x="46.47" y="122.83" width="6.92" height="6.93" fill="#ff991a"/>
<rect x="52.79" y="122.83" width="6.92" height="6.93" fill="#921200"/>
<rect x="59.11" y="122.83" width="6.92" height="6.93" fill="#080000"/>
<rect x="65.43" y="122.83" width="6.92" height="6.93" fill="#080000"/>
<rect x="71.75" y="122.83" width="6.92" height="6.93" fill="#080000"/>
<rect x="78.06" y="122.83" width="6.92" height="6.93" fill="#210000"/>
<rect x="84.38" y="122.83" width="6.92" height="6.93" fill="#2a0000"/>
<rect x="90.70" y="122.83" width="6.92" height="6.93" fill="#2a0000"/>
<rect x="97.02" y="122.83" width="6.92" height="6.93" fill="#080000"/>
<rect x="103.34" y="122.83" width="6.92" height="6.93" fill="#080000"/>
<rect x="109.65" y="122.83" width="6.92" height="6.93" fill="#080000"/>
<rect x="115.97" y="122.83" width="6.92" height="6.93" fill="#080000"/>
<rect x="122.29" y="122.83" width="6.92" height="6.93" fill="#080000"/>
<rect x="128.61" y="122.83" width="6.92" height="6.93" fill="#080000"/>
<rect x="134.93" y="122.83" width="6.92" height="6.93" fill="#4d0000"/>
<rect x="141.25" y="122.83" width="6.92" height="6.93" fill="#4d0000"/>
<rect x="147.56" y="122.83" width="6.92" height="6.93" fill="#4d0000"/>
<rect x="153.88" y="122.83" width="6.92" height="6.93" fill="#4d0000"/>
<rect x="160.20" y="122.83" width="6.92" height="6.93" fill="#4d0000"/>
<rect x="166.52" y="122.83" width="6.92" height="6.93" fill="#4d0000"/>
<rect x="8.56" y="129.17" width="6.92" height="6.93" fill="#e56600"/>
<rect x="14.88" y="129.17" width="6.92" height="6.93" fill="#e56600"/>
<rect x="21.20" y="129.17" width="6.92" height="6.93" fill="#e56600"/>
<rect x="27.52" y="129.17" width="6.92" height="6.93" fill="#e56600"/>
<rect x="33.84" y="129.17" width="6.92" height="6.93" fill="#e56600"/>
<rect x="40.15" y="129.17" width="6.92" height="6.93" fill="#e56600"/>
<rect x="46.47" y="129.17" width="6.92" height="6.93" fill="#ff991a"/>
<rect x="52.79" y="129.17" width="6.92" height="6.93" fill="#921200"/>
<rect x="59.11" y="129.17" width="6.92" height="6.93" fill="#080000"/>
<rect x="65.43" y="129.17" width="6.92" height="6.93" fill="#080000"/>
<rect x="71.75" y="129.17" width="6.92" height="6.93" fill="#080000"/>
<rect x="78.06" y="129.17" width="6.92" height="6.93" fill="#210000"/>
<rect x="84.38" y="129.17" width="6.92" height="6.93" fill="#2a0000"/>
<rect x="90.70" y="129.17" width="6.92" height="6.93" fill="#2a0000"/>
<rect x="97.02" y="129.17" width="6.92" height="6.93" fill="#080000"/>
<rect x="103.34" y="129.17" width="6.92" height="6.93" fill="#080000"/>
<rect x="109.65" y="129.17" width="6.92" height="6.93" fill="#080000"/>
<rect x="115.97" y="129.17" width="6.92" height="6.93" fill="#080000"/>
<rect x="122.29" y="129.17" width="6.92" height="6.93" fill="#080000"/>
<rect x="128.61" y="129.17" width="6.92" height="6.93" fill="#080000"/>
<rect x="134.93" y="129.17" width="6.92" height="6.93" fill="#4d0000"/>
<rect x="141.25" y="129.17" width="6.92" height="6.93" fill="#4d0000"/>
<rect x="147.56" y="129.17" width="6.92" height="6.93" fill="#4d0000"/>
<rect x="153.88" y="129.17" width="6.92" height="6.93" fill="#4d0000"/>
<rect x="160.20" y="129.17" width="6.92" height="6.93" fill="#4d0000"/>
<rect x="166.52" y="129.17" width="6.92" height="6.93" fill="#4d0000"/>
<rect x="8.56" y="135.50" width="6.92" height="6.93" fill="#e56600"/>
<rect x="14.88" y="135.50" width="6.92" height="6.93" fill="#e56600"/>
<rect x="21.20" y="135.50" width="6.92" height="6.93" fill="#e56600"/>
<rect x="27.52" y="135.50" width="6.92" height="6.93" fill="#e56600"/>
<rect x="33.84" y="135.50" width="6.92" height="6.93" fill="#e56600"/>
<rect x="40.15" y="135.50" width="6.92" height="6.93" fill="#e56600"/>
<rect x="46.47" y="135.50" width="6.92" height="6.93" fill="#ff991a"/>
<rect x="52.79" y="135.50" width="6.92" height="6.93" fill="#921200"/>
<rect x="59.11" y="135.50" width="6.92" height="6.93" fill="#080000"/>
<rect x="65.43" y="135.50" width="6.92" height="6.93" fill="#080000"/>
<rect x="71.75" y="135.50" width="6.92" height="6.93" fill="#080000"/>
<rect x="78.06" y="135.50" width="6.92" height="6.93" fill="#210000"/>
<rect x="84.38" y="135.50" width="6.92" height="6.93" fill="#2a0000"/>
<rect x="90.70" y="135.50" width="6.92" height="6.93" fill="#2a0000"/>
<rect x="97.02" y="135.50" width="6.92" height="6.93" fill="#080000"/>
<rect x="103.34" y="135.50" width="6.92" height="6.93" fill="#080000"/>
<rect x="109.65" y="135.50" width="6.92" height="6.93" fill="#080000"/>
<rect x="115.97" y="135.50" width="6.92" height="6.93" fill="#080000"/>
<rect x="122.29" y="135.50" width="6.92" height="6.93" fill="#080000"/>
<rect x="128.61" y="135.50" width="6.92" height="6.93" fill="#080000"/>
<rect x="134.93" y="135.50" width="6.92" height="6.93" fill="#4d0000"/>
<rect x="141.25" y="135.50" width="6.92" height="6.93" fill="#4d0000"/>
<rect x="147.56" y="135.50" width="6.92" height="6.93" fill="#4d0000"/>
<rect x="153.88" y="135.50" width="6.92" height="6.93" fill="#4d0000"/>
<rect x="160.20" y="135.50" width="6.92" height="6.93" fill="#4d0000"/>
<rect x="166.52" y="135.50" width="6.92" height="6.93" fill="#4d0000"/>
<rect x="8.56" y="141.83" width="6.92" height="6.93" fill="#e56600"/>
<rect x="14.88" y="141.83" width="6.92" height="6.93" fill="#e56600"/>
<rect x="21.20" y="141.83" width="6.92" height="6.93" fill="#e56600"/>
<rect x="27.52" y="141.83" width="6.92" height="6.93" fill="#e56600"/>
<rect x="33.84" y="141.83" width="6.92" height="6.93" fill="#e56600"/>
<rect x="40.15" y="141.83" width="6.92" height="6.93" fill="#e56600"/>
<rect x="46.47" y="141.83" width="6.92" height="6.93" fill="#ff991a"/>
<rect x="52.79" y="141.83" width="6.92" height="6.93" fill="#951500"/>
<rect x="59.11" y="141.83" width="6.92" height="6.93" fill="#080000"/>
<rect x="65.43" y="141.83" width="6.92" height="6.93" fill="#080000"/>
<rect x="71.75" y="141.83" width="6.92" height="6.93" fill="#080000"/>
<rect x="78.06" y="141.83" width="6.92" height="6.93" fill="#190000"/>
<rect x="84.38" y="141.83" width="6.92" height="6.93" fill="#2a0000"/>
<rect x="90.70" y="141.83" width="6.92" height="6.93" fill="#4d0000"/>
<rect x="97.02" y="141.83" width="6.92" height="6.93" fill="#080000"/>
<rect x="103.34" y="141.83" width="6.92" height="6.93" fill="#080000"/>
<rect x="109.65" y="141.83" width="6.92" height="6.93" fill="#080000"/>
<rect x="115.97" y="141.83" width="6.92" height="6.93" fill="#080000"/>
<rect x="122.29" y="141.83" width="6.92" height="6.93" fill="#080000"/>
<rect x="128.61" y="141.83" width="6.92" height="6.93" fill="#080000"/>
<rect x="134.93" y="141.83" width="6.92" height="6.93" fill="#800000"/>
<rect x="141.25" y="141.83" width="6.92" height="6.93" fill="#800000"/>
<rect x="147.56" y="141.83" width="6.92" height="6.93" fill="#800000"/>
<rect x="153.88" y="141.83" width="6.92" height="6.93" fill="#800000"/>
<rect x="160.20" y="141.83" width="6.92" height="6.93" fill="#800000"/>
<rect x="166.52" y="141.83" width="6.92" height="6.93" fill="#800000"/>
<rect x="27.52" y="148.17" width="6.92" height="6.93" fill="#e56600"/>
<rect x="33.84" y="148.17" width="6.92" height="6.93" fill="#e56600"/>
<rect x="40.15" y="148.17" width="6.92" height="6.93" fill="#e56600"/>
<rect x="46.47" y="148.17" width="6.92" height="6.93" fill="#ff991a"/>
<rect x="52.79" y="148.17" width="6.92" height="6.93" fill="#9e1e00"/>
<rect x="59.11" y="148.17" width="6.92" height="6.93" fill="#080000"/>
<rect x="65.43" y="148.17" width="6.92" height="6.93" fill="#080000"/>
<rect x="71.75" y="148.17" width="6.92" height="6.93" fill="#080000"/>
<rect x="78.06" y="148.17" width="6.92" height="6.93" fill="#080000"/>
<rect x="84.38" y="148.17" width="6.92" height="6.93" fill="#080000"/>
<rect x="90.70" y="148.17" width="6.92" height="6.93" fill="#4d0000"/>
<rect x="97.02" y="148.17" width="6.92" height="6.93" fill="#800000"/>
<rect x="103.34" y="148.17" width="6.92" height="6.93" fill="#440000"/>
<rect x="109.65" y="148.17" width="6.92" height="6.93" fill="#2a0000"/>
<rect x="115.97" y="148.17" width="6.92" height="6.93" fill="#4d0000"/>
<rect x="122.29" y="148.17" width="6.92" height="6.93" fill="#4d0000"/>
<rect x="128.61" y="148.17" width="6.92" height="6.93" fill="#4d0000"/>
<rect x="134.93" y="148.17" width="6.92" height="6.93" fill="#800000"/>
<rect x="141.25" y="148.17" width="6.92" height="6.93" fill="#800000"/>
<rect x="147.56" y="148.17" width="6.92" height="6.93" fill="#800000"/>
<rect x="153.88" y="148.17" width="6.92" height="6.93" fill="#800000"/>
<rect x="160.20" y="148.17" width="6.92" height="6.93" fill="#800000"/>
<rect x="166.52" y="148.17" width="6.92" height="6.93" fill="#800000"/>
<rect x="27.52" y="154.50" width="6.92" height="6.93" fill="#e56600"/>
<rect x="33.84" y="154.50" width="6.92" height="6.93" fill="#e56600"/>
<rect x="40.15" y="154.50" width="6.92" height="6.93" fill="#e56600"/>
<rect x="46.47" y="154.50" width="6.92" height="6.93" fill="#ff991a"/>
<rect x="52.79" y="154.50" width="6.92" height="6.93" fill="#b93a00"/>
<rect x="59.11" y="154.50" width="6.92" height="6.93" fill="#080000"/>
<rect x="65.43" y="154.50" width="6.92" height="6.93" fill="#080000"/>
<rect x="71.75" y="154.50" width="6.92" height="6.93" fill="#080000"/>
<rect x="78.06" y="154.50" width="6.92" height="6.93" fill="#080000"/>
<rect x="84.38" y="154.50" width="6.92" height="6.93" fill="#080000"/>
<rect x="90.70" y="154.50" width="6.92" height="6.93" fill="#080000"/>
<rect x="97.02" y="154.50" width="6.92" height="6.93" fill="#4d0000"/>
<rect x="103.34" y="154.50" width="6.92" height="6.93" fill="#4d0000"/>
<rect x="109.65" y="154.50" width="6.92" height="6.93" fill="#800000"/>
<rect x="115.97" y="154.50" width="6.92" height="6.93" fill="#4d0000"/>
<rect x="122.29" y="154.50" width="6.92" height="6.93" fill="#800000"/>
<rect x="128.61" y="154.50" width="6.92" height="6.93" fill="#800000"/>
<rect x="134.93" y="154.50" width="6.92" height="6.93" fill="#b33300"/>
<rect x="141.25" y="154.50" width="6.92" height="6.93" fill="#b33300"/>
<rect x="147.56" y="154.50" width="6.92" height="6.93" fill="#b33300"/>
<rect x="153.88" y="154.50" width="6.92" height="6.93" fill="#b33300"/>
<rect x="160.20" y="154.50" width="6.92" height="6.93" fill="#b33300"/>
<rect x="166.52" y="154.50" width="6.92" height="6.93" fill="#b33300"/>
<rect x="8.56" y="160.83" width="6.92" height="6.93" fill="#e56600"/>
<rect x="14.88" y="160.83" width="6.92" height="6.93" fill="#e56600"/>
<rect x="21.20" y="160.83" width="6.92" height="6.93" fill="#e56600"/>
<rect x="27.52" y="160.83" width="6.92" height="6.93" fill="#e56600"/>
<rect x="33.84" y="160.83" width="6.92" height="6.93" fill="#e56600"/>
<rect x="40.15" y="160.83" width="6.92" height="6.93" fill="#e56600"/>
<rect x="46.47" y="160.83" width="6.92" height="6.93" fill="#ff991a"/>
<rect x="52.79" y="160.83" width="6.92" height="6.93" fill="#ff8c0d"/>
<rect x="59.11" y="160.83" width="6.92" height="6.93" fill="#080000"/>
<rect x="65.43" y="160.83" width="6.92" height="6.93" fill="#080000"/>
<rect x="71.75" y="160.83" width="6.92" height="6.93" fill="#080000"/>
<rect x="78.06" y="160.83" width="6.92" height="6.93" fill="#080000"/>
<rect x="84.38" y="160.83" width="6.92" height="6.93" fill="#080000"/>
<rect x="90.70" y="160.83" width="6.92" height="6.93" fill="#080000"/>
<rect x="97.02" y="160.83" width="6.92" height="6.93" fill="#4d0000"/>
<rect x="103.34" y="160.83" width="6.92" height="6.93" fill="#800000"/>
<rect x="109.65" y="160.83" width="6.92" height="6.93" fill="#b33300"/>
<rect x="115.97" y="160.83" width="6.92" height="6.93" fill="#b33300"/>
<rect x="122.29" y="160.83" width="6.92" height="6.93" fill="#b33300"/>
<rect x="128.61" y="160.83" width="6.92" height="6.93" fill="#e56600"/>
<rect x="134.93" y="160.83" width="6.92" height="6.93" fill="#e56600"/>
<rect x="141.25" y="160.83" width="6.92" height="6.93" fill="#ff991a"/>
<rect x="147.56" y="160.83" width="6.92" height="6.93" fill="#ff991a"/>
<rect x="153.88" y="160.83" width="6.92" height="6.93" fill="#ff991a"/>
<rect x="160.20" y="160.83" width="6.92" height="6.93" fill="#ff991a"/>
<rect x="166.52" y="160.83" width="6.92" height="6.93" fill="#ff991a"/>
<rect x="8.56" y="167.17" width="6.92" height="6.93" fill="#e56600"/>
<rect x="14.88" y="167.17" width="6.92" height="6.93" fill="#e56600"/>
<rect x="21.20" y="167.17" width="6.92" height="6.93" fill="#e56600"/>
<rect x="27.52" y="167.17" width="6.92" height="6.93" fill="#e56600"/>
<rect x="33.84" y="167.17" width="6.92" height="6.93" fill="#e56600"/>
<rect x="40.15" y="167.17" width="6.92" height="6.93" fill="#e56600"/>
<rect x="46.47" y="167.17" width="6.92" height="6.93" fill="#ff991a"/>
<rect x="52.79" y="167.17" width="6.92" height="6.93" fill="#ff8000"/>
<rect x="59.11" y="167.17" width="6.92" height="6.93" fill="#d95900"/>
<rect x="65.43" y="167.17" width="6.92" height="6.93" fill="#1f0000"/>
<rect x="71.75" y="167.17" width="6.92" height="6.93" fill="#080000"/>
<rect x="78.06" y="167.17" width="6.92" height="6.93" fill="#080000"/>
<rect x="84.38" y="167.17" width="6.92" height="6.93" fill="#080000"/>
<rect x="90.70" y="167.17" width="6.92" height="6.93" fill="#080000"/>
<rect x="97.02" y="167.17" width="6.92" height="6.93" fill="#4d0000"/>
<rect x="103.34" y="167.17" width="6.92" height="6.93" fill="#4d0000"/>
<rect x="109.65" y="167.17" width="6.92" height="6.93" fill="#c34400"/>
<rect x="115.97" y="167.17" width="6.92" height="6.93" fill="#e56600"/>
<rect x="122.29" y="167.17" width="6.92" height="6.93" fill="#ff991a"/>
<rect x="128.61" y="167.17" width="6.92" height="6.93" fill="#ffcc4d"/>
<rect x="134.93" y="167.17" width="6.92" height="6.93" fill="#ffff80"/>
<rect x="141.25" y="167.17" width="6.92" height="6.93" fill="#ffcc4d"/>
<rect x="147.56" y="167.17" width="6.92" height="6.93" fill="#ffff80"/>
<rect x="153.88" y="167.17" width="6.92" height="6.93" fill="#ffcc4d"/>
<rect x="160.20" y="167.17" width="6.92" height="6.93" fill="#ffcc4d"/>
<rect x="166.52" y="167.17" width="6.92" height="6.93" fill="#ffcc4d"/>
<rect x="8.56" y="173.50" width="6.92" height="6.93" fill="#ffec6c"/>
<rect x="14.88" y="173.50" width="6.92" height="6.93" fill="#ffec6c"/>
<rect x="21.20" y="173.50" width="6.92" height="6.93" fill="#ffec6c"/>
<rect x="27.52" y="173.50" width="6.92" height="6.93" fill="#ffd959"/>
<rect x="33.84" y="173.50" width="6.92" height="6.93" fill="#ffb333"/>
<rect x="40.15" y="173.50" width="6.92" height="6.93" fill="#e56600"/>
<rect x="46.47" y="173.50" width="6.92" height="6.93" fill="#b33300"/>
<rect x="52.79" y="173.50" width="6.92" height="6.93" fill="#e56600"/>
<rect x="59.11" y="173.50" width="6.92" height="6.93" fill="#b33300"/>
<rect x="65.43" y="173.50" width="6.92" height="6.93" fill="#4d0000"/>
<rect x="71.75" y="173.50" width="6.92" height="6.93" fill="#080000"/>
<rect x="78.06" y="173.50" width="6.92" height="6.93" fill="#080000"/>
<rect x="84.38" y="173.50" width="6.92" height="6.93" fill="#080000"/>
<rect x="90.70" y="173.50" width="6.92" height="6.93" fill="#080000"/>
<rect x="97.02" y="173.50" width="6.92" height="6.93" fill="#1f0000"/>
<rect x="103.34" y="173.50" width="6.92" height="6.93" fill="#800000"/>
<rect x="109.65" y="173.50" width="6.92" height="6.93" fill="#b33300"/>
<rect x="115.97" y="173.50" width="6.92" height="6.93" fill="#ff991a"/>
<rect x="122.29" y="173.50" width="6.92" height="6.93" fill="#ffcc4d"/>
<rect x="128.61" y="173.50" width="6.92" height="6.93" fill="#ffff80"/>
<rect x="134.93" y="173.50" width="6.92" height="6.93" fill="#ffff80"/>
<rect x="141.25" y="173.50" width="6.92" height="6.93" fill="#ffcc4d"/>
<rect x="147.56" y="173.50" width="6.92" height="6.93" fill="#ffcc4d"/>
<rect x="153.88" y="173.50" width="6.92" height="6.93" fill="#ff991a"/>
<rect x="160.20" y="173.50" width="6.92" height="6.93" fill="#ff991a"/>
<rect x="166.52" y="173.50" width="6.92" height="6.93" fill="#ff991a"/>
<rect x="8.56" y="179.83" width="6.92" height="6.93" fill="#ffff80"/>
<rect x="14.88" y="179.83" width="6.92" height="6.93" fill="#ffff80"/>
<rect x="21.20" y="179.83" width="6.92" height="6.93" fill="#ffff80"/>
<rect x="27.52" y="179.83" width="6.92" height="6.93" fill="#ffff80"/>
<rect x="33.84" y="179.83" width="6.92" height="6.93" fill="#ffff80"/>
<rect x="40.15" y="179.83" width="6.92" height="6.93" fill="#ffff80"/>
<rect x="46.47" y="179.83" width="6.92" height="6.93" fill="#e56600"/>
<rect x="52.79" y="179.83" width="6.92" height="6.93" fill="#b33300"/>
<rect x="59.11" y="179.83" width="6.92" height="6.93" fill="#800000"/>
<rect x="65.43" y="179.83" width="6.92" height="6.93" fill="#4d0000"/>
<rect x="71.75" y="179.83" width="6.92" height="6.93" fill="#080000"/>
<rect x="78.06" y="179.83" width="6.92" height="6.93" fill="#080000"/>
<rect x="84.38" y="179.83" width="6.92" height="6.93" fill="#080000"/>
<rect x="90.70" y="179.83" width="6.92" height="6.93" fill="#080000"/>
<rect x="97.02" y="179.83" width="6.92" height="6.93" fill="#080000"/>
<rect x="103.34" y="179.83" width="6.92" height="6.93" fill="#4d0000"/>
<rect x="109.65" y="179.83" width="6.92" height="6.93" fill="#800000"/>
<rect x="115.97" y="179.83" width="6.92" height="6.93" fill="#b33300"/>
<rect x="122.29" y="179.83" width="6.92" height="6.93" fill="#ff991a"/>
<rect x="128.61" y="179.83" width="6.92" height="6.93" fill="#ffcc4d"/>
<rect x="134.93" y="179.83" width="6.92" height="6.93" fill="#ffcc4d"/>
<rect x="141.25" y="179.83" width="6.92" height="6.93" fill="#e56600"/>
<rect x="147.56" y="179.83" width="6.92" height="6.93" fill="#b33300"/>
<rect x="153.88" y="179.83" width="6.92" height="6.93" fill="#b33300"/>
<rect x="160.20" y="179.83" width="6.92" height="6.93" fill="#b33300"/>
<rect x="166.52" y="179.83" width="6.92" height="6.93" fill="#b33300"/>
<rect x="8.56" y="186.17" width="6.92" height="6.93" fill="#ffff80"/>
<rect x="14.88" y="186.17" width="6.92" height="6.93" fill="#ffff80"/>
<rect x="21.20" y="186.17" width="6.92" height="6.93" fill="#ffff80"/>
<rect x="27.52" y="186.17" width="6.92" height="6.93" fill="#ffff80"/>
<rect x="33.84" y="186.17" width="6.92" height="6.93" fill="#ffff80"/>
<rect x="40.15" y="186.17" width="6.92" height="6.93" fill="#ffcc4d"/>
<rect x="46.47" y="186.17" width="6.92" height="6.93" fill="#ff991a"/>
<rect x="52.79" y="186.17" width="6.92" height="6.93" fill="#e56600"/>
<rect x="59.11" y="186.17" width="6.92" height="6.93" fill="#b33300"/>
<rect x="65.43" y="186.17" width="6.92" height="6.93" fill="#800000"/>
<rect x="71.75" y="186.17" width="6.92" height="6.93" fill="#4d0000"/>
<rect x="78.06" y="186.17" width="6.92" height="6.93" fill="#4d0000"/>
<rect x="84.38" y="186.17" width="6.92" height="6.93" fill="#4d0000"/>
<rect x="90.70" y="186.17" width="6.92" height="6.93" fill="#080000"/>
<rect x="97.02" y="186.17" width="6.92" height="6.93" fill="#4d0000"/>
<rect x="103.34" y="186.17" width="6.92" height="6.93" fill="#e56600"/>
<rect x="109.65" y="186.17" width="6.92" height="6.93" fill="#b33300"/>
<rect x="115.97" y="186.17" width="6.92" height="6.93" fill="#e56600"/>
<rect x="122.29" y="186.17" width="6.92" height="6.93" fill="#800000"/>
<rect x="128.61" y="186.17" width="6.92" height="6.93" fill="#b33300"/>
<rect x="134.93" y="186.17" width="6.92" height="6.93" fill="#e56600"/>
<rect x="141.25" y="186.17" width="6.92" height="6.93" fill="#b33300"/>
<rect x="147.56" y="186.17" width="6.92" height="6.93" fill="#800000"/>
<rect x="153.88" y="186.17" width="6.92" height="6.93" fill="#800000"/>
<rect x="160.20" y="186.17" width="6.92" height="6.93" fill="#800000"/>
<rect x="166.52" y="186.17" width="6.92" height="6.93" fill="#800000"/>
<rect x="8.56" y="192.50" width="6.92" height="6.93" fill="#fe7f00"/>
<rect x="14.88" y="192.50" width="6.92" height="6.93" fill="#fe7f00"/>
<rect x="21.20" y="192.50" width="6.92" height="6.93" fill="#fe7f00"/>
<rect x="27.52" y="192.50" width="6.92" height="6.93" fill="#fc7d00"/>
<rect x="33.84" y="192.50" width="6.92" height="6.93" fill="#f67700"/>
<rect x="40.15" y="192.50" width="6.92" height="6.93" fill="#e56600"/>
<rect x="46.47" y="192.50" width="6.92" height="6.93" fill="#e56600"/>
<rect x="52.79" y="192.50" width="6.92" height="6.93" fill="#b33300"/>
<rect x="59.11" y="192.50" width="6.92" height="6.93" fill="#e56600"/>
<rect x="65.43" y="192.50" width="6.92" height="6.93" fill="#e56600"/>
<rect x="71.75" y="192.50" width="6.92" height="6.93" fill="#ff991a"/>
<rect x="78.06" y="192.50" width="6.92" height="6.93" fill="#ff991a"/>
<rect x="84.38" y="192.50" width="6.92" height="6.93" fill="#e56600"/>
<rect x="90.70" y="192.50" width="6.92" height="6.93" fill="#b33300"/>
<rect x="97.02" y="192.50" width="6.92" height="6.93" fill="#b33300"/>
<rect x="103.34" y="192.50" width="6.92" height="6.93" fill="#ff991a"/>
<rect x="109.65" y="192.50" width="6.92" height="6.93" fill="#ffcc4d"/>
<rect x="115.97" y="192.50" width="6.92" height="6.93" fill="#ff991a"/>
<rect x="122.29" y="192.50" width="6.92" height="6.93" fill="#b33300"/>
<rect x="128.61" y="192.50" width="6.92" height="6.93" fill="#800000"/>
<rect x="134.93" y="192.50" width="6.92" height="6.93" fill="#800000"/>
<rect x="141.25" y="192.50" width="6.92" height="6.93" fill="#b33300"/>
<rect x="147.56" y="192.50" width="6.92" height="6.93" fill="#e56600"/>
<rect x="153.88" y="192.50" width="6.92" height="6.93" fill="#b33300"/>
<rect x="160.20" y="192.50" width="6.92" height="6.93" fill="#b33300"/>
<rect x="166.52" y="192.50" width="6.92" height="6.93" fill="#b33300"/>
<rect x="8.56" y="198.83" width="6.92" height="6.93" fill="#800000"/>
<rect x="14.88" y="198.83" width="6.92" height="6.93" fill="#800000"/>
<rect x="21.20" y="198.83" width="6.92" height="6.93" fill="#800000"/>
<rect x="27.52" y="198.83" width="6.92" height="6.93" fill="#800000"/>
<rect x="33.84" y="198.83" width="6.92" height="6.93" fill="#800000"/>
<rect x="40.15" y="198.83" width="6.92" height="6.93" fill="#4d0000"/>
<rect x="46.47" y="198.83" width="6.92" height="6.93" fill="#c34400"/>
<rect x="52.79" y="198.83" width="6.92" height="6.93" fill="#e56600"/>
<rect x="59.11" y="198.83" width="6.92" height="6.93" fill="#e56600"/>
<rect x="65.43" y="198.83" width="6.92" height="6.93" fill="#ff991a"/>
<rect x="71.75" y="198.83" width="6.92" height="6.93" fill="#ff991a"/>
<rect x="78.06" y="198.83" width="6.92" height="6.93" fill="#ffcc4d"/>
<rect x="84.38" y="198.83" width="6.92" height="6.93" fill="#ff991a"/>
<rect x="90.70" y="198.83" width="6.92" height="6.93" fill="#ff991a"/>
<rect x="97.02" y="198.83" width="6.92" height="6.93" fill="#e56600"/>
<rect x="103.34" y="198.83" width="6.92" height="6.93" fill="#ff991a"/>
<rect x="109.65" y="198.83" width="6.92" height="6.93" fill="#ffcc4d"/>
<rect x="115.97" y="198.83" width="6.92" height="6.93" fill="#ff991a"/>
<rect x="122.29" y="198.83" width="6.92" height="6.93" fill="#e56600"/>
<rect x="128.61" y="198.83" width="6.92" height="6.93" fill="#800000"/>
<rect x="134.93" y="198.83" width="6.92" height="6.93" fill="#800000"/>
<rect x="141.25" y="198.83" width="6.92" height="6.93" fill="#991a00"/>
<rect x="147.56" y="198.83" width="6.92" height="6.93" fill="#800000"/>
<rect x="153.88" y="198.83" width="6.92" height="6.93" fill="#b33300"/>
<rect x="160.20" y="198.83" width="6.92" height="6.93" fill="#b33300"/>
<rect x="166.52" y="198.83" width="6.92" height="6.93" fill="#b33300"/>
<rect x="8.56" y="205.17" width="6.92" height="6.93" fill="#800000"/>
<rect x="14.88" y="205.17" width="6.92" height="6.93" fill="#800000"/>
<rect x="21.20" y="205.17" width="6.92" height="6.93" fill="#800000"/>
<rect x="27.52" y="205.17" width="6.92" height="6.93" fill="#800000"/>
<rect x="33.84" y="205.17" width="6.92" height="6.93" fill="#800000"/>
<rect x="40.15" y="205.17" width="6.92" height="6.93" fill="#4d0000"/>
<rect x="46.47" y="205.17" width="6.92" height="6.93" fill="#800000"/>
<rect x="52.79" y="205.17" width="6.92" height="6.93" fill="#b33300"/>
<rect x="59.11" y="205.17" width="6.92" height="6.93" fill="#b33300"/>
<rect x="65.43" y="205.17" width="6.92" height="6.93" fill="#e56600"/>
<rect x="71.75" y="205.17" width="6.92" height="6.93" fill="#ff8000"/>
<rect x="78.06" y="205.17" width="6.92" height="6.93" fill="#e56600"/>
<rect x="84.38" y="205.17" width="6.92" height="6.93" fill="#e56600"/>
<rect x="90.70" y="205.17" width="6.92" height="6.93" fill="#e56600"/>
<rect x="97.02" y="205.17" width="6.92" height="6.93" fill="#e56600"/>
<rect x="103.34" y="205.17" width="6.92" height="6.93" fill="#e56600"/>
<rect x="109.65" y="205.17" width="6.92" height="6.93" fill="#ff991a"/>
<rect x="115.97" y="205.17" width="6.92" height="6.93" fill="#e56600"/>
<rect x="122.29" y="205.17" width="6.92" height="6.93" fill="#b33300"/>
<rect x="128.61" y="205.17" width="6.92" height="6.93" fill="#a22200"/>
<rect x="134.93" y="205.17" width="6.92" height="6.93" fill="#b33300"/>
<rect x="141.25" y="205.17" width="6.92" height="6.93" fill="#b33300"/>
<rect x="147.56" y="205.17" width="6.92" height="6.93" fill="#991a00"/>
<rect x="153.88" y="205.17" width="6.92" height="6.93" fill="#b33300"/>
<rect x="160.20" y="205.17" width="6.92" height="6.93" fill="#b33300"/>
<rect x="166.52" y="205.17" width="6.92" height="6.93" fill="#b33300"/>
<rect x="8.56" y="211.50" width="6.92" height="6.93" fill="#4d0000"/>
<rect x="14.88" y="211.50" width="6.92" height="6.93" fill="#4d0000"/>
<rect x="21.20" y="211.50" width="6.92" height="6.93" fill="#4d0000"/>
<rect x="27.52" y="211.50" width="6.92" height="6.93" fill="#4d0000"/>
<rect x="33.84" y="211.50" width="6.92" height="6.93" fill="#4d0000"/>
<rect x="40.15" y="211.50" width="6.92" height="6.93" fill="#080000"/>
<rect x="46.47" y="211.50" width="6.92" height="6.93" fill="#080000"/>
<rect x="52.79" y="211.50" width="6.92" height="6.93" fill="#800000"/>
<rect x="59.11" y="211.50" width="6.92" height="6.93" fill="#b33300"/>
<rect x="65.43" y="211.50" width="6.92" height="6.93" fill="#ff991a"/>
<rect x="71.75" y="211.50" width="6.92" height="6.93" fill="#ffcc4d"/>
<rect x="78.06" y="211.50" width="6.92" height="6.93" fill="#ff991a"/>
<rect x="84.38" y="211.50" width="6.92" height="6.93" fill="#ff991a"/>
<rect x="90.70" y="211.50" width="6.92" height="6.93" fill="#ff991a"/>
<rect x="97.02" y="211.50" width="6.92" height="6.93" fill="#ff8000"/>
<rect x="103.34" y="211.50" width="6.92" height="6.93" fill="#e56600"/>
<rect x="109.65" y="211.50" width="6.92" height="6.93" fill="#e56600"/>
<rect x="115.97" y="211.50" width="6.92" height="6.93" fill="#b33300"/>
<rect x="122.29" y="211.50" width="6.92" height="6.93" fill="#b33300"/>
<rect x="128.61" y="211.50" width="6.92" height="6.93" fill="#b33300"/>
<rect x="134.93" y="211.50" width="6.92" height="6.93" fill="#b33300"/>
<rect x="141.25" y="211.50" width="6.92" height="6.93" fill="#b33300"/>
<rect x="147.56" y="211.50" width="6.92" height="6.93" fill="#b33300"/>
<rect x="153.88" y="211.50" width="6.92" height="6.93" fill="#b33300"/>
<rect x="160.20" y="211.50" width="6.92" height="6.93" fill="#b33300"/>
<rect x="166.52" y="211.50" width="6.92" height="6.93" fill="#b33300"/>
<rect x="8.56" y="217.83" width="6.92" height="6.93" fill="#4d0000"/>
<rect x="14.88" y="217.83" width="6.92" height="6.93" fill="#4d0000"/>
<rect x="21.20" y="217.83" width="6.92" height="6.93" fill="#4d0000"/>
<rect x="27.52" y="217.83" width="6.92" height="6.93" fill="#4d0000"/>
<rect x="33.84" y="217.83" width="6.92" height="6.93" fill="#4d0000"/>
<rect x="40.15" y="217.83" width="6.92" height="6.93" fill="#4d0000"/>
<rect x="46.47" y="217.83" width="6.92" height="6.93" fill="#4d0000"/>
<rect x="52.79" y="217.83" width="6.92" height="6.93" fill="#800000"/>
<rect x="59.11" y="217.83" width="6.92" height="6.93" fill="#ffff80"/>
<rect x="65.43" y="217.83" width="6.92" height="6.93" fill="#ffff80"/>
<rect x="71.75" y="217.83" width="6.92" height="6.93" fill="#ffff80"/>
<rect x="78.06" y="217.83" width="6.92" height="6.93" fill="#ffff80"/>
<rect x="84.38" y="217.83" width="6.92" height="6.93" fill="#ffff80"/>
<rect x="90.70" y="217.83" width="6.92" height="6.93" fill="#ff991a"/>
<rect x="97.02" y="217.83" width="6.92" height="6.93" fill="#ff8000"/>
<rect x="103.34" y="217.83" width="6.92" height="6.93" fill="#e56600"/>
<rect x="109.65" y="217.83" width="6.92" height="6.93" fill="#e56600"/>
<rect x="115.97" y="217.83" width="6.92" height="6.93" fill="#c34400"/>
<rect x="122.29" y="217.83" width="6.92" height="6.93" fill="#b33300"/>
<rect x="128.61" y="217.83" width="6.92" height="6.93" fill="#e56600"/>
<rect x="134.93" y="217.83" width="6.92" height="6.93" fill="#b33300"/>
<rect x="141.25" y="217.83" width="6.92" height="6.93" fill="#e56600"/>
<rect x="147.56" y="217.83" width="6.92" height="6.93" fill="#b33300"/>
<rect x="153.88" y="217.83" width="6.92" height="6.93" fill="#b33300"/>
<rect x="160.20" y="217.83" width="6.92" height="6.93" fill="#b33300"/>
<rect x="166.52" y="217.83" width="6.92" height="6.93" fill="#b33300"/>
<rect x="8.56" y="224.17" width="6.92" height="6.93" fill="#4d0000"/>
<rect x="14.88" y="224.17" width="6.92" height="6.93" fill="#4d0000"/>
<rect x="21.20" y="224.17" width="6.92" height="6.93" fill="#4d0000"/>
<rect x="27.52" y="224.17" width="6.92" height="6.93" fill="#4d0000"/>
<rect x="33.84" y="224.17" width="6.92" height="6.93" fill="#4d0000"/>
<rect x="40.15" y="224.17" width="6.92" height="6.93" fill="#4d0000"/>
<rect x="46.47" y="224.17" width="6.92" height="6.93" fill="#800000"/>
<rect x="52.79" y="224.17" width="6.92" height="6.93" fill="#800000"/>
<rect x="59.11" y="224.17" width="6.92" height="6.93" fill="#ffffb3"/>
<rect x="65.43" y="224.17" width="6.92" height="6.93" fill="#ffffb3"/>
<rect x="71.75" y="224.17" width="6.92" height="6.93" fill="#ffffb3"/>
<rect x="78.06" y="224.17" width="6.92" height="6.93" fill="#ffffb3"/>
<rect x="84.38" y="224.17" width="6.92" height="6.93" fill="#ffffb3"/>
<rect x="90.70" y="224.17" width="6.92" height="6.93" fill="#ff991a"/>
<rect x="97.02" y="224.17" width="6.92" height="6.93" fill="#ff8000"/>
<rect x="103.34" y="224.17" width="6.92" height="6.93" fill="#e56600"/>
<rect x="109.65" y="224.17" width="6.92" height="6.93" fill="#e56600"/>
<rect x="115.97" y="224.17" width="6.92" height="6.93" fill="#e56600"/>
<rect x="122.29" y="224.17" width="6.92" height="6.93" fill="#cc4d00"/>
<rect x="128.61" y="224.17" width="6.92" height="6.93" fill="#e56600"/>
<rect x="134.93" y="224.17" width="6.92" height="6.93" fill="#ff991a"/>
<rect x="141.25" y="224.17" width="6.92" height="6.93" fill="#e56600"/>
<rect x="147.56" y="224.17" width="6.92" height="6.93" fill="#ff991a"/>
<rect x="153.88" y="224.17" width="6.92" height="6.93" fill="#ff991a"/>
<rect x="160.20" y="224.17" width="6.92" height="6.93" fill="#ff991a"/>
<rect x="166.52" y="224.17" width="6.92" height="6.93" fill="#ff991a"/>
<rect x="8.56" y="230.50" width="6.92" height="6.93" fill="#4d0000"/>
<rect x="14.88" y="230.50" width="6.92" height="6.93" fill="#4d0000"/>
<rect x="21.20" y="230.50" width="6.92" height="6.93" fill="#4d0000"/>
<rect x="27.52" y="230.50" width="6.92" height="6.93" fill="#4d0000"/>
<rect x="33.84" y="230.50" width="6.92" height="6.93" fill="#4d0000"/>
<rect x="40.15" y="230.50" width="6.92" height="6.93" fill="#4d0000"/>
<rect x="46.47" y="230.50" width="6.92" height="6.93" fill="#800000"/>
<rect x="52.79" y="230.50" width="6.92" height="6.93" fill="#800000"/>
<rect x="59.11" y="230.50" width="6.92" height="6.93" fill="#ffffb3"/>
<rect x="65.43" y="230.50" width="6.92" height="6.93" fill="#ffffb3"/>
<rect x="71.75" y="230.50" width="6.92" height="6.93" fill="#ffffb3"/>
<rect x="78.06" y="230.50" width="6.92" height="6.93" fill="#ffffb3"/>
<rect x="84.38" y="230.50" width="6.92" height="6.93" fill="#ffffb3"/>
<rect x="90.70" y="230.50" width="6.92" height="6.93" fill="#ff991a"/>
<rect x="97.02" y="230.50" width="6.92" height="6.93" fill="#ff8000"/>
<rect x="103.34" y="230.50" width="6.92" height="6.93" fill="#e56600"/>
<rect x="109.65" y="230.50" width="6.92" height="6.93" fill="#e56600"/>
<rect x="115.97" y="230.50" width="6.92" height="6.93" fill="#e56600"/>
<rect x="122.29" y="230.50" width="6.92" height="6.93" fill="#cc4d00"/>
<rect x="128.61" y="230.50" width="6.92" height="6.93" fill="#e56600"/>
<rect x="134.93" y="230.50" width="6.92" height="6.93" fill="#ff991a"/>
<rect x="141.25" y="230.50" width="6.92" height="6.93" fill="#e56600"/>
<rect x="147.56" y="230.50" width="6.92" height="6.93" fill="#ff991a"/>
<rect x="153.88" y="230.50" width="6.92" height="6.93" fill="#ff991a"/>
<rect x="160.20" y="230.50" width="6.92" height="6.93" fill="#ff991a"/>
<rect x="166.52" y="230.50" width="6.92" height="6.93" fill="#ff991a"/>
<rect x="8.56" y="236.83" width="6.92" height="6.93" fill="#4d0000"/>
<rect x="14.88" y="236.83" width="6.92" height="6.93" fill="#4d0000"/>
<rect x="21.20" y="236.83" width="6.92" height="6.93" fill="#4d0000"/>
<rect x="27.52" y="236.83" width="6.92" height="6.93" fill="#4d0000"/>
<rect x="33.84" y="236.83" width="6.92" height="6.93" fill="#4d0000"/>
<rect x="40.15" y="236.83" width="6.92" height="6.93" fill="#4d0000"/>
<rect x="46.47" y="236.83" width="6.92" height="6.93" fill="#800000"/>
<rect x="52.79" y="236.83" width="6.92" height="6.93" fill="#800000"/>
<rect x="59.11" y="236.83" width="6.92" height="6.93" fill="#ffffb3"/>
<rect x="65.43" y="236.83" width="6.92" height="6.93" fill="#ffffb3"/>
<rect x="71.75" y="236.83" width="6.92" height="6.93" fill="#ffffb3"/>
<rect x="78.06" y="236.83" width="6.92" height="6.93" fill="#ffffb3"/>
<rect x="84.38" y="236.83" width="6.92" height="6.93" fill="#ffffb3"/>
<rect x="90.70" y="236.83" width="6.92" height="6.93" fill="#ff991a"/>
<rect x="97.02" y="236.83" width="6.92" height="6.93" fill="#ff8000"/>
<rect x="103.34" y="236.83" width="6.92" height="6.93" fill="#e56600"/>
<rect x="109.65" y="236.83" width="6.92" height="6.93" fill="#e56600"/>
<rect x="115.97" y="236.83" width="6.92" height="6.93" fill="#e56600"/>
<rect x="122.29" y="236.83" width="6.92" height="6.93" fill="#cc4d00"/>
<rect x="128.61" y="236.83" width="6.92" height="6.93" fill="#e56600"/>
<rect x="134.93" y="236.83" width="6.92" height="6.93" fill="#ff991a"/>
<rect x="141.25" y="236.83" width="6.92" height="6.93" fill="#e56600"/>
<rect x="147.56" y="236.83" width="6.92" height="6.93" fill="#ff991a"/>
<rect x="153.88" y="236.83" width="6.92" height="6.93" fill="#ff991a"/>
<rect x="160.20" y="236.83" width="6.92" height="6.93" fill="#ff991a"/>
<rect x="166.52" y="236.83" width="6.92" height="6.93" fill="#ff991a"/>
</g></g>
<g fill="none" stroke="#000" stroke-width="0.8" stroke-linejoin="round"><use href="#mland" x="21.5" y="135.8"/><use href="#isl" x="21.5" y="135.8"/></g>
<path d="M34.7,135.8V230.8M59.9,135.8V230.8M85.1,135.8V230.8M110.2,135.8V230.8M135.4,135.8V230.8M21.5,217.5H160.5M21.5,204.6H160.5M21.5,191.8H160.5M21.5,178.9H160.5M21.5,166.1H160.5M21.5,153.3H160.5M21.5,140.4H160.5" stroke="#999" stroke-width="0.5" stroke-dasharray="1.5,1.5" fill="none"/>
<rect x="66.9" y="178.9" width="38.3" height="26.3" fill="none" stroke="#1010f0" stroke-width="1.6"/>
</g>
<rect x="21.5" y="135.8" width="139.0" height="95.0" fill="none" stroke="#5a5a5a" stroke-width="0.85"/>
<rect x="23.4" y="140.1" width="76.4" height="10" rx="1.5" fill="#fff" fill-opacity="0.85" stroke="#bbb" stroke-width="0.6"/>
<text x="26.1" y="147.3" font-size="7.7">mean intensity:5.5°C</text>
<text x="91.0" y="132.4" font-size="8.8" text-anchor="middle">d)  + 3K</text>
<text x="18.5" y="219.8" font-size="6.3" text-anchor="end">40°N</text>
<text x="18.5" y="206.9" font-size="6.3" text-anchor="end">45°N</text>
<text x="18.5" y="194.1" font-size="6.3" text-anchor="end">50°N</text>
<text x="18.5" y="181.2" font-size="6.3" text-anchor="end">55°N</text>
<text x="18.5" y="168.4" font-size="6.3" text-anchor="end">60°N</text>
<text x="18.5" y="155.6" font-size="6.3" text-anchor="end">65°N</text>
<text x="18.5" y="142.7" font-size="6.3" text-anchor="end">70°N</text>
<text x="34.7" y="239.4" font-size="6.3" text-anchor="middle">10°W</text>
<text x="59.9" y="239.4" font-size="6.3" text-anchor="middle">0°</text>
<text x="85.1" y="239.4" font-size="6.3" text-anchor="middle">10°E</text>
<text x="110.2" y="239.4" font-size="6.3" text-anchor="middle">20°E</text>
<text x="135.4" y="239.4" font-size="6.3" text-anchor="middle">30°E</text>
<g clip-path="url(#boxe)">
<g clip-path="url(#lande)"><g filter="url(#bl)">
<rect x="175.46" y="122.83" width="6.92" height="6.93" fill="#b33300"/>
<rect x="181.78" y="122.83" width="6.92" height="6.93" fill="#b33300"/>
<rect x="188.10" y="122.83" width="6.92" height="6.93" fill="#b33300"/>
<rect x="194.42" y="122.83" width="6.92" height="6.93" fill="#b33300"/>
<rect x="200.74" y="122.83" width="6.92" height="6.93" fill="#b33300"/>
<rect x="207.05" y="122.83" width="6.92" height="6.93" fill="#b33300"/>
<rect x="213.37" y="122.83" width="6.92" height="6.93" fill="#b33300"/>
<rect x="219.69" y="122.83" width="6.92" height="6.93" fill="#800100"/>
<rect x="226.01" y="122.83" width="6.92" height="6.93" fill="#4d0000"/>
<rect x="232.33" y="122.83" width="6.92" height="6.93" fill="#4d0000"/>
<rect x="238.65" y="122.83" width="6.92" height="6.93" fill="#4d0000"/>
<rect x="244.96" y="122.83" width="6.92" height="6.93" fill="#080000"/>
<rect x="251.28" y="122.83" width="6.92" height="6.93" fill="#080000"/>
<rect x="257.60" y="122.83" width="6.92" height="6.93" fill="#080000"/>
<rect x="263.92" y="122.83" width="6.92" height="6.93" fill="#080000"/>
<rect x="270.24" y="122.83" width="6.92" height="6.93" fill="#080000"/>
<rect x="276.55" y="122.83" width="6.92" height="6.93" fill="#080000"/>
<rect x="282.87" y="122.83" width="6.92" height="6.93" fill="#080000"/>
<rect x="289.19" y="122.83" width="6.92" height="6.93" fill="#080000"/>
<rect x="295.51" y="122.83" width="6.92" height="6.93" fill="#080000"/>
<rect x="301.83" y="122.83" width="6.92" height="6.93" fill="#080000"/>
<rect x="308.15" y="122.83" width="6.92" height="6.93" fill="#4d0000"/>
<rect x="314.46" y="122.83" width="6.92" height="6.93" fill="#4d0000"/>
<rect x="320.78" y="122.83" width="6.92" height="6.93" fill="#4d0000"/>
<rect x="327.10" y="122.83" width="6.92" height="6.93" fill="#4d0000"/>
<rect x="333.42" y="122.83" width="6.92" height="6.93" fill="#4d0000"/>
<rect x="175.46" y="129.17" width="6.92" height="6.93" fill="#b33300"/>
<rect x="181.78" y="129.17" width="6.92" height="6.93" fill="#b33300"/>
<rect x="188.10" y="129.17" width="6.92" height="6.93" fill="#b33300"/>
<rect x="194.42" y="129.17" width="6.92" height="6.93" fill="#b33300"/>
<rect x="200.74" y="129.17" width="6.92" height="6.93" fill="#b33300"/>
<rect x="207.05" y="129.17" width="6.92" height="6.93" fill="#b33300"/>
<rect x="213.37" y="129.17" width="6.92" height="6.93" fill="#b33300"/>
<rect x="219.69" y="129.17" width="6.92" height="6.93" fill="#800100"/>
<rect x="226.01" y="129.17" width="6.92" height="6.93" fill="#4d0000"/>
<rect x="232.33" y="129.17" width="6.92" height="6.93" fill="#4d0000"/>
<rect x="238.65" y="129.17" width="6.92" height="6.93" fill="#4d0000"/>
<rect x="244.96" y="129.17" width="6.92" height="6.93" fill="#080000"/>
<rect x="251.28" y="129.17" width="6.92" height="6.93" fill="#080000"/>
<rect x="257.60" y="129.17" width="6.92" height="6.93" fill="#080000"/>
<rect x="263.92" y="129.17" width="6.92" height="6.93" fill="#080000"/>
<rect x="270.24" y="129.17" width="6.92" height="6.93" fill="#080000"/>
<rect x="276.55" y="129.17" width="6.92" height="6.93" fill="#080000"/>
<rect x="282.87" y="129.17" width="6.92" height="6.93" fill="#080000"/>
<rect x="289.19" y="129.17" width="6.92" height="6.93" fill="#080000"/>
<rect x="295.51" y="129.17" width="6.92" height="6.93" fill="#080000"/>
<rect x="301.83" y="129.17" width="6.92" height="6.93" fill="#080000"/>
<rect x="308.15" y="129.17" width="6.92" height="6.93" fill="#4d0000"/>
<rect x="314.46" y="129.17" width="6.92" height="6.93" fill="#4d0000"/>
<rect x="320.78" y="129.17" width="6.92" height="6.93" fill="#4d0000"/>
<rect x="327.10" y="129.17" width="6.92" height="6.93" fill="#4d0000"/>
<rect x="333.42" y="129.17" width="6.92" height="6.93" fill="#4d0000"/>
<rect x="175.46" y="135.50" width="6.92" height="6.93" fill="#b33300"/>
<rect x="181.78" y="135.50" width="6.92" height="6.93" fill="#b33300"/>
<rect x="188.10" y="135.50" width="6.92" height="6.93" fill="#b33300"/>
<rect x="194.42" y="135.50" width="6.92" height="6.93" fill="#b33300"/>
<rect x="200.74" y="135.50" width="6.92" height="6.93" fill="#b33300"/>
<rect x="207.05" y="135.50" width="6.92" height="6.93" fill="#b33300"/>
<rect x="213.37" y="135.50" width="6.92" height="6.93" fill="#b33300"/>
<rect x="219.69" y="135.50" width="6.92" height="6.93" fill="#800100"/>
<rect x="226.01" y="135.50" width="6.92" height="6.93" fill="#4d0000"/>
<rect x="232.33" y="135.50" width="6.92" height="6.93" fill="#4d0000"/>
<rect x="238.65" y="135.50" width="6.92" height="6.93" fill="#4d0000"/>
<rect x="244.96" y="135.50" width="6.92" height="6.93" fill="#080000"/>
<rect x="251.28" y="135.50" width="6.92" height="6.93" fill="#080000"/>
<rect x="257.60" y="135.50" width="6.92" height="6.93" fill="#080000"/>
<rect x="263.92" y="135.50" width="6.92" height="6.93" fill="#080000"/>
<rect x="270.24" y="135.50" width="6.92" height="6.93" fill="#080000"/>
<rect x="276.55" y="135.50" width="6.92" height="6.93" fill="#080000"/>
<rect x="282.87" y="135.50" width="6.92" height="6.93" fill="#080000"/>
<rect x="289.19" y="135.50" width="6.92" height="6.93" fill="#080000"/>
<rect x="295.51" y="135.50" width="6.92" height="6.93" fill="#080000"/>
<rect x="301.83" y="135.50" width="6.92" height="6.93" fill="#080000"/>
<rect x="308.15" y="135.50" width="6.92" height="6.93" fill="#4d0000"/>
<rect x="314.46" y="135.50" width="6.92" height="6.93" fill="#4d0000"/>
<rect x="320.78" y="135.50" width="6.92" height="6.93" fill="#4d0000"/>
<rect x="327.10" y="135.50" width="6.92" height="6.93" fill="#4d0000"/>
<rect x="333.42" y="135.50" width="6.92" height="6.93" fill="#4d0000"/>
<rect x="175.46" y="141.83" width="6.92" height="6.93" fill="#b33300"/>
<rect x="181.78" y="141.83" width="6.92" height="6.93" fill="#b33300"/>
<rect x="188.10" y="141.83" width="6.92" height="6.93" fill="#b33300"/>
<rect x="194.42" y="141.83" width="6.92" height="6.93" fill="#b33300"/>
<rect x="200.74" y="141.83" width="6.92" height="6.93" fill="#b33300"/>
<rect x="207.05" y="141.83" width="6.92" height="6.93" fill="#b33300"/>
<rect x="213.37" y="141.83" width="6.92" height="6.93" fill="#b33300"/>
<rect x="219.69" y="141.83" width="6.92" height="6.93" fill="#810200"/>
<rect x="226.01" y="141.83" width="6.92" height="6.93" fill="#4d0000"/>
<rect x="232.33" y="141.83" width="6.92" height="6.93" fill="#4d0000"/>
<rect x="238.65" y="141.83" width="6.92" height="6.93" fill="#4d0000"/>
<rect x="244.96" y="141.83" width="6.92" height="6.93" fill="#080000"/>
<rect x="251.28" y="141.83" width="6.92" height="6.93" fill="#080000"/>
<rect x="257.60" y="141.83" width="6.92" height="6.93" fill="#080000"/>
<rect x="263.92" y="141.83" width="6.92" height="6.93" fill="#080000"/>
<rect x="270.24" y="141.83" width="6.92" height="6.93" fill="#080000"/>
<rect x="276.55" y="141.83" width="6.92" height="6.93" fill="#080000"/>
<rect x="282.87" y="141.83" width="6.92" height="6.93" fill="#080000"/>
<rect x="289.19" y="141.83" width="6.92" height="6.93" fill="#080000"/>
<rect x="295.51" y="141.83" width="6.92" height="6.93" fill="#080000"/>
<rect x="301.83" y="141.83" width="6.92" height="6.93" fill="#080000"/>
<rect x="308.15" y="141.83" width="6.92" height="6.93" fill="#4d0000"/>
<rect x="314.46" y="141.83" width="6.92" height="6.93" fill="#4d0000"/>
<rect x="320.78" y="141.83" width="6.92" height="6.93" fill="#4d0000"/>
<rect x="327.10" y="141.83" width="6.92" height="6.93" fill="#4d0000"/>
<rect x="333.42" y="141.83" width="6.92" height="6.93" fill="#4d0000"/>
<rect x="194.42" y="148.17" width="6.92" height="6.93" fill="#b33300"/>
<rect x="200.74" y="148.17" width="6.92" height="6.93" fill="#b33300"/>
<rect x="207.05" y="148.17" width="6.92" height="6.93" fill="#b33300"/>
<rect x="213.37" y="148.17" width="6.92" height="6.93" fill="#b33300"/>
<rect x="219.69" y="148.17" width="6.92" height="6.93" fill="#850600"/>
<rect x="226.01" y="148.17" width="6.92" height="6.93" fill="#4d0000"/>
<rect x="232.33" y="148.17" width="6.92" height="6.93" fill="#4d0000"/>
<rect x="238.65" y="148.17" width="6.92" height="6.93" fill="#4d0000"/>
<rect x="244.96" y="148.17" width="6.92" height="6.93" fill="#080000"/>
<rect x="251.28" y="148.17" width="6.92" height="6.93" fill="#080000"/>
<rect x="257.60" y="148.17" width="6.92" height="6.93" fill="#4d0000"/>
<rect x="263.92" y="148.17" width="6.92" height="6.93" fill="#4d0000"/>
<rect x="270.24" y="148.17" width="6.92" height="6.93" fill="#2a0000"/>
<rect x="276.55" y="148.17" width="6.92" height="6.93" fill="#080000"/>
<rect x="282.87" y="148.17" width="6.92" height="6.93" fill="#080000"/>
<rect x="289.19" y="148.17" width="6.92" height="6.93" fill="#080000"/>
<rect x="295.51" y="148.17" width="6.92" height="6.93" fill="#080000"/>
<rect x="301.83" y="148.17" width="6.92" height="6.93" fill="#080000"/>
<rect x="308.15" y="148.17" width="6.92" height="6.93" fill="#4d0000"/>
<rect x="314.46" y="148.17" width="6.92" height="6.93" fill="#4d0000"/>
<rect x="320.78" y="148.17" width="6.92" height="6.93" fill="#4d0000"/>
<rect x="327.10" y="148.17" width="6.92" height="6.93" fill="#4d0000"/>
<rect x="333.42" y="148.17" width="6.92" height="6.93" fill="#4d0000"/>
<rect x="194.42" y="154.50" width="6.92" height="6.93" fill="#b33300"/>
<rect x="200.74" y="154.50" width="6.92" height="6.93" fill="#b33300"/>
<rect x="207.05" y="154.50" width="6.92" height="6.93" fill="#b33300"/>
<rect x="213.37" y="154.50" width="6.92" height="6.93" fill="#b33300"/>
<rect x="219.69" y="154.50" width="6.92" height="6.93" fill="#911100"/>
<rect x="226.01" y="154.50" width="6.92" height="6.93" fill="#4d0000"/>
<rect x="232.33" y="154.50" width="6.92" height="6.93" fill="#4d0000"/>
<rect x="238.65" y="154.50" width="6.92" height="6.93" fill="#4d0000"/>
<rect x="244.96" y="154.50" width="6.92" height="6.93" fill="#080000"/>
<rect x="251.28" y="154.50" width="6.92" height="6.93" fill="#080000"/>
<rect x="257.60" y="154.50" width="6.92" height="6.93" fill="#4d0000"/>
<rect x="263.92" y="154.50" width="6.92" height="6.93" fill="#4d0000"/>
<rect x="270.24" y="154.50" width="6.92" height="6.93" fill="#4d0000"/>
<rect x="276.55" y="154.50" width="6.92" height="6.93" fill="#4d0000"/>
<rect x="282.87" y="154.50" width="6.92" height="6.93" fill="#4d0000"/>
<rect x="289.19" y="154.50" width="6.92" height="6.93" fill="#4d0000"/>
<rect x="295.51" y="154.50" width="6.92" height="6.93" fill="#4d0000"/>
<rect x="301.83" y="154.50" width="6.92" height="6.93" fill="#4d0000"/>
<rect x="308.15" y="154.50" width="6.92" height="6.93" fill="#4d0000"/>
<rect x="314.46" y="154.50" width="6.92" height="6.93" fill="#4d0000"/>
<rect x="320.78" y="154.50" width="6.92" height="6.93" fill="#4d0000"/>
<rect x="327.10" y="154.50" width="6.92" height="6.93" fill="#4d0000"/>
<rect x="333.42" y="154.50" width="6.92" height="6.93" fill="#4d0000"/>
<rect x="175.46" y="160.83" width="6.92" height="6.93" fill="#b33300"/>
<rect x="181.78" y="160.83" width="6.92" height="6.93" fill="#b33300"/>
<rect x="188.10" y="160.83" width="6.92" height="6.93" fill="#b33300"/>
<rect x="194.42" y="160.83" width="6.92" height="6.93" fill="#b33300"/>
<rect x="200.74" y="160.83" width="6.92" height="6.93" fill="#b33300"/>
<rect x="207.05" y="160.83" width="6.92" height="6.93" fill="#b33300"/>
<rect x="213.37" y="160.83" width="6.92" height="6.93" fill="#b33300"/>
<rect x="219.69" y="160.83" width="6.92" height="6.93" fill="#b33300"/>
<rect x="226.01" y="160.83" width="6.92" height="6.93" fill="#4d0000"/>
<rect x="232.33" y="160.83" width="6.92" height="6.93" fill="#4d0000"/>
<rect x="238.65" y="160.83" width="6.92" height="6.93" fill="#4d0000"/>
<rect x="244.96" y="160.83" width="6.92" height="6.93" fill="#080000"/>
<rect x="251.28" y="160.83" width="6.92" height="6.93" fill="#080000"/>
<rect x="257.60" y="160.83" width="6.92" height="6.93" fill="#4d0000"/>
<rect x="263.92" y="160.83" width="6.92" height="6.93" fill="#4d0000"/>
<rect x="270.24" y="160.83" width="6.92" height="6.93" fill="#4d0000"/>
<rect x="276.55" y="160.83" width="6.92" height="6.93" fill="#4d0000"/>
<rect x="282.87" y="160.83" width="6.92" height="6.93" fill="#4d0000"/>
<rect x="289.19" y="160.83" width="6.92" height="6.93" fill="#4d0000"/>
<rect x="295.51" y="160.83" width="6.92" height="6.93" fill="#800000"/>
<rect x="301.83" y="160.83" width="6.92" height="6.93" fill="#800000"/>
<rect x="308.15" y="160.83" width="6.92" height="6.93" fill="#800000"/>
<rect x="314.46" y="160.83" width="6.92" height="6.93" fill="#800000"/>
<rect x="320.78" y="160.83" width="6.92" height="6.93" fill="#800000"/>
<rect x="327.10" y="160.83" width="6.92" height="6.93" fill="#800000"/>
<rect x="333.42" y="160.83" width="6.92" height="6.93" fill="#800000"/>
<rect x="175.46" y="167.17" width="6.92" height="6.93" fill="#b33300"/>
<rect x="181.78" y="167.17" width="6.92" height="6.93" fill="#b33300"/>
<rect x="188.10" y="167.17" width="6.92" height="6.93" fill="#b33300"/>
<rect x="194.42" y="167.17" width="6.92" height="6.93" fill="#b33300"/>
<rect x="200.74" y="167.17" width="6.92" height="6.93" fill="#b33300"/>
<rect x="207.05" y="167.17" width="6.92" height="6.93" fill="#b33300"/>
<rect x="213.37" y="167.17" width="6.92" height="6.93" fill="#b33300"/>
<rect x="219.69" y="167.17" width="6.92" height="6.93" fill="#b33300"/>
<rect x="226.01" y="167.17" width="6.92" height="6.93" fill="#a62600"/>
<rect x="232.33" y="167.17" width="6.92" height="6.93" fill="#2a0000"/>
<rect x="238.65" y="167.17" width="6.92" height="6.93" fill="#2a0000"/>
<rect x="244.96" y="167.17" width="6.92" height="6.93" fill="#080000"/>
<rect x="251.28" y="167.17" width="6.92" height="6.93" fill="#080000"/>
<rect x="257.60" y="167.17" width="6.92" height="6.93" fill="#4d0000"/>
<rect x="263.92" y="167.17" width="6.92" height="6.93" fill="#4d0000"/>
<rect x="270.24" y="167.17" width="6.92" height="6.93" fill="#4d0000"/>
<rect x="276.55" y="167.17" width="6.92" height="6.93" fill="#4d0000"/>
<rect x="282.87" y="167.17" width="6.92" height="6.93" fill="#b33300"/>
<rect x="289.19" y="167.17" width="6.92" height="6.93" fill="#e56600"/>
<rect x="295.51" y="167.17" width="6.92" height="6.93" fill="#e56600"/>
<rect x="301.83" y="167.17" width="6.92" height="6.93" fill="#ff991a"/>
<rect x="308.15" y="167.17" width="6.92" height="6.93" fill="#e56600"/>
<rect x="314.46" y="167.17" width="6.92" height="6.93" fill="#ff991a"/>
<rect x="320.78" y="167.17" width="6.92" height="6.93" fill="#ffcc4d"/>
<rect x="327.10" y="167.17" width="6.92" height="6.93" fill="#ffcc4d"/>
<rect x="333.42" y="167.17" width="6.92" height="6.93" fill="#ffcc4d"/>
<rect x="175.46" y="173.50" width="6.92" height="6.93" fill="#ffe566"/>
<rect x="181.78" y="173.50" width="6.92" height="6.93" fill="#ffe566"/>
<rect x="188.10" y="173.50" width="6.92" height="6.93" fill="#ffe566"/>
<rect x="194.42" y="173.50" width="6.92" height="6.93" fill="#ffcc4d"/>
<rect x="200.74" y="173.50" width="6.92" height="6.93" fill="#ff991a"/>
<rect x="207.05" y="173.50" width="6.92" height="6.93" fill="#b33300"/>
<rect x="213.37" y="173.50" width="6.92" height="6.93" fill="#b33300"/>
<rect x="219.69" y="173.50" width="6.92" height="6.93" fill="#b33300"/>
<rect x="226.01" y="173.50" width="6.92" height="6.93" fill="#991a00"/>
<rect x="232.33" y="173.50" width="6.92" height="6.93" fill="#080000"/>
<rect x="238.65" y="173.50" width="6.92" height="6.93" fill="#080000"/>
<rect x="244.96" y="173.50" width="6.92" height="6.93" fill="#080000"/>
<rect x="251.28" y="173.50" width="6.92" height="6.93" fill="#080000"/>
<rect x="257.60" y="173.50" width="6.92" height="6.93" fill="#4d0000"/>
<rect x="263.92" y="173.50" width="6.92" height="6.93" fill="#4d0000"/>
<rect x="270.24" y="173.50" width="6.92" height="6.93" fill="#360000"/>
<rect x="276.55" y="173.50" width="6.92" height="6.93" fill="#4d0000"/>
<rect x="282.87" y="173.50" width="6.92" height="6.93" fill="#800000"/>
<rect x="289.19" y="173.50" width="6.92" height="6.93" fill="#e56600"/>
<rect x="295.51" y="173.50" width="6.92" height="6.93" fill="#e56600"/>
<rect x="301.83" y="173.50" width="6.92" height="6.93" fill="#e56600"/>
<rect x="308.15" y="173.50" width="6.92" height="6.93" fill="#e56600"/>
<rect x="314.46" y="173.50" width="6.92" height="6.93" fill="#ff991a"/>
<rect x="320.78" y="173.50" width="6.92" height="6.93" fill="#ff991a"/>
<rect x="327.10" y="173.50" width="6.92" height="6.93" fill="#ff991a"/>
<rect x="333.42" y="173.50" width="6.92" height="6.93" fill="#ff991a"/>
<rect x="175.46" y="179.83" width="6.92" height="6.93" fill="#ffff80"/>
<rect x="181.78" y="179.83" width="6.92" height="6.93" fill="#ffff80"/>
<rect x="188.10" y="179.83" width="6.92" height="6.93" fill="#ffff80"/>
<rect x="194.42" y="179.83" width="6.92" height="6.93" fill="#ffff80"/>
<rect x="200.74" y="179.83" width="6.92" height="6.93" fill="#ffff80"/>
<rect x="207.05" y="179.83" width="6.92" height="6.93" fill="#ffff80"/>
<rect x="213.37" y="179.83" width="6.92" height="6.93" fill="#b33300"/>
<rect x="219.69" y="179.83" width="6.92" height="6.93" fill="#800000"/>
<rect x="226.01" y="179.83" width="6.92" height="6.93" fill="#800000"/>
<rect x="232.33" y="179.83" width="6.92" height="6.93" fill="#080000"/>
<rect x="238.65" y="179.83" width="6.92" height="6.93" fill="#080000"/>
<rect x="244.96" y="179.83" width="6.92" height="6.93" fill="#080000"/>
<rect x="251.28" y="179.83" width="6.92" height="6.93" fill="#080000"/>
<rect x="257.60" y="179.83" width="6.92" height="6.93" fill="#080000"/>
<rect x="263.92" y="179.83" width="6.92" height="6.93" fill="#080000"/>
<rect x="270.24" y="179.83" width="6.92" height="6.93" fill="#080000"/>
<rect x="276.55" y="179.83" width="6.92" height="6.93" fill="#4d0000"/>
<rect x="282.87" y="179.83" width="6.92" height="6.93" fill="#800000"/>
<rect x="289.19" y="179.83" width="6.92" height="6.93" fill="#e56600"/>
<rect x="295.51" y="179.83" width="6.92" height="6.93" fill="#e56600"/>
<rect x="301.83" y="179.83" width="6.92" height="6.93" fill="#b33300"/>
<rect x="308.15" y="179.83" width="6.92" height="6.93" fill="#4d0000"/>
<rect x="314.46" y="179.83" width="6.92" height="6.93" fill="#4d0000"/>
<rect x="320.78" y="179.83" width="6.92" height="6.93" fill="#4d0000"/>
<rect x="327.10" y="179.83" width="6.92" height="6.93" fill="#4d0000"/>
<rect x="333.42" y="179.83" width="6.92" height="6.93" fill="#4d0000"/>
<rect x="175.46" y="186.17" width="6.92" height="6.93" fill="#ffff80"/>
<rect x="181.78" y="186.17" width="6.92" height="6.93" fill="#ffff80"/>
<rect x="188.10" y="186.17" width="6.92" height="6.93" fill="#ffff80"/>
<rect x="194.42" y="186.17" width="6.92" height="6.93" fill="#ffff80"/>
<rect x="200.74" y="186.17" width="6.92" height="6.93" fill="#ffff80"/>
<rect x="207.05" y="186.17" width="6.92" height="6.93" fill="#ffb333"/>
<rect x="213.37" y="186.17" width="6.92" height="6.93" fill="#e56600"/>
<rect x="219.69" y="186.17" width="6.92" height="6.93" fill="#800000"/>
<rect x="226.01" y="186.17" width="6.92" height="6.93" fill="#4d0000"/>
<rect x="232.33" y="186.17" width="6.92" height="6.93" fill="#080000"/>
<rect x="238.65" y="186.17" width="6.92" height="6.93" fill="#080000"/>
<rect x="244.96" y="186.17" width="6.92" height="6.93" fill="#080000"/>
<rect x="251.28" y="186.17" width="6.92" height="6.93" fill="#080000"/>
<rect x="257.60" y="186.17" width="6.92" height="6.93" fill="#080000"/>
<rect x="263.92" y="186.17" width="6.92" height="6.93" fill="#080000"/>
<rect x="270.24" y="186.17" width="6.92" height="6.93" fill="#4d0000"/>
<rect x="276.55" y="186.17" width="6.92" height="6.93" fill="#800000"/>
<rect x="282.87" y="186.17" width="6.92" height="6.93" fill="#e56600"/>
<rect x="289.19" y="186.17" width="6.92" height="6.93" fill="#e56600"/>
<rect x="295.51" y="186.17" width="6.92" height="6.93" fill="#b33300"/>
<rect x="301.83" y="186.17" width="6.92" height="6.93" fill="#800000"/>
<rect x="308.15" y="186.17" width="6.92" height="6.93" fill="#800000"/>
<rect x="314.46" y="186.17" width="6.92" height="6.93" fill="#b33300"/>
<rect x="320.78" y="186.17" width="6.92" height="6.93" fill="#b33300"/>
<rect x="327.10" y="186.17" width="6.92" height="6.93" fill="#b33300"/>
<rect x="333.42" y="186.17" width="6.92" height="6.93" fill="#b33300"/>
<rect x="175.46" y="192.50" width="6.92" height="6.93" fill="#fc7d00"/>
<rect x="181.78" y="192.50" width="6.92" height="6.93" fill="#fc7d00"/>
<rect x="188.10" y="192.50" width="6.92" height="6.93" fill="#fc7d00"/>
<rect x="194.42" y="192.50" width="6.92" height="6.93" fill="#f67700"/>
<rect x="200.74" y="192.50" width="6.92" height="6.93" fill="#e56600"/>
<rect x="207.05" y="192.50" width="6.92" height="6.93" fill="#b33300"/>
<rect x="213.37" y="192.50" width="6.92" height="6.93" fill="#b33300"/>
<rect x="219.69" y="192.50" width="6.92" height="6.93" fill="#800000"/>
<rect x="226.01" y="192.50" width="6.92" height="6.93" fill="#800000"/>
<rect x="232.33" y="192.50" width="6.92" height="6.93" fill="#4d0000"/>
<rect x="238.65" y="192.50" width="6.92" height="6.93" fill="#800000"/>
<rect x="244.96" y="192.50" width="6.92" height="6.93" fill="#800000"/>
<rect x="251.28" y="192.50" width="6.92" height="6.93" fill="#4d0000"/>
<rect x="257.60" y="192.50" width="6.92" height="6.93" fill="#4d0000"/>
<rect x="263.92" y="192.50" width="6.92" height="6.93" fill="#4d0000"/>
<rect x="270.24" y="192.50" width="6.92" height="6.93" fill="#b33300"/>
<rect x="276.55" y="192.50" width="6.92" height="6.93" fill="#ff991a"/>
<rect x="282.87" y="192.50" width="6.92" height="6.93" fill="#e56600"/>
<rect x="289.19" y="192.50" width="6.92" height="6.93" fill="#b33300"/>
<rect x="295.51" y="192.50" width="6.92" height="6.93" fill="#800000"/>
<rect x="301.83" y="192.50" width="6.92" height="6.93" fill="#4d0000"/>
<rect x="308.15" y="192.50" width="6.92" height="6.93" fill="#4d0000"/>
<rect x="314.46" y="192.50" width="6.92" height="6.93" fill="#4d0000"/>
<rect x="320.78" y="192.50" width="6.92" height="6.93" fill="#800000"/>
<rect x="327.10" y="192.50" width="6.92" height="6.93" fill="#800000"/>
<rect x="333.42" y="192.50" width="6.92" height="6.93" fill="#800000"/>
<rect x="175.46" y="198.83" width="6.92" height="6.93" fill="#800000"/>
<rect x="181.78" y="198.83" width="6.92" height="6.93" fill="#800000"/>
<rect x="188.10" y="198.83" width="6.92" height="6.93" fill="#800000"/>
<rect x="194.42" y="198.83" width="6.92" height="6.93" fill="#800000"/>
<rect x="200.74" y="198.83" width="6.92" height="6.93" fill="#800000"/>
<rect x="207.05" y="198.83" width="6.92" height="6.93" fill="#4d0000"/>
<rect x="213.37" y="198.83" width="6.92" height="6.93" fill="#a22200"/>
<rect x="219.69" y="198.83" width="6.92" height="6.93" fill="#b33300"/>
<rect x="226.01" y="198.83" width="6.92" height="6.93" fill="#b33300"/>
<rect x="232.33" y="198.83" width="6.92" height="6.93" fill="#b33300"/>
<rect x="238.65" y="198.83" width="6.92" height="6.93" fill="#b33300"/>
<rect x="244.96" y="198.83" width="6.92" height="6.93" fill="#e56600"/>
<rect x="251.28" y="198.83" width="6.92" height="6.93" fill="#b33300"/>
<rect x="257.60" y="198.83" width="6.92" height="6.93" fill="#b33300"/>
<rect x="263.92" y="198.83" width="6.92" height="6.93" fill="#800000"/>
<rect x="270.24" y="198.83" width="6.92" height="6.93" fill="#e56600"/>
<rect x="276.55" y="198.83" width="6.92" height="6.93" fill="#e56600"/>
<rect x="282.87" y="198.83" width="6.92" height="6.93" fill="#e56600"/>
<rect x="289.19" y="198.83" width="6.92" height="6.93" fill="#b33300"/>
<rect x="295.51" y="198.83" width="6.92" height="6.93" fill="#800000"/>
<rect x="301.83" y="198.83" width="6.92" height="6.93" fill="#800000"/>
<rect x="308.15" y="198.83" width="6.92" height="6.93" fill="#800000"/>
<rect x="314.46" y="198.83" width="6.92" height="6.93" fill="#4d0000"/>
<rect x="320.78" y="198.83" width="6.92" height="6.93" fill="#b33300"/>
<rect x="327.10" y="198.83" width="6.92" height="6.93" fill="#b33300"/>
<rect x="333.42" y="198.83" width="6.92" height="6.93" fill="#b33300"/>
<rect x="175.46" y="205.17" width="6.92" height="6.93" fill="#800000"/>
<rect x="181.78" y="205.17" width="6.92" height="6.93" fill="#800000"/>
<rect x="188.10" y="205.17" width="6.92" height="6.93" fill="#800000"/>
<rect x="194.42" y="205.17" width="6.92" height="6.93" fill="#800000"/>
<rect x="200.74" y="205.17" width="6.92" height="6.93" fill="#800000"/>
<rect x="207.05" y="205.17" width="6.92" height="6.93" fill="#4d0000"/>
<rect x="213.37" y="205.17" width="6.92" height="6.93" fill="#800000"/>
<rect x="219.69" y="205.17" width="6.92" height="6.93" fill="#b33300"/>
<rect x="226.01" y="205.17" width="6.92" height="6.93" fill="#800000"/>
<rect x="232.33" y="205.17" width="6.92" height="6.93" fill="#991a00"/>
<rect x="238.65" y="205.17" width="6.92" height="6.93" fill="#b33300"/>
<rect x="244.96" y="205.17" width="6.92" height="6.93" fill="#b33300"/>
<rect x="251.28" y="205.17" width="6.92" height="6.93" fill="#b33300"/>
<rect x="257.60" y="205.17" width="6.92" height="6.93" fill="#b33300"/>
<rect x="263.92" y="205.17" width="6.92" height="6.93" fill="#a22200"/>
<rect x="270.24" y="205.17" width="6.92" height="6.93" fill="#b33300"/>
<rect x="276.55" y="205.17" width="6.92" height="6.93" fill="#e56600"/>
<rect x="282.87" y="205.17" width="6.92" height="6.93" fill="#b33300"/>
<rect x="289.19" y="205.17" width="6.92" height="6.93" fill="#800000"/>
<rect x="295.51" y="205.17" width="6.92" height="6.93" fill="#800000"/>
<rect x="301.83" y="205.17" width="6.92" height="6.93" fill="#800000"/>
<rect x="308.15" y="205.17" width="6.92" height="6.93" fill="#800000"/>
<rect x="314.46" y="205.17" width="6.92" height="6.93" fill="#660000"/>
<rect x="320.78" y="205.17" width="6.92" height="6.93" fill="#991a00"/>
<rect x="327.10" y="205.17" width="6.92" height="6.93" fill="#991a00"/>
<rect x="333.42" y="205.17" width="6.92" height="6.93" fill="#991a00"/>
<rect x="175.46" y="211.50" width="6.92" height="6.93" fill="#4d0000"/>
<rect x="181.78" y="211.50" width="6.92" height="6.93" fill="#4d0000"/>
<rect x="188.10" y="211.50" width="6.92" height="6.93" fill="#4d0000"/>
<rect x="194.42" y="211.50" width="6.92" height="6.93" fill="#4d0000"/>
<rect x="200.74" y="211.50" width="6.92" height="6.93" fill="#4d0000"/>
<rect x="207.05" y="211.50" width="6.92" height="6.93" fill="#080000"/>
<rect x="213.37" y="211.50" width="6.92" height="6.93" fill="#080000"/>
<rect x="219.69" y="211.50" width="6.92" height="6.93" fill="#800000"/>
<rect x="226.01" y="211.50" width="6.92" height="6.93" fill="#800000"/>
<rect x="232.33" y="211.50" width="6.92" height="6.93" fill="#cc4d00"/>
<rect x="238.65" y="211.50" width="6.92" height="6.93" fill="#ff8000"/>
<rect x="244.96" y="211.50" width="6.92" height="6.93" fill="#e56600"/>
<rect x="251.28" y="211.50" width="6.92" height="6.93" fill="#b33300"/>
<rect x="257.60" y="211.50" width="6.92" height="6.93" fill="#b33300"/>
<rect x="263.92" y="211.50" width="6.92" height="6.93" fill="#b33300"/>
<rect x="270.24" y="211.50" width="6.92" height="6.93" fill="#b33300"/>
<rect x="276.55" y="211.50" width="6.92" height="6.93" fill="#b33300"/>
<rect x="282.87" y="211.50" width="6.92" height="6.93" fill="#b33300"/>
<rect x="289.19" y="211.50" width="6.92" height="6.93" fill="#800000"/>
<rect x="295.51" y="211.50" width="6.92" height="6.93" fill="#800000"/>
<rect x="301.83" y="211.50" width="6.92" height="6.93" fill="#800000"/>
<rect x="308.15" y="211.50" width="6.92" height="6.93" fill="#800000"/>
<rect x="314.46" y="211.50" width="6.92" height="6.93" fill="#800000"/>
<rect x="320.78" y="211.50" width="6.92" height="6.93" fill="#800000"/>
<rect x="327.10" y="211.50" width="6.92" height="6.93" fill="#800000"/>
<rect x="333.42" y="211.50" width="6.92" height="6.93" fill="#800000"/>
<rect x="175.46" y="217.83" width="6.92" height="6.93" fill="#4d0000"/>
<rect x="181.78" y="217.83" width="6.92" height="6.93" fill="#4d0000"/>
<rect x="188.10" y="217.83" width="6.92" height="6.93" fill="#4d0000"/>
<rect x="194.42" y="217.83" width="6.92" height="6.93" fill="#4d0000"/>
<rect x="200.74" y="217.83" width="6.92" height="6.93" fill="#4d0000"/>
<rect x="207.05" y="217.83" width="6.92" height="6.93" fill="#4d0000"/>
<rect x="213.37" y="217.83" width="6.92" height="6.93" fill="#4d0000"/>
<rect x="219.69" y="217.83" width="6.92" height="6.93" fill="#800000"/>
<rect x="226.01" y="217.83" width="6.92" height="6.93" fill="#ff991a"/>
<rect x="232.33" y="217.83" width="6.92" height="6.93" fill="#ff991a"/>
<rect x="238.65" y="217.83" width="6.92" height="6.93" fill="#ff991a"/>
<rect x="244.96" y="217.83" width="6.92" height="6.93" fill="#ff991a"/>
<rect x="251.28" y="217.83" width="6.92" height="6.93" fill="#ff991a"/>
<rect x="257.60" y="217.83" width="6.92" height="6.93" fill="#e56600"/>
<rect x="263.92" y="217.83" width="6.92" height="6.93" fill="#cc4d00"/>
<rect x="270.24" y="217.83" width="6.92" height="6.93" fill="#b33300"/>
<rect x="276.55" y="217.83" width="6.92" height="6.93" fill="#b33300"/>
<rect x="282.87" y="217.83" width="6.92" height="6.93" fill="#b33300"/>
<rect x="289.19" y="217.83" width="6.92" height="6.93" fill="#b33300"/>
<rect x="295.51" y="217.83" width="6.92" height="6.93" fill="#800000"/>
<rect x="301.83" y="217.83" width="6.92" height="6.93" fill="#b33300"/>
<rect x="308.15" y="217.83" width="6.92" height="6.93" fill="#800000"/>
<rect x="314.46" y="217.83" width="6.92" height="6.93" fill="#b33300"/>
<rect x="320.78" y="217.83" width="6.92" height="6.93" fill="#b33300"/>
<rect x="327.10" y="217.83" width="6.92" height="6.93" fill="#b33300"/>
<rect x="333.42" y="217.83" width="6.92" height="6.93" fill="#b33300"/>
<rect x="175.46" y="224.17" width="6.92" height="6.93" fill="#4d0000"/>
<rect x="181.78" y="224.17" width="6.92" height="6.93" fill="#4d0000"/>
<rect x="188.10" y="224.17" width="6.92" height="6.93" fill="#4d0000"/>
<rect x="194.42" y="224.17" width="6.92" height="6.93" fill="#4d0000"/>
<rect x="200.74" y="224.17" width="6.92" height="6.93" fill="#4d0000"/>
<rect x="207.05" y="224.17" width="6.92" height="6.93" fill="#4d0000"/>
<rect x="213.37" y="224.17" width="6.92" height="6.93" fill="#800000"/>
<rect x="219.69" y="224.17" width="6.92" height="6.93" fill="#800000"/>
<rect x="226.01" y="224.17" width="6.92" height="6.93" fill="#ffcc4d"/>
<rect x="232.33" y="224.17" width="6.92" height="6.93" fill="#ffcc4d"/>
<rect x="238.65" y="224.17" width="6.92" height="6.93" fill="#ffcc4d"/>
<rect x="244.96" y="224.17" width="6.92" height="6.93" fill="#ffcc4d"/>
<rect x="251.28" y="224.17" width="6.92" height="6.93" fill="#ffcc4d"/>
<rect x="257.60" y="224.17" width="6.92" height="6.93" fill="#ff991a"/>
<rect x="263.92" y="224.17" width="6.92" height="6.93" fill="#e56600"/>
<rect x="270.24" y="224.17" width="6.92" height="6.93" fill="#b33300"/>
<rect x="276.55" y="224.17" width="6.92" height="6.93" fill="#b33300"/>
<rect x="282.87" y="224.17" width="6.92" height="6.93" fill="#b33300"/>
<rect x="289.19" y="224.17" width="6.92" height="6.93" fill="#b33300"/>
<rect x="295.51" y="224.17" width="6.92" height="6.93" fill="#b33300"/>
<rect x="301.83" y="224.17" width="6.92" height="6.93" fill="#b33300"/>
<rect x="308.15" y="224.17" width="6.92" height="6.93" fill="#b33300"/>
<rect x="314.46" y="224.17" width="6.92" height="6.93" fill="#b33300"/>
<rect x="320.78" y="224.17" width="6.92" height="6.93" fill="#ffcc4d"/>
<rect x="327.10" y="224.17" width="6.92" height="6.93" fill="#ffcc4d"/>
<rect x="333.42" y="224.17" width="6.92" height="6.93" fill="#ffcc4d"/>
<rect x="175.46" y="230.50" width="6.92" height="6.93" fill="#4d0000"/>
<rect x="181.78" y="230.50" width="6.92" height="6.93" fill="#4d0000"/>
<rect x="188.10" y="230.50" width="6.92" height="6.93" fill="#4d0000"/>
<rect x="194.42" y="230.50" width="6.92" height="6.93" fill="#4d0000"/>
<rect x="200.74" y="230.50" width="6.92" height="6.93" fill="#4d0000"/>
<rect x="207.05" y="230.50" width="6.92" height="6.93" fill="#4d0000"/>
<rect x="213.37" y="230.50" width="6.92" height="6.93" fill="#800000"/>
<rect x="219.69" y="230.50" width="6.92" height="6.93" fill="#800000"/>
<rect x="226.01" y="230.50" width="6.92" height="6.93" fill="#ffcc4d"/>
<rect x="232.33" y="230.50" width="6.92" height="6.93" fill="#ffcc4d"/>
<rect x="238.65" y="230.50" width="6.92" height="6.93" fill="#ffcc4d"/>
<rect x="244.96" y="230.50" width="6.92" height="6.93" fill="#ffcc4d"/>
<rect x="251.28" y="230.50" width="6.92" height="6.93" fill="#ffcc4d"/>
<rect x="257.60" y="230.50" width="6.92" height="6.93" fill="#ff991a"/>
<rect x="263.92" y="230.50" width="6.92" height="6.93" fill="#e56600"/>
<rect x="270.24" y="230.50" width="6.92" height="6.93" fill="#b33300"/>
<rect x="276.55" y="230.50" width="6.92" height="6.93" fill="#b33300"/>
<rect x="282.87" y="230.50" width="6.92" height="6.93" fill="#b33300"/>
<rect x="289.19" y="230.50" width="6.92" height="6.93" fill="#b33300"/>
<rect x="295.51" y="230.50" width="6.92" height="6.93" fill="#b33300"/>
<rect x="301.83" y="230.50" width="6.92" height="6.93" fill="#b33300"/>
<rect x="308.15" y="230.50" width="6.92" height="6.93" fill="#b33300"/>
<rect x="314.46" y="230.50" width="6.92" height="6.93" fill="#b33300"/>
<rect x="320.78" y="230.50" width="6.92" height="6.93" fill="#ffcc4d"/>
<rect x="327.10" y="230.50" width="6.92" height="6.93" fill="#ffcc4d"/>
<rect x="333.42" y="230.50" width="6.92" height="6.93" fill="#ffcc4d"/>
<rect x="175.46" y="236.83" width="6.92" height="6.93" fill="#4d0000"/>
<rect x="181.78" y="236.83" width="6.92" height="6.93" fill="#4d0000"/>
<rect x="188.10" y="236.83" width="6.92" height="6.93" fill="#4d0000"/>
<rect x="194.42" y="236.83" width="6.92" height="6.93" fill="#4d0000"/>
<rect x="200.74" y="236.83" width="6.92" height="6.93" fill="#4d0000"/>
<rect x="207.05" y="236.83" width="6.92" height="6.93" fill="#4d0000"/>
<rect x="213.37" y="236.83" width="6.92" height="6.93" fill="#800000"/>
<rect x="219.69" y="236.83" width="6.92" height="6.93" fill="#800000"/>
<rect x="226.01" y="236.83" width="6.92" height="6.93" fill="#ffcc4d"/>
<rect x="232.33" y="236.83" width="6.92" height="6.93" fill="#ffcc4d"/>
<rect x="238.65" y="236.83" width="6.92" height="6.93" fill="#ffcc4d"/>
<rect x="244.96" y="236.83" width="6.92" height="6.93" fill="#ffcc4d"/>
<rect x="251.28" y="236.83" width="6.92" height="6.93" fill="#ffcc4d"/>
<rect x="257.60" y="236.83" width="6.92" height="6.93" fill="#ff991a"/>
<rect x="263.92" y="236.83" width="6.92" height="6.93" fill="#e56600"/>
<rect x="270.24" y="236.83" width="6.92" height="6.93" fill="#b33300"/>
<rect x="276.55" y="236.83" width="6.92" height="6.93" fill="#b33300"/>
<rect x="282.87" y="236.83" width="6.92" height="6.93" fill="#b33300"/>
<rect x="289.19" y="236.83" width="6.92" height="6.93" fill="#b33300"/>
<rect x="295.51" y="236.83" width="6.92" height="6.93" fill="#b33300"/>
<rect x="301.83" y="236.83" width="6.92" height="6.93" fill="#b33300"/>
<rect x="308.15" y="236.83" width="6.92" height="6.93" fill="#b33300"/>
<rect x="314.46" y="236.83" width="6.92" height="6.93" fill="#b33300"/>
<rect x="320.78" y="236.83" width="6.92" height="6.93" fill="#ffcc4d"/>
<rect x="327.10" y="236.83" width="6.92" height="6.93" fill="#ffcc4d"/>
<rect x="333.42" y="236.83" width="6.92" height="6.93" fill="#ffcc4d"/>
</g></g>
<g fill="none" stroke="#000" stroke-width="0.8" stroke-linejoin="round"><use href="#mland" x="188.4" y="135.8"/><use href="#isl" x="188.4" y="135.8"/></g>
<path d="M201.6,135.8V230.8M226.8,135.8V230.8M252.0,135.8V230.8M277.1,135.8V230.8M302.3,135.8V230.8M188.4,217.5H327.4M188.4,204.6H327.4M188.4,191.8H327.4M188.4,178.9H327.4M188.4,166.1H327.4M188.4,153.3H327.4M188.4,140.4H327.4" stroke="#999" stroke-width="0.5" stroke-dasharray="1.5,1.5" fill="none"/>
<rect x="233.8" y="178.9" width="38.3" height="26.3" fill="none" stroke="#1010f0" stroke-width="1.6"/>
</g>
<rect x="188.4" y="135.8" width="139.0" height="95.0" fill="none" stroke="#5a5a5a" stroke-width="0.85"/>
<rect x="190.3" y="140.1" width="76.4" height="10" rx="1.5" fill="#fff" fill-opacity="0.85" stroke="#bbb" stroke-width="0.6"/>
<text x="193.0" y="147.3" font-size="7.7">mean intensity:6.6°C</text>
<text x="257.9" y="132.4" font-size="8.8" text-anchor="middle">e)  + 4K</text>
<text x="185.4" y="219.8" font-size="6.3" text-anchor="end">40°N</text>
<text x="185.4" y="206.9" font-size="6.3" text-anchor="end">45°N</text>
<text x="185.4" y="194.1" font-size="6.3" text-anchor="end">50°N</text>
<text x="185.4" y="181.2" font-size="6.3" text-anchor="end">55°N</text>
<text x="185.4" y="168.4" font-size="6.3" text-anchor="end">60°N</text>
<text x="185.4" y="155.6" font-size="6.3" text-anchor="end">65°N</text>
<text x="185.4" y="142.7" font-size="6.3" text-anchor="end">70°N</text>
<text x="201.6" y="239.4" font-size="6.3" text-anchor="middle">10°W</text>
<text x="226.8" y="239.4" font-size="6.3" text-anchor="middle">0°</text>
<text x="252.0" y="239.4" font-size="6.3" text-anchor="middle">10°E</text>
<text x="277.1" y="239.4" font-size="6.3" text-anchor="middle">20°E</text>
<text x="302.3" y="239.4" font-size="6.3" text-anchor="middle">30°E</text>
<text x="425.0" y="125.9" font-size="8.8" text-anchor="middle">f)  HW intensity</text>
<clipPath id="cclip"><rect x="355.5" y="129.3" width="139.0" height="101.7"/></clipPath>
<rect x="406.8" y="129.3" width="38.3" height="101.7" fill="#fcf8c0"/>
<path d="M355.5,129.3V231.0M371.2,129.3V231.0M386.9,129.3V231.0M402.6,129.3V231.0M425.0,129.3V231.0M440.7,129.3V231.0M456.4,129.3V231.0M472.1,129.3V231.0M494.5,129.3V231.0M355.5,226.2H494.5M355.5,204.4H494.5M355.5,182.7H494.5M355.5,160.9H494.5M355.5,139.2H494.5" stroke="#d4d4d4" stroke-width="0.7" fill="none"/>
<g clip-path="url(#cclip)">
<path d="M355.5,226.2 L356.6,226.2 L357.7,226.2 L358.9,226.2 L360.0,226.2 L361.1,226.2 L362.2,226.2 L363.3,226.2 L364.5,226.2 L365.6,226.2 L366.7,226.2 L367.8,226.2 L369.0,226.2 L370.1,226.2 L371.2,226.2 L372.3,226.2 L373.4,226.2 L374.6,226.2 L375.7,226.2 L376.8,226.2 L377.9,226.2 L379.0,226.2 L380.2,226.2 L381.3,226.2 L382.4,226.2 L383.5,226.2 L384.6,226.2 L385.8,226.2 L386.9,226.2 L388.0,226.2 L389.1,226.2 L390.2,226.2 L391.4,226.2 L392.5,226.2 L393.6,226.2 L394.7,226.2 L395.9,226.2 L397.0,226.2 L398.1,226.2 L399.2,226.2 L400.3,226.2 L401.5,226.2 L402.6,226.2 L403.7,226.2 L404.8,226.2 L405.9,226.2 L407.1,226.2 L408.2,226.2 L409.3,226.2 L410.4,226.2 L411.5,226.2 L412.7,226.2 L413.8,226.2 L414.9,226.2 L416.0,226.2 L417.2,226.2 L418.3,226.2 L419.4,226.2 L420.5,225.3 L421.6,222.2 L422.8,218.6 L423.9,215.9 L425.0,215.8 L426.1,219.3 L427.2,221.6 L428.4,220.8 L429.5,218.9 L430.6,216.9 L431.7,215.5 L432.8,216.5 L434.0,221.3 L435.1,225.7 L436.2,225.3 L437.3,221.0 L438.5,215.2 L439.6,210.3 L440.7,208.9 L441.8,212.3 L442.9,218.1 L444.1,223.7 L445.2,226.2 L446.3,226.2 L447.4,226.2 L448.5,226.2 L449.7,226.2 L450.8,226.2 L451.9,226.2 L453.0,226.2 L454.1,226.2 L455.3,226.2 L456.4,226.2 L457.5,226.2 L458.6,226.2 L459.8,226.2 L460.9,225.2 L462.0,224.2 L463.1,225.2 L464.2,226.2 L465.4,226.2 L466.5,226.2 L467.6,226.2 L468.7,224.9 L469.8,221.6 L471.0,217.4 L472.1,213.1 L473.2,209.8 L474.3,208.5 L475.4,211.8 L476.6,218.8 L477.7,224.9 L478.8,226.2 L479.9,226.2 L481.0,226.2 L482.2,226.2 L483.3,226.2 L484.4,226.2 L485.5,226.2 L486.7,226.2 L487.8,226.2 L488.9,226.2 L490.0,226.2 L491.1,226.2 L492.3,226.2 L493.4,226.2 L494.5,226.2" stroke="#8cc78c" stroke-width="0.5" fill="none" opacity="0.8"/>
<path d="M355.5,226.2 L356.6,226.2 L357.7,226.2 L358.9,226.2 L360.0,226.2 L361.1,226.2 L362.2,226.2 L363.3,226.2 L364.5,226.2 L365.6,226.2 L366.7,226.2 L367.8,226.2 L369.0,226.2 L370.1,226.2 L371.2,226.2 L372.3,226.2 L373.4,226.2 L374.6,226.2 L375.7,226.2 L376.8,226.2 L377.9,226.2 L379.0,226.2 L380.2,226.2 L381.3,226.2 L382.4,226.2 L383.5,226.2 L384.6,226.2 L385.8,226.2 L386.9,226.2 L388.0,226.2 L389.1,226.2 L390.2,226.2 L391.4,226.2 L392.5,226.2 L393.6,226.2 L394.7,226.2 L395.9,226.2 L397.0,226.2 L398.1,226.2 L399.2,226.2 L400.3,226.2 L401.5,226.2 L402.6,226.2 L403.7,226.2 L404.8,226.2 L405.9,226.2 L407.1,226.2 L408.2,226.2 L409.3,226.2 L410.4,226.2 L411.5,226.2 L412.7,226.2 L413.8,226.2 L414.9,226.2 L416.0,226.2 L417.2,226.2 L418.3,226.2 L419.4,226.2 L420.5,224.0 L421.6,220.6 L422.8,216.5 L423.9,213.4 L425.0,213.3 L426.1,217.2 L427.2,219.9 L428.4,219.0 L429.5,216.8 L430.6,214.5 L431.7,212.9 L432.8,214.1 L434.0,219.6 L435.1,224.5 L436.2,224.1 L437.3,219.2 L438.5,212.5 L439.6,207.0 L440.7,205.4 L441.8,209.2 L442.9,215.9 L444.1,222.3 L445.2,226.2 L446.3,226.2 L447.4,226.2 L448.5,226.2 L449.7,226.2 L450.8,226.2 L451.9,226.2 L453.0,226.2 L454.1,226.2 L455.3,226.2 L456.4,226.2 L457.5,226.2 L458.6,226.2 L459.8,226.2 L460.9,224.0 L462.0,222.8 L463.1,224.0 L464.2,226.2 L465.4,226.2 L466.5,226.2 L467.6,226.2 L468.7,223.6 L469.8,219.9 L471.0,215.0 L472.1,210.2 L473.2,206.4 L474.3,204.9 L475.4,208.7 L476.6,216.7 L477.7,223.6 L478.8,226.2 L479.9,226.2 L481.0,226.2 L482.2,226.2 L483.3,226.2 L484.4,226.2 L485.5,226.2 L486.7,226.2 L487.8,226.2 L488.9,226.2 L490.0,226.2 L491.1,226.2 L492.3,226.2 L493.4,226.2 L494.5,226.2" stroke="#8cc78c" stroke-width="0.5" fill="none" opacity="0.8"/>
<path d="M355.5,226.2 L356.6,226.2 L357.7,226.2 L358.9,226.2 L360.0,226.2 L361.1,226.2 L362.2,226.2 L363.3,226.2 L364.5,226.2 L365.6,226.2 L366.7,226.2 L367.8,226.2 L369.0,226.2 L370.1,226.2 L371.2,226.2 L372.3,226.2 L373.4,226.2 L374.6,226.2 L375.7,226.2 L376.8,226.2 L377.9,226.2 L379.0,226.2 L380.2,226.2 L381.3,226.2 L382.4,226.2 L383.5,226.2 L384.6,226.2 L385.8,226.2 L386.9,226.2 L388.0,226.2 L389.1,226.2 L390.2,226.2 L391.4,226.2 L392.5,226.2 L393.6,226.2 L394.7,226.2 L395.9,226.2 L397.0,226.2 L398.1,226.2 L399.2,226.2 L400.3,226.2 L401.5,226.2 L402.6,226.2 L403.7,226.2 L404.8,226.2 L405.9,226.2 L407.1,226.2 L408.2,226.2 L409.3,226.2 L410.4,226.2 L411.5,226.2 L412.7,226.2 L413.8,226.2 L414.9,226.2 L416.0,226.2 L417.2,226.2 L418.3,226.2 L419.4,226.2 L420.5,226.2 L421.6,224.1 L422.8,220.2 L423.9,217.3 L425.0,217.2 L426.1,220.9 L427.2,223.5 L428.4,222.6 L429.5,220.6 L430.6,218.4 L431.7,216.9 L432.8,217.9 L434.0,223.1 L435.1,226.2 L436.2,226.2 L437.3,222.8 L438.5,216.5 L439.6,211.3 L440.7,209.8 L441.8,213.4 L442.9,219.7 L444.1,225.7 L445.2,226.2 L446.3,226.2 L447.4,226.2 L448.5,226.2 L449.7,226.2 L450.8,226.2 L451.9,226.2 L453.0,226.2 L454.1,226.2 L455.3,226.2 L456.4,226.2 L457.5,226.2 L458.6,226.2 L459.8,226.2 L460.9,226.2 L462.0,226.2 L463.1,226.2 L464.2,226.2 L465.4,226.2 L466.5,226.2 L467.6,226.2 L468.7,226.2 L469.8,223.4 L471.0,218.9 L472.1,214.3 L473.2,210.8 L474.3,209.3 L475.4,212.9 L476.6,220.4 L477.7,226.2 L478.8,226.2 L479.9,226.2 L481.0,226.2 L482.2,226.2 L483.3,226.2 L484.4,226.2 L485.5,226.2 L486.7,226.2 L487.8,226.2 L488.9,226.2 L490.0,226.2 L491.1,226.2 L492.3,226.2 L493.4,226.2 L494.5,226.2" stroke="#8cc78c" stroke-width="0.5" fill="none" opacity="0.8"/>
<path d="M355.5,226.2 L356.6,226.2 L357.7,226.2 L358.9,226.2 L360.0,226.2 L361.1,225.9 L362.2,225.4 L363.3,225.2 L364.5,225.5 L365.6,226.0 L366.7,226.2 L367.8,226.2 L369.0,226.2 L370.1,226.2 L371.2,226.2 L372.3,226.2 L373.4,226.2 L374.6,226.2 L375.7,226.2 L376.8,226.2 L377.9,226.2 L379.0,226.2 L380.2,226.2 L381.3,226.2 L382.4,226.2 L383.5,226.2 L384.6,226.2 L385.8,226.2 L386.9,226.2 L388.0,226.2 L389.1,226.2 L390.2,226.2 L391.4,226.2 L392.5,226.2 L393.6,226.2 L394.7,226.2 L395.9,226.2 L397.0,225.9 L398.1,225.3 L399.2,225.3 L400.3,225.8 L401.5,226.2 L402.6,226.2 L403.7,226.2 L404.8,226.2 L405.9,224.6 L407.1,214.4 L408.2,210.6 L409.3,208.6 L410.4,207.0 L411.5,206.0 L412.7,205.5 L413.8,206.2 L414.9,209.7 L416.0,214.3 L417.2,217.9 L418.3,218.1 L419.4,213.3 L420.5,206.1 L421.6,199.5 L422.8,196.6 L423.9,197.8 L425.0,200.3 L426.1,202.5 L427.2,202.7 L428.4,200.4 L429.5,197.0 L430.6,193.8 L431.7,192.4 L432.8,193.8 L434.0,196.5 L435.1,197.9 L436.2,196.9 L437.3,194.7 L438.5,191.8 L439.6,189.2 L440.7,187.6 L441.8,189.4 L442.9,199.1 L444.1,212.1 L445.2,222.8 L446.3,226.1 L447.4,224.7 L448.5,221.9 L449.7,218.8 L450.8,216.4 L451.9,215.8 L453.0,218.7 L454.1,223.2 L455.3,226.1 L456.4,223.9 L457.5,216.9 L458.6,209.4 L459.8,206.0 L460.9,208.6 L462.0,213.5 L463.1,216.1 L464.2,213.8 L465.4,209.6 L466.5,206.5 L467.6,203.8 L468.7,201.2 L469.8,198.8 L471.0,196.6 L472.1,194.9 L473.2,193.7 L474.3,193.3 L475.4,201.0 L476.6,215.8 L477.7,225.8 L478.8,226.2 L479.9,226.2 L481.0,226.2 L482.2,226.2 L483.3,226.2 L484.4,226.2 L485.5,224.2 L486.7,218.3 L487.8,212.9 L488.9,212.8 L490.0,220.8 L491.1,226.2 L492.3,226.2 L493.4,226.2 L494.5,226.2" stroke="#9a9aff" stroke-width="0.5" fill="none" opacity="0.8"/>
<path d="M355.5,226.2 L356.6,226.2 L357.7,226.2 L358.9,226.2 L360.0,226.2 L361.1,224.8 L362.2,224.2 L363.3,224.0 L364.5,224.3 L365.6,224.8 L366.7,226.2 L367.8,226.2 L369.0,226.2 L370.1,226.2 L371.2,226.2 L372.3,226.2 L373.4,226.2 L374.6,226.2 L375.7,226.2 L376.8,226.2 L377.9,226.2 L379.0,226.2 L380.2,226.2 L381.3,226.2 L382.4,226.2 L383.5,226.2 L384.6,226.2 L385.8,226.2 L386.9,226.2 L388.0,226.2 L389.1,226.2 L390.2,226.2 L391.4,226.2 L392.5,226.2 L393.6,226.2 L394.7,226.2 L395.9,226.2 L397.0,224.7 L398.1,224.1 L399.2,224.0 L400.3,224.7 L401.5,226.2 L402.6,226.2 L403.7,226.2 L404.8,226.2 L405.9,223.3 L407.1,211.7 L408.2,207.3 L409.3,205.0 L410.4,203.3 L411.5,202.1 L412.7,201.5 L413.8,202.3 L414.9,206.3 L416.0,211.6 L417.2,215.6 L418.3,215.9 L419.4,210.5 L420.5,202.2 L421.6,194.6 L422.8,191.3 L423.9,192.7 L425.0,195.6 L426.1,198.1 L427.2,198.3 L428.4,195.7 L429.5,191.8 L430.6,188.2 L431.7,186.6 L432.8,188.2 L434.0,191.2 L435.1,192.8 L436.2,191.8 L437.3,189.2 L438.5,185.9 L439.6,182.9 L440.7,181.1 L441.8,183.2 L442.9,194.2 L444.1,209.0 L445.2,221.3 L446.3,226.1 L447.4,223.4 L448.5,220.2 L449.7,216.7 L450.8,213.9 L451.9,213.2 L453.0,216.5 L454.1,221.7 L455.3,226.1 L456.4,222.5 L457.5,214.5 L458.6,206.0 L459.8,202.1 L460.9,205.0 L462.0,210.6 L463.1,213.6 L464.2,211.0 L465.4,206.1 L466.5,202.6 L467.6,199.6 L468.7,196.6 L469.8,193.8 L471.0,191.4 L472.1,189.4 L473.2,188.1 L474.3,187.6 L475.4,196.3 L476.6,213.3 L477.7,224.7 L478.8,226.2 L479.9,226.2 L481.0,226.2 L482.2,226.2 L483.3,226.2 L484.4,226.2 L485.5,222.8 L486.7,216.1 L487.8,210.0 L488.9,209.8 L490.0,218.9 L491.1,226.2 L492.3,226.2 L493.4,226.2 L494.5,226.2" stroke="#9a9aff" stroke-width="0.5" fill="none" opacity="0.8"/>
<path d="M355.5,226.2 L356.6,226.2 L357.7,226.2 L358.9,226.2 L360.0,226.2 L361.1,226.2 L362.2,226.2 L363.3,226.2 L364.5,226.2 L365.6,226.2 L366.7,226.2 L367.8,226.2 L369.0,226.2 L370.1,226.2 L371.2,226.2 L372.3,226.2 L373.4,226.2 L374.6,226.2 L375.7,226.2 L376.8,226.2 L377.9,226.2 L379.0,226.2 L380.2,226.2 L381.3,226.2 L382.4,226.2 L383.5,226.2 L384.6,226.2 L385.8,226.2 L386.9,226.2 L388.0,226.2 L389.1,226.2 L390.2,226.2 L391.4,226.2 L392.5,226.2 L393.6,226.2 L394.7,226.2 L395.9,226.2 L397.0,226.2 L398.1,226.2 L399.2,226.2 L400.3,226.2 L401.5,226.2 L402.6,226.2 L403.7,226.2 L404.8,226.2 L405.9,226.2 L407.1,215.7 L408.2,211.6 L409.3,209.4 L410.4,207.8 L411.5,206.7 L412.7,206.1 L413.8,206.9 L414.9,210.7 L416.0,215.6 L417.2,219.4 L418.3,219.7 L419.4,214.5 L420.5,206.8 L421.6,199.6 L422.8,196.5 L423.9,197.8 L425.0,200.5 L426.1,202.9 L427.2,203.1 L428.4,200.7 L429.5,196.9 L430.6,193.5 L431.7,192.1 L432.8,193.6 L434.0,196.4 L435.1,197.9 L436.2,196.9 L437.3,194.5 L438.5,191.4 L439.6,188.6 L440.7,186.9 L441.8,188.8 L442.9,199.2 L444.1,213.2 L445.2,224.7 L446.3,226.1 L447.4,226.2 L448.5,223.7 L449.7,220.4 L450.8,217.8 L451.9,217.2 L453.0,220.3 L454.1,225.1 L455.3,226.1 L456.4,225.9 L457.5,218.4 L458.6,210.4 L459.8,206.6 L460.9,209.4 L462.0,214.7 L463.1,217.5 L464.2,215.1 L465.4,210.5 L466.5,207.2 L467.6,204.3 L468.7,201.5 L469.8,198.9 L471.0,196.5 L472.1,194.7 L473.2,193.5 L474.3,193.0 L475.4,201.2 L476.6,217.2 L477.7,226.2 L478.8,226.2 L479.9,226.2 L481.0,226.2 L482.2,226.2 L483.3,226.2 L484.4,226.2 L485.5,226.2 L486.7,219.9 L487.8,214.1 L488.9,214.0 L490.0,222.5 L491.1,226.2 L492.3,226.2 L493.4,226.2 L494.5,226.2" stroke="#9a9aff" stroke-width="0.5" fill="none" opacity="0.8"/>
<path d="M355.5,225.7 L356.6,226.0 L357.7,226.2 L358.9,226.2 L360.0,223.7 L361.1,218.2 L362.2,213.1 L363.3,211.5 L364.5,214.1 L365.6,218.8 L366.7,223.5 L367.8,226.1 L369.0,226.1 L370.1,225.6 L371.2,225.1 L372.3,224.5 L373.4,224.2 L374.6,224.3 L375.7,224.8 L376.8,225.5 L377.9,226.0 L379.0,226.2 L380.2,226.2 L381.3,226.2 L382.4,224.9 L383.5,221.8 L384.6,218.5 L385.8,216.3 L386.9,216.6 L388.0,219.0 L389.1,222.2 L390.2,224.7 L391.4,225.0 L392.5,223.6 L393.6,221.1 L394.7,217.9 L395.9,214.7 L397.0,212.0 L398.1,210.3 L399.2,210.4 L400.3,213.9 L401.5,219.2 L402.6,224.1 L403.7,226.2 L404.8,221.4 L405.9,211.2 L407.1,201.9 L408.2,198.0 L409.3,195.1 L410.4,192.7 L411.5,191.0 L412.7,190.1 L413.8,190.6 L414.9,193.5 L416.0,197.1 L417.2,199.6 L418.3,198.8 L419.4,193.3 L420.5,185.4 L421.6,177.8 L422.8,173.1 L423.9,173.3 L425.0,176.5 L426.1,179.3 L427.2,179.0 L428.4,175.9 L429.5,172.3 L430.6,170.6 L431.7,172.6 L432.8,177.1 L434.0,182.1 L435.1,185.4 L436.2,185.2 L437.3,182.4 L438.5,178.0 L439.6,173.3 L440.7,169.2 L441.8,166.8 L442.9,173.6 L444.1,202.7 L445.2,225.3 L446.3,224.2 L447.4,217.6 L448.5,208.5 L449.7,199.4 L450.8,192.8 L451.9,191.2 L453.0,200.9 L454.1,216.1 L455.3,225.8 L456.4,221.6 L457.5,207.6 L458.6,192.7 L459.8,185.7 L460.9,189.8 L462.0,197.4 L463.1,201.4 L464.2,200.8 L465.4,199.1 L466.5,196.5 L467.6,193.4 L468.7,190.0 L469.8,186.7 L471.0,183.6 L472.1,181.0 L473.2,179.3 L474.3,178.7 L475.4,186.1 L476.6,202.4 L477.7,218.8 L478.8,226.2 L479.9,226.2 L481.0,226.2 L482.2,226.2 L483.3,226.2 L484.4,226.2 L485.5,222.4 L486.7,210.7 L487.8,197.7 L488.9,190.1 L490.0,197.0 L491.1,215.6 L492.3,226.2 L493.4,226.2 L494.5,226.2" stroke="#ff9a9a" stroke-width="0.5" fill="none" opacity="0.8"/>
<path d="M355.5,224.5 L356.6,226.0 L357.7,226.2 L358.9,226.2 L360.0,222.2 L361.1,216.0 L362.2,210.2 L363.3,208.4 L364.5,211.4 L365.6,216.7 L366.7,222.0 L367.8,226.1 L369.0,226.1 L370.1,224.5 L371.2,223.8 L372.3,223.2 L373.4,222.8 L374.6,222.9 L375.7,223.5 L376.8,224.3 L377.9,226.0 L379.0,226.2 L380.2,226.2 L381.3,226.2 L382.4,223.6 L383.5,220.1 L384.6,216.3 L385.8,213.9 L386.9,214.2 L388.0,217.0 L389.1,220.6 L390.2,223.4 L391.4,223.8 L392.5,222.2 L393.6,219.3 L394.7,215.7 L395.9,212.1 L397.0,209.0 L398.1,207.0 L399.2,207.1 L400.3,211.1 L401.5,217.1 L402.6,222.7 L403.7,226.2 L404.8,219.6 L405.9,208.0 L407.1,197.5 L408.2,193.0 L409.3,189.6 L410.4,186.9 L411.5,185.0 L412.7,183.9 L413.8,184.5 L414.9,187.8 L416.0,192.0 L417.2,194.8 L418.3,193.9 L419.4,187.6 L420.5,178.6 L421.6,170.0 L422.8,164.6 L423.9,164.9 L425.0,168.5 L426.1,171.7 L427.2,171.3 L428.4,167.8 L429.5,163.7 L430.6,161.7 L431.7,164.0 L432.8,169.2 L434.0,174.9 L435.1,178.6 L436.2,178.4 L437.3,175.2 L438.5,170.2 L439.6,164.8 L440.7,160.1 L441.8,157.4 L442.9,165.1 L444.1,198.3 L445.2,224.1 L446.3,222.9 L447.4,215.3 L448.5,204.9 L449.7,194.6 L450.8,187.0 L451.9,185.2 L453.0,196.3 L454.1,213.6 L455.3,224.7 L456.4,219.8 L457.5,203.9 L458.6,186.9 L459.8,179.0 L460.9,183.6 L462.0,192.2 L463.1,196.9 L464.2,196.1 L465.4,194.2 L466.5,191.3 L467.6,187.7 L468.7,183.9 L469.8,180.1 L471.0,176.5 L472.1,173.6 L473.2,171.7 L474.3,170.9 L475.4,179.4 L476.6,198.0 L477.7,216.6 L478.8,226.2 L479.9,226.2 L481.0,226.2 L482.2,226.2 L483.3,226.2 L484.4,226.2 L485.5,220.8 L486.7,207.5 L487.8,192.6 L488.9,183.9 L490.0,191.8 L491.1,213.0 L492.3,226.2 L493.4,226.2 L494.5,226.2" stroke="#ff9a9a" stroke-width="0.5" fill="none" opacity="0.8"/>
<path d="M355.5,226.2 L356.6,226.0 L357.7,226.2 L358.9,226.2 L360.0,225.7 L361.1,219.8 L362.2,214.3 L363.3,212.6 L364.5,215.4 L365.6,220.4 L366.7,225.5 L367.8,226.1 L369.0,226.1 L370.1,226.2 L371.2,226.2 L372.3,226.2 L373.4,226.2 L374.6,226.2 L375.7,226.2 L376.8,226.2 L377.9,226.0 L379.0,226.2 L380.2,226.2 L381.3,226.2 L382.4,226.2 L383.5,223.7 L384.6,220.1 L385.8,217.8 L386.9,218.0 L388.0,220.7 L389.1,224.1 L390.2,226.2 L391.4,226.2 L392.5,225.6 L393.6,222.8 L394.7,219.5 L395.9,216.1 L397.0,213.1 L398.1,211.3 L399.2,211.4 L400.3,215.1 L401.5,220.9 L402.6,226.1 L403.7,226.2 L404.8,223.2 L405.9,212.2 L407.1,202.3 L408.2,198.0 L409.3,194.9 L410.4,192.3 L411.5,190.5 L412.7,189.5 L413.8,190.1 L414.9,193.2 L416.0,197.1 L417.2,199.8 L418.3,198.9 L419.4,193.0 L420.5,184.5 L421.6,176.4 L422.8,171.3 L423.9,171.5 L425.0,174.9 L426.1,178.0 L427.2,177.6 L428.4,174.3 L429.5,170.4 L430.6,168.6 L431.7,170.7 L432.8,175.6 L434.0,181.0 L435.1,184.5 L436.2,184.3 L437.3,181.3 L438.5,176.6 L439.6,171.5 L440.7,167.1 L441.8,164.5 L442.9,171.8 L444.1,203.1 L445.2,226.2 L446.3,226.2 L447.4,219.1 L448.5,209.3 L449.7,199.6 L450.8,192.4 L451.9,190.7 L453.0,201.2 L454.1,217.5 L455.3,226.2 L456.4,223.4 L457.5,208.3 L458.6,192.3 L459.8,184.9 L460.9,189.2 L462.0,197.4 L463.1,201.7 L464.2,201.0 L465.4,199.2 L466.5,196.4 L467.6,193.1 L468.7,189.5 L469.8,185.9 L471.0,182.5 L472.1,179.8 L473.2,177.9 L474.3,177.3 L475.4,185.2 L476.6,202.8 L477.7,220.4 L478.8,226.2 L479.9,226.2 L481.0,226.2 L482.2,226.2 L483.3,226.2 L484.4,226.2 L485.5,224.3 L486.7,211.7 L487.8,197.7 L488.9,189.5 L490.0,197.0 L491.1,217.0 L492.3,226.2 L493.4,226.2 L494.5,226.2" stroke="#ff9a9a" stroke-width="0.5" fill="none" opacity="0.8"/>
<path d="M355.5,214.6 L356.6,209.0 L357.7,205.1 L358.9,202.5 L360.0,200.9 L361.1,200.2 L362.2,199.9 L363.3,200.0 L364.5,204.0 L365.6,211.0 L366.7,218.1 L367.8,222.0 L369.0,221.6 L370.1,219.6 L371.2,217.1 L372.3,214.7 L373.4,213.2 L374.6,213.7 L375.7,217.0 L376.8,221.4 L377.9,225.1 L379.0,226.2 L380.2,226.2 L381.3,226.2 L382.4,223.5 L383.5,217.5 L384.6,210.8 L385.8,206.4 L386.9,206.3 L388.0,207.7 L389.1,209.6 L390.2,211.3 L391.4,212.0 L392.5,211.0 L393.6,208.5 L394.7,205.1 L395.9,201.4 L397.0,198.3 L398.1,196.2 L399.2,196.5 L400.3,202.2 L401.5,210.8 L402.6,218.7 L403.7,222.2 L404.8,215.5 L405.9,201.3 L407.1,188.5 L408.2,183.1 L409.3,179.3 L410.4,176.6 L411.5,175.6 L412.7,177.0 L413.8,180.0 L414.9,183.3 L416.0,185.5 L417.2,185.0 L418.3,180.9 L419.4,174.6 L420.5,167.7 L421.6,161.8 L422.8,158.3 L423.9,158.5 L425.0,161.0 L426.1,163.2 L427.2,162.9 L428.4,159.9 L429.5,156.5 L430.6,154.9 L431.7,157.6 L432.8,163.9 L434.0,170.7 L435.1,175.1 L436.2,175.0 L437.3,171.7 L438.5,166.7 L439.6,161.2 L440.7,156.4 L441.8,153.7 L442.9,162.0 L444.1,197.5 L445.2,225.1 L446.3,223.8 L447.4,215.6 L448.5,204.5 L449.7,193.3 L450.8,185.1 L451.9,183.1 L453.0,195.1 L454.1,213.8 L455.3,225.8 L456.4,220.4 L457.5,202.9 L458.6,184.3 L459.8,175.6 L460.9,178.8 L462.0,184.6 L463.1,187.8 L464.2,187.0 L465.4,184.8 L466.5,181.7 L467.6,177.8 L468.7,173.6 L469.8,169.4 L471.0,165.6 L472.1,162.4 L473.2,160.2 L474.3,159.4 L475.4,169.9 L476.6,192.8 L477.7,215.8 L478.8,226.2 L479.9,226.2 L481.0,226.2 L482.2,226.2 L483.3,226.2 L484.4,226.2 L485.5,221.6 L486.7,207.3 L487.8,191.3 L488.9,182.0 L490.0,190.5 L491.1,213.2 L492.3,226.2 L493.4,226.2 L494.5,226.2" stroke="#c98ad8" stroke-width="0.5" fill="none" opacity="0.8"/>
<path d="M355.5,211.9 L356.6,205.5 L357.7,201.0 L358.9,198.1 L360.0,196.3 L361.1,195.5 L362.2,195.2 L363.3,195.3 L364.5,199.8 L365.6,207.8 L366.7,215.9 L367.8,220.3 L369.0,219.8 L370.1,217.6 L371.2,214.7 L372.3,212.0 L373.4,210.3 L374.6,210.9 L375.7,214.6 L376.8,219.6 L377.9,223.8 L379.0,226.2 L380.2,226.2 L381.3,226.2 L382.4,222.1 L383.5,215.2 L384.6,207.6 L385.8,202.6 L386.9,202.4 L388.0,204.0 L389.1,206.2 L390.2,208.1 L391.4,209.0 L392.5,207.8 L393.6,204.9 L394.7,201.0 L395.9,196.9 L397.0,193.3 L398.1,191.0 L399.2,191.2 L400.3,197.7 L401.5,207.6 L402.6,216.6 L403.7,220.5 L404.8,212.9 L405.9,196.8 L407.1,182.2 L408.2,176.0 L409.3,171.7 L410.4,168.6 L411.5,167.5 L412.7,169.0 L413.8,172.5 L414.9,176.2 L416.0,178.7 L417.2,178.1 L418.3,173.4 L419.4,166.3 L420.5,158.5 L421.6,151.7 L422.8,147.7 L423.9,148.0 L425.0,150.8 L426.1,153.3 L427.2,152.9 L428.4,149.6 L429.5,145.7 L430.6,143.8 L431.7,147.0 L432.8,154.1 L434.0,161.8 L435.1,166.9 L436.2,166.8 L437.3,163.0 L438.5,157.3 L439.6,151.0 L440.7,145.6 L441.8,142.4 L442.9,151.9 L444.1,192.4 L445.2,223.9 L446.3,222.4 L447.4,213.0 L448.5,200.3 L449.7,187.6 L450.8,178.3 L451.9,176.0 L453.0,189.7 L454.1,210.9 L455.3,224.6 L456.4,218.5 L457.5,198.6 L458.6,177.3 L459.8,167.5 L460.9,171.1 L462.0,177.7 L463.1,181.3 L464.2,180.4 L465.4,178.0 L466.5,174.3 L467.6,169.9 L468.7,165.2 L469.8,160.4 L471.0,156.0 L472.1,152.4 L473.2,149.9 L474.3,149.0 L475.4,160.9 L476.6,187.1 L477.7,213.2 L478.8,226.2 L479.9,226.2 L481.0,226.2 L482.2,226.2 L483.3,226.2 L484.4,226.2 L485.5,219.8 L486.7,203.5 L487.8,185.3 L488.9,174.8 L490.0,184.4 L491.1,210.3 L492.3,226.2 L493.4,226.2 L494.5,226.2" stroke="#c98ad8" stroke-width="0.5" fill="none" opacity="0.8"/>
<path d="M355.5,215.9 L356.6,209.9 L357.7,205.6 L358.9,202.9 L360.0,201.2 L361.1,200.4 L362.2,200.1 L363.3,200.2 L364.5,204.5 L365.6,212.1 L366.7,219.7 L367.8,223.9 L369.0,223.4 L370.1,221.3 L371.2,218.6 L372.3,216.0 L373.4,214.4 L374.6,215.0 L375.7,218.5 L376.8,223.2 L377.9,226.2 L379.0,226.2 L380.2,226.2 L381.3,226.2 L382.4,225.5 L383.5,219.0 L384.6,211.8 L385.8,207.1 L386.9,206.9 L388.0,208.4 L389.1,210.5 L390.2,212.4 L391.4,213.1 L392.5,212.1 L393.6,209.3 L394.7,205.6 L395.9,201.7 L397.0,198.3 L398.1,196.2 L399.2,196.4 L400.3,202.5 L401.5,211.8 L402.6,220.3 L403.7,224.0 L404.8,216.9 L405.9,201.7 L407.1,187.9 L408.2,182.1 L409.3,178.0 L410.4,175.1 L411.5,174.0 L412.7,175.4 L413.8,178.7 L414.9,182.3 L416.0,184.6 L417.2,184.0 L418.3,179.6 L419.4,172.9 L420.5,165.5 L421.6,159.1 L422.8,155.3 L423.9,155.6 L425.0,158.3 L426.1,160.7 L427.2,160.3 L428.4,157.1 L429.5,153.4 L430.6,151.7 L431.7,154.6 L432.8,161.3 L434.0,168.7 L435.1,173.5 L436.2,173.3 L437.3,169.8 L438.5,164.4 L439.6,158.5 L440.7,153.4 L441.8,150.4 L442.9,159.3 L444.1,197.6 L445.2,226.2 L446.3,225.8 L447.4,217.0 L448.5,205.0 L449.7,193.0 L450.8,184.2 L451.9,182.1 L453.0,195.0 L454.1,215.0 L455.3,226.2 L456.4,222.2 L457.5,203.3 L458.6,183.3 L459.8,174.0 L460.9,177.4 L462.0,183.7 L463.1,187.0 L464.2,186.2 L465.4,183.9 L466.5,180.5 L467.6,176.3 L468.7,171.8 L469.8,167.3 L471.0,163.2 L472.1,159.8 L473.2,157.5 L474.3,156.6 L475.4,167.8 L476.6,192.5 L477.7,217.2 L478.8,226.2 L479.9,226.2 L481.0,226.2 L482.2,226.2 L483.3,226.2 L484.4,226.2 L485.5,223.4 L486.7,208.0 L487.8,190.9 L488.9,180.9 L490.0,190.0 L491.1,214.4 L492.3,226.2 L493.4,226.2 L494.5,226.2" stroke="#c98ad8" stroke-width="0.5" fill="none" opacity="0.8"/>
<path d="M355.5,202.9 L356.6,196.8 L357.7,192.4 L358.9,189.6 L360.0,187.9 L361.1,187.1 L362.2,186.8 L363.3,186.9 L364.5,191.8 L365.6,200.7 L366.7,209.5 L367.8,214.4 L369.0,213.7 L370.1,210.9 L371.2,207.2 L372.3,203.7 L373.4,201.5 L374.6,202.6 L375.7,208.8 L376.8,217.1 L377.9,224.0 L379.0,226.2 L380.2,226.2 L381.3,226.2 L382.4,221.6 L383.5,211.1 L384.6,199.6 L385.8,192.0 L386.9,191.6 L388.0,193.8 L389.1,196.8 L390.2,199.4 L391.4,200.5 L392.5,199.5 L393.6,196.8 L394.7,193.3 L395.9,189.5 L397.0,186.2 L398.1,184.1 L399.2,184.4 L400.3,190.5 L401.5,199.8 L402.6,208.3 L403.7,212.0 L404.8,205.0 L405.9,190.0 L407.1,176.5 L408.2,171.0 L409.3,167.2 L410.4,164.5 L411.5,163.5 L412.7,164.8 L413.8,167.9 L414.9,171.2 L416.0,173.4 L417.2,172.8 L418.3,168.7 L419.4,162.4 L420.5,155.5 L421.6,149.5 L422.8,146.1 L423.9,146.4 L425.0,149.4 L426.1,152.0 L427.2,151.8 L428.4,149.0 L429.5,145.8 L430.6,144.3 L431.7,147.1 L432.8,153.5 L434.0,160.4 L435.1,165.0 L436.2,164.9 L437.3,161.3 L438.5,156.0 L439.6,150.1 L440.7,145.0 L441.8,142.1 L442.9,151.7 L444.1,193.0 L445.2,225.0 L446.3,223.5 L447.4,214.1 L448.5,201.4 L449.7,188.7 L450.8,179.4 L451.9,177.1 L453.0,190.8 L454.1,212.0 L455.3,225.7 L456.4,219.6 L457.5,199.4 L458.6,178.0 L459.8,168.0 L460.9,171.3 L462.0,177.4 L463.1,180.7 L464.2,179.9 L465.4,177.6 L466.5,174.3 L467.6,170.3 L468.7,165.9 L469.8,161.5 L471.0,157.5 L472.1,154.1 L473.2,151.9 L474.3,151.1 L475.4,162.8 L476.6,188.6 L477.7,214.5 L478.8,226.2 L479.9,226.2 L481.0,226.2 L482.2,226.2 L483.3,226.2 L484.4,226.2 L485.5,220.9 L486.7,204.7 L487.8,186.6 L488.9,176.0 L490.0,185.7 L491.1,211.5 L492.3,226.2 L493.4,226.2 L494.5,226.2" stroke="#e0a0a0" stroke-width="0.5" fill="none" opacity="0.8"/>
<path d="M355.5,198.6 L356.6,191.6 L357.7,186.6 L358.9,183.4 L360.0,181.4 L361.1,180.5 L362.2,180.2 L363.3,180.3 L364.5,185.9 L365.6,196.0 L366.7,206.1 L367.8,211.7 L369.0,210.9 L370.1,207.7 L371.2,203.4 L372.3,199.4 L373.4,197.0 L374.6,198.2 L375.7,205.3 L376.8,214.8 L377.9,222.6 L379.0,226.2 L380.2,226.2 L381.3,226.2 L382.4,219.9 L383.5,207.9 L384.6,194.8 L385.8,186.2 L386.9,185.7 L388.0,188.2 L389.1,191.6 L390.2,194.5 L391.4,195.8 L392.5,194.6 L393.6,191.6 L394.7,187.6 L395.9,183.3 L397.0,179.5 L398.1,177.1 L399.2,177.4 L400.3,184.4 L401.5,195.0 L402.6,204.7 L403.7,209.0 L404.8,200.9 L405.9,183.8 L407.1,168.5 L408.2,162.2 L409.3,157.8 L410.4,154.8 L411.5,153.6 L412.7,155.2 L413.8,158.6 L414.9,162.4 L416.0,164.9 L417.2,164.3 L418.3,159.6 L419.4,152.4 L420.5,144.6 L421.6,137.7 L422.8,133.8 L423.9,134.1 L425.0,137.5 L426.1,140.6 L427.2,140.3 L428.4,137.1 L429.5,133.5 L430.6,131.7 L431.7,134.9 L432.8,142.2 L434.0,150.2 L435.1,155.4 L436.2,155.2 L437.3,151.2 L438.5,145.1 L439.6,138.4 L440.7,132.6 L441.8,129.2 L442.9,140.2 L444.1,187.2 L445.2,223.7 L446.3,222.0 L447.4,211.4 L448.5,196.9 L449.7,182.4 L450.8,171.8 L451.9,169.2 L453.0,184.8 L454.1,209.0 L455.3,224.5 L456.4,217.5 L457.5,194.6 L458.6,170.2 L459.8,158.8 L460.9,162.6 L462.0,169.5 L463.1,173.2 L464.2,172.3 L465.4,169.7 L466.5,165.9 L467.6,161.3 L468.7,156.4 L469.8,151.4 L471.0,146.8 L472.1,143.0 L473.2,140.4 L474.3,139.5 L475.4,152.8 L476.6,182.3 L477.7,211.7 L478.8,226.2 L479.9,226.2 L481.0,226.2 L482.2,226.2 L483.3,226.2 L484.4,226.2 L485.5,219.1 L486.7,200.6 L487.8,179.9 L488.9,167.9 L490.0,178.9 L491.1,208.3 L492.3,226.2 L493.4,226.2 L494.5,226.2" stroke="#e0a0a0" stroke-width="0.5" fill="none" opacity="0.8"/>
<path d="M355.5,203.4 L356.6,196.8 L357.7,192.1 L358.9,189.0 L360.0,187.2 L361.1,186.3 L362.2,186.0 L363.3,186.1 L364.5,191.4 L365.6,200.9 L366.7,210.4 L367.8,215.7 L369.0,215.0 L370.1,211.9 L371.2,207.9 L372.3,204.2 L373.4,201.9 L374.6,203.0 L375.7,209.7 L376.8,218.6 L377.9,226.0 L379.0,226.2 L380.2,226.2 L381.3,226.2 L382.4,223.4 L383.5,212.1 L384.6,199.8 L385.8,191.6 L386.9,191.2 L388.0,193.5 L389.1,196.7 L390.2,199.5 L391.4,200.8 L392.5,199.6 L393.6,196.8 L394.7,193.0 L395.9,188.9 L397.0,185.4 L398.1,183.1 L399.2,183.4 L400.3,190.0 L401.5,200.0 L402.6,209.1 L403.7,213.1 L404.8,205.5 L405.9,189.4 L407.1,174.9 L408.2,169.0 L409.3,164.9 L410.4,162.0 L411.5,160.9 L412.7,162.4 L413.8,165.6 L414.9,169.2 L416.0,171.6 L417.2,171.0 L418.3,166.6 L419.4,159.8 L420.5,152.4 L421.6,145.9 L422.8,142.2 L423.9,142.6 L425.0,145.8 L426.1,148.6 L427.2,148.3 L428.4,145.4 L429.5,141.9 L430.6,140.3 L431.7,143.3 L432.8,150.2 L434.0,157.7 L435.1,162.6 L436.2,162.4 L437.3,158.6 L438.5,152.9 L439.6,146.6 L440.7,141.1 L441.8,137.9 L442.9,148.3 L444.1,192.6 L445.2,226.2 L446.3,225.4 L447.4,215.4 L448.5,201.7 L449.7,188.1 L450.8,178.0 L451.9,175.6 L453.0,190.3 L454.1,213.1 L455.3,226.2 L456.4,221.2 L457.5,199.6 L458.6,176.6 L459.8,165.8 L460.9,169.4 L462.0,175.9 L463.1,179.4 L464.2,178.5 L465.4,176.1 L466.5,172.6 L467.6,168.2 L468.7,163.5 L469.8,158.8 L471.0,154.5 L472.1,150.9 L473.2,148.5 L474.3,147.6 L475.4,160.2 L476.6,188.0 L477.7,215.7 L478.8,226.2 L479.9,226.2 L481.0,226.2 L482.2,226.2 L483.3,226.2 L484.4,226.2 L485.5,222.7 L486.7,205.3 L487.8,185.7 L488.9,174.4 L490.0,184.8 L491.1,212.5 L492.3,226.2 L493.4,226.2 L494.5,226.2" stroke="#e0a0a0" stroke-width="0.5" fill="none" opacity="0.8"/>
<path d="M355.5,226.2 L356.6,226.2 L357.7,226.2 L358.9,226.2 L360.0,226.2 L361.1,226.2 L362.2,226.2 L363.3,226.2 L364.5,226.2 L365.6,226.2 L366.7,226.2 L367.8,226.2 L369.0,226.2 L370.1,226.2 L371.2,226.2 L372.3,226.2 L373.4,226.2 L374.6,226.2 L375.7,226.2 L376.8,226.2 L377.9,226.2 L379.0,226.2 L380.2,226.2 L381.3,226.2 L382.4,226.2 L383.5,226.2 L384.6,226.2 L385.8,226.2 L386.9,226.2 L388.0,226.2 L389.1,226.2 L390.2,226.2 L391.4,226.2 L392.5,226.2 L393.6,226.2 L394.7,226.2 L395.9,226.2 L397.0,226.2 L398.1,226.2 L399.2,226.2 L400.3,226.2 L401.5,226.2 L402.6,226.2 L403.7,226.2 L404.8,226.2 L405.9,226.2 L407.1,226.2 L408.2,226.2 L409.3,226.2 L410.4,226.2 L411.5,226.2 L412.7,226.2 L413.8,226.2 L414.9,226.2 L416.0,226.2 L417.2,226.2 L418.3,226.2 L419.4,226.2 L420.5,225.2 L421.6,222.0 L422.8,218.1 L423.9,215.2 L425.0,215.1 L426.1,218.8 L427.2,221.3 L428.4,220.4 L429.5,218.4 L430.6,216.2 L431.7,214.7 L432.8,215.8 L434.0,221.0 L435.1,225.6 L436.2,225.3 L437.3,220.6 L438.5,214.3 L439.6,209.1 L440.7,207.6 L441.8,211.2 L442.9,217.5 L444.1,223.5 L445.2,226.2 L446.3,226.2 L447.4,226.2 L448.5,226.2 L449.7,226.2 L450.8,226.2 L451.9,226.2 L453.0,226.2 L454.1,226.2 L455.3,226.2 L456.4,226.2 L457.5,226.2 L458.6,226.2 L459.8,226.2 L460.9,225.1 L462.0,224.0 L463.1,225.1 L464.2,226.2 L465.4,226.2 L466.5,226.2 L467.6,226.2 L468.7,224.8 L469.8,221.3 L471.0,216.7 L472.1,212.1 L473.2,208.6 L474.3,207.2 L475.4,210.8 L476.6,218.3 L477.7,224.8 L478.8,226.2 L479.9,226.2 L481.0,226.2 L482.2,226.2 L483.3,226.2 L484.4,226.2 L485.5,226.2 L486.7,226.2 L487.8,226.2 L488.9,226.2 L490.0,226.2 L491.1,226.2 L492.3,226.2 L493.4,226.2 L494.5,226.2" stroke="#2e8b2e" stroke-width="0.9" fill="none" stroke-linejoin="round"/>
<path d="M355.5,226.2 L356.6,226.2 L357.7,226.2 L358.9,226.2 L360.0,226.2 L361.1,225.9 L362.2,225.3 L363.3,225.1 L364.5,225.5 L365.6,225.9 L366.7,226.2 L367.8,226.2 L369.0,226.2 L370.1,226.2 L371.2,226.2 L372.3,226.2 L373.4,226.2 L374.6,226.2 L375.7,226.2 L376.8,226.2 L377.9,226.2 L379.0,226.2 L380.2,226.2 L381.3,226.2 L382.4,226.2 L383.5,226.2 L384.6,226.2 L385.8,226.2 L386.9,226.2 L388.0,226.2 L389.1,226.2 L390.2,226.2 L391.4,226.2 L392.5,226.2 L393.6,226.2 L394.7,226.2 L395.9,226.2 L397.0,225.8 L398.1,225.3 L399.2,225.2 L400.3,225.8 L401.5,226.2 L402.6,226.2 L403.7,226.2 L404.8,226.2 L405.9,224.5 L407.1,213.6 L408.2,209.4 L409.3,207.2 L410.4,205.6 L411.5,204.5 L412.7,204.0 L413.8,204.7 L414.9,208.5 L416.0,213.5 L417.2,217.3 L418.3,217.5 L419.4,212.4 L420.5,204.6 L421.6,197.5 L422.8,194.3 L423.9,195.6 L425.0,198.3 L426.1,200.7 L427.2,200.9 L428.4,198.5 L429.5,194.8 L430.6,191.4 L431.7,189.9 L432.8,191.4 L434.0,194.2 L435.1,195.8 L436.2,194.7 L437.3,192.3 L438.5,189.2 L439.6,186.4 L440.7,184.7 L441.8,186.7 L442.9,197.1 L444.1,211.0 L445.2,222.6 L446.3,226.1 L447.4,224.6 L448.5,221.6 L449.7,218.2 L450.8,215.7 L451.9,215.0 L453.0,218.1 L454.1,223.0 L455.3,226.1 L456.4,223.7 L457.5,216.2 L458.6,208.2 L459.8,204.4 L460.9,207.3 L462.0,212.5 L463.1,215.3 L464.2,212.9 L465.4,208.3 L466.5,205.0 L467.6,202.1 L468.7,199.3 L469.8,196.7 L471.0,194.4 L472.1,192.5 L473.2,191.3 L474.3,190.9 L475.4,199.1 L476.6,215.0 L477.7,225.8 L478.8,226.2 L479.9,226.2 L481.0,226.2 L482.2,226.2 L483.3,226.2 L484.4,226.2 L485.5,224.0 L486.7,217.7 L487.8,211.9 L488.9,211.8 L490.0,220.4 L491.1,226.2 L492.3,226.2 L493.4,226.2 L494.5,226.2" stroke="#3b3bff" stroke-width="0.9" fill="none" stroke-linejoin="round"/>
<path d="M355.5,225.7 L356.6,226.0 L357.7,226.2 L358.9,226.2 L360.0,223.5 L361.1,217.6 L362.2,212.1 L363.3,210.4 L364.5,213.2 L365.6,218.3 L366.7,223.3 L367.8,226.1 L369.0,226.1 L370.1,225.6 L371.2,225.0 L372.3,224.4 L373.4,224.1 L374.6,224.1 L375.7,224.7 L376.8,225.4 L377.9,226.0 L379.0,226.2 L380.2,226.2 L381.3,226.2 L382.4,224.8 L383.5,221.5 L384.6,217.9 L385.8,215.6 L386.9,215.9 L388.0,218.5 L389.1,221.9 L390.2,224.6 L391.4,225.0 L392.5,223.4 L393.6,220.7 L394.7,217.3 L395.9,213.9 L397.0,211.0 L398.1,209.1 L399.2,209.2 L400.3,213.0 L401.5,218.7 L402.6,223.9 L403.7,226.2 L404.8,221.0 L405.9,210.1 L407.1,200.1 L408.2,195.9 L409.3,192.7 L410.4,190.2 L411.5,188.3 L412.7,187.4 L413.8,187.9 L414.9,191.0 L416.0,194.9 L417.2,197.6 L418.3,196.8 L419.4,190.8 L420.5,182.4 L421.6,174.2 L422.8,169.1 L423.9,169.4 L425.0,172.7 L426.1,175.8 L427.2,175.4 L428.4,172.1 L429.5,168.2 L430.6,166.4 L431.7,168.5 L432.8,173.4 L434.0,178.8 L435.1,182.3 L436.2,182.1 L437.3,179.1 L438.5,174.4 L439.6,169.3 L440.7,164.9 L441.8,162.3 L442.9,169.6 L444.1,200.9 L445.2,225.3 L446.3,224.1 L447.4,216.9 L448.5,207.2 L449.7,197.4 L450.8,190.2 L451.9,188.5 L453.0,199.0 L454.1,215.3 L455.3,225.8 L456.4,221.2 L457.5,206.2 L458.6,190.2 L459.8,182.7 L460.9,187.1 L462.0,195.2 L463.1,199.6 L464.2,198.9 L465.4,197.0 L466.5,194.3 L467.6,190.9 L468.7,187.3 L469.8,183.7 L471.0,180.4 L472.1,177.6 L473.2,175.8 L474.3,175.1 L475.4,183.1 L476.6,200.6 L477.7,218.2 L478.8,226.2 L479.9,226.2 L481.0,226.2 L482.2,226.2 L483.3,226.2 L484.4,226.2 L485.5,222.1 L486.7,209.6 L487.8,195.5 L488.9,187.3 L490.0,194.8 L491.1,214.8 L492.3,226.2 L493.4,226.2 L494.5,226.2" stroke="#ff3b3b" stroke-width="0.9" fill="none" stroke-linejoin="round"/>
<path d="M355.5,213.7 L356.6,207.7 L357.7,203.5 L358.9,200.7 L360.0,199.0 L361.1,198.2 L362.2,198.0 L363.3,198.1 L364.5,202.3 L365.6,209.9 L366.7,217.5 L367.8,221.7 L369.0,221.2 L370.1,219.1 L371.2,216.4 L372.3,213.8 L373.4,212.2 L374.6,212.8 L375.7,216.3 L376.8,221.0 L377.9,225.0 L379.0,226.2 L380.2,226.2 L381.3,226.2 L382.4,223.3 L383.5,216.8 L384.6,209.7 L385.8,205.0 L386.9,204.8 L388.0,206.3 L389.1,208.3 L390.2,210.2 L391.4,211.0 L392.5,209.9 L393.6,207.1 L394.7,203.5 L395.9,199.5 L397.0,196.1 L398.1,194.0 L399.2,194.2 L400.3,200.3 L401.5,209.6 L402.6,218.1 L403.7,221.8 L404.8,214.7 L405.9,199.5 L407.1,185.7 L408.2,179.9 L409.3,175.8 L410.4,172.9 L411.5,171.8 L412.7,173.3 L413.8,176.5 L414.9,180.1 L416.0,182.4 L417.2,181.9 L418.3,177.5 L419.4,170.7 L420.5,163.3 L421.6,156.9 L422.8,153.2 L423.9,153.4 L425.0,156.1 L426.1,158.5 L427.2,158.1 L428.4,154.9 L429.5,151.3 L430.6,149.5 L431.7,152.5 L432.8,159.2 L434.0,166.5 L435.1,171.3 L436.2,171.2 L437.3,167.6 L438.5,162.2 L439.6,156.3 L440.7,151.2 L441.8,148.2 L442.9,157.1 L444.1,195.4 L445.2,225.1 L446.3,223.6 L447.4,214.8 L448.5,202.8 L449.7,190.8 L450.8,182.0 L451.9,179.9 L453.0,192.8 L454.1,212.8 L455.3,225.7 L456.4,220.0 L457.5,201.2 L458.6,181.1 L459.8,171.8 L460.9,175.2 L462.0,181.5 L463.1,184.9 L464.2,184.0 L465.4,181.7 L466.5,178.3 L467.6,174.2 L468.7,169.7 L469.8,165.1 L471.0,161.0 L472.1,157.6 L473.2,155.3 L474.3,154.4 L475.4,165.6 L476.6,190.3 L477.7,215.0 L478.8,226.2 L479.9,226.2 L481.0,226.2 L482.2,226.2 L483.3,226.2 L484.4,226.2 L485.5,221.2 L486.7,205.9 L487.8,188.7 L488.9,178.7 L490.0,187.8 L491.1,212.2 L492.3,226.2 L493.4,226.2 L494.5,226.2" stroke="#9b30b5" stroke-width="0.9" fill="none" stroke-linejoin="round"/>
<path d="M355.5,201.2 L356.6,194.6 L357.7,189.9 L358.9,186.8 L360.0,185.0 L361.1,184.1 L362.2,183.8 L363.3,184.0 L364.5,189.2 L365.6,198.7 L366.7,208.2 L367.8,213.5 L369.0,212.8 L370.1,209.8 L371.2,205.8 L372.3,202.0 L373.4,199.7 L374.6,200.8 L375.7,207.5 L376.8,216.4 L377.9,223.9 L379.0,226.2 L380.2,226.2 L381.3,226.2 L382.4,221.3 L383.5,209.9 L384.6,197.6 L385.8,189.4 L386.9,189.0 L388.0,191.4 L389.1,194.5 L390.2,197.4 L391.4,198.6 L392.5,197.5 L393.6,194.6 L394.7,190.8 L395.9,186.7 L397.0,183.2 L398.1,180.9 L399.2,181.2 L400.3,187.8 L401.5,197.8 L402.6,207.0 L403.7,211.0 L404.8,203.4 L405.9,187.3 L407.1,172.7 L408.2,166.8 L409.3,162.7 L410.4,159.8 L411.5,158.8 L412.7,160.2 L413.8,163.5 L414.9,167.0 L416.0,169.4 L417.2,168.8 L418.3,164.4 L419.4,157.6 L420.5,150.2 L421.6,143.8 L422.8,140.0 L423.9,140.4 L425.0,143.6 L426.1,146.5 L427.2,146.2 L428.4,143.2 L429.5,139.8 L430.6,138.1 L431.7,141.1 L432.8,148.0 L434.0,155.5 L435.1,160.4 L436.2,160.2 L437.3,156.5 L438.5,150.7 L439.6,144.4 L440.7,138.9 L441.8,135.7 L442.9,146.1 L444.1,190.5 L445.2,224.9 L446.3,223.2 L447.4,213.2 L448.5,199.6 L449.7,185.9 L450.8,175.9 L451.9,173.4 L453.0,188.1 L454.1,211.0 L455.3,225.7 L456.4,219.1 L457.5,197.4 L458.6,174.4 L459.8,163.7 L460.9,167.2 L462.0,173.7 L463.1,177.3 L464.2,176.4 L465.4,173.9 L466.5,170.4 L467.6,166.0 L468.7,161.3 L469.8,156.6 L471.0,152.3 L472.1,148.7 L473.2,146.3 L474.3,145.4 L475.4,158.0 L476.6,185.8 L477.7,213.6 L478.8,226.2 L479.9,226.2 L481.0,226.2 L482.2,226.2 L483.3,226.2 L484.4,226.2 L485.5,220.5 L486.7,203.1 L487.8,183.6 L488.9,172.2 L490.0,182.6 L491.1,210.3 L492.3,226.2 L493.4,226.2 L494.5,226.2" stroke="#c45a5a" stroke-width="0.9" fill="none" stroke-linejoin="round"/>
</g>
<polygon points="426.79,217.76 427.63,220.01 430.03,220.11 428.15,221.60 428.79,223.91 426.79,222.59 424.80,223.91 425.44,221.60 423.56,220.11 425.95,220.01" fill="#123d12"/>
<polygon points="426.79,199.27 427.63,201.52 430.03,201.62 428.15,203.12 428.79,205.43 426.79,204.10 424.80,205.43 425.44,203.12 423.56,201.62 425.95,201.52" fill="#2626c8"/>
<polygon points="426.79,178.61 427.63,180.86 430.03,180.96 428.15,182.45 428.79,184.76 426.79,183.44 424.80,184.76 425.44,182.45 423.56,180.96 425.95,180.86" fill="#e8401e"/>
<polygon points="426.79,163.39 427.63,165.63 430.03,165.74 428.15,167.23 428.79,169.54 426.79,168.22 424.80,169.54 425.44,167.23 423.56,165.74 425.95,165.63" fill="#7d2a80"/>
<polygon points="426.79,151.43 427.63,153.67 430.03,153.77 428.15,155.27 428.79,157.58 426.79,156.25 424.80,157.58 425.44,155.27 423.56,153.77 425.95,153.67" fill="#c2581e"/>
<rect x="358.9" y="131.8" width="44" height="51.5" rx="1.5" fill="#fff" fill-opacity="0.8" stroke="#d8d8d8" stroke-width="0.6"/>
<path d="M360.9,138.3H375.2" stroke="#2e8b2e" stroke-width="1.1"/>
<text x="380.7" y="140.8" font-size="7.5">CF</text>
<path d="M360.9,147.9H375.2" stroke="#4a4aff" stroke-width="1.1"/>
<text x="380.7" y="150.4" font-size="7.5">Factual</text>
<path d="M360.9,157.5H375.2" stroke="#ff4a4a" stroke-width="1.1"/>
<text x="380.7" y="160.0" font-size="7.5">+ 2K</text>
<path d="M360.9,167.1H375.2" stroke="#9b30b5" stroke-width="1.1"/>
<text x="380.7" y="169.6" font-size="7.5">+ 3K</text>
<path d="M360.9,176.7H375.2" stroke="#c86a6a" stroke-width="1.1"/>
<text x="380.7" y="179.2" font-size="7.5">+ 4K</text>
<rect x="355.5" y="129.3" width="139.0" height="101.7" fill="none" stroke="#5a5a5a" stroke-width="0.85"/>
<text x="350.7" y="228.9" font-size="7.6" text-anchor="end">0</text>
<text x="350.7" y="207.1" font-size="7.6" text-anchor="end">2</text>
<text x="350.7" y="185.4" font-size="7.6" text-anchor="end">4</text>
<text x="350.7" y="163.6" font-size="7.6" text-anchor="end">6</text>
<text x="350.7" y="141.9" font-size="7.6" text-anchor="end">8</text>
<text x="0" y="0" font-size="7.8" text-anchor="end" transform="translate(353.8,240.0) rotate(-30)">2018-07-01</text>
<text x="0" y="0" font-size="7.8" text-anchor="end" transform="translate(369.5,240.0) rotate(-30)">2018-07-08</text>
<text x="0" y="0" font-size="7.8" text-anchor="end" transform="translate(385.2,240.0) rotate(-30)">2018-07-15</text>
<text x="0" y="0" font-size="7.8" text-anchor="end" transform="translate(400.9,240.0) rotate(-30)">2018-07-22</text>
<text x="0" y="0" font-size="7.8" text-anchor="end" transform="translate(423.3,240.0) rotate(-30)">2018-08-01</text>
<text x="0" y="0" font-size="7.8" text-anchor="end" transform="translate(439.0,240.0) rotate(-30)">2018-08-08</text>
<text x="0" y="0" font-size="7.8" text-anchor="end" transform="translate(454.7,240.0) rotate(-30)">2018-08-15</text>
<text x="0" y="0" font-size="7.8" text-anchor="end" transform="translate(470.4,240.0) rotate(-30)">2018-08-22</text>
<text x="0" y="0" font-size="7.8" text-anchor="end" transform="translate(492.8,240.0) rotate(-30)">2018-09-01</text>
<path d="M352.5,226.2H355.5M352.5,204.4H355.5M352.5,182.7H355.5M352.5,160.9H355.5M352.5,139.2H355.5M355.5,231.0V234.0M371.2,231.0V234.0M386.9,231.0V234.0M402.6,231.0V234.0M425.0,231.0V234.0M440.7,231.0V234.0M456.4,231.0V234.0M472.1,231.0V234.0M494.5,231.0V234.0" stroke="#333" stroke-width="0.7"/>
<text x="0" y="0" font-size="9.2" text-anchor="middle" transform="translate(344.3,181) rotate(-90)">intensity [°C]</text>
<text x="424.4" y="268.5" font-size="7.2" text-anchor="middle">time</text>
<rect x="42.80" y="278.7" width="43.30" height="8.0" fill="#ffffe5"/>
<rect x="85.80" y="278.7" width="43.30" height="8.0" fill="#ffffb3"/>
<rect x="128.80" y="278.7" width="43.30" height="8.0" fill="#ffff80"/>
<rect x="171.80" y="278.7" width="43.30" height="8.0" fill="#ffcc4d"/>
<rect x="214.80" y="278.7" width="43.30" height="8.0" fill="#ff991a"/>
<rect x="257.80" y="278.7" width="43.30" height="8.0" fill="#e66600"/>
<rect x="300.80" y="278.7" width="43.30" height="8.0" fill="#b33300"/>
<rect x="343.80" y="278.7" width="43.30" height="8.0" fill="#800000"/>
<rect x="386.80" y="278.7" width="43.30" height="8.0" fill="#4d0000"/>
<rect x="429.80" y="278.7" width="43.30" height="8.0" fill="#1a0000"/>
<path d="M42.8,278.7 L21.5,282.7 L42.8,286.7 Z" fill="#ffffff" stroke="none"/>
<path d="M472.8,278.7 L494.4,282.7 L472.8,286.7 Z" fill="#000000"/>
<path d="M42.8,278.7 L21.5,282.7 L42.8,286.7 L472.8,286.7 L494.4,282.7 L472.8,278.7 Z" fill="none" stroke="#888" stroke-width="0.7"/>
<path d="M42.8,286.7V289.2" stroke="#333" stroke-width="0.7"/>
<text x="42.8" y="297.5" font-size="7.6" text-anchor="middle">0</text>
<path d="M128.8,286.7V289.2" stroke="#333" stroke-width="0.7"/>
<text x="128.8" y="297.5" font-size="7.6" text-anchor="middle">2</text>
<path d="M214.8,286.7V289.2" stroke="#333" stroke-width="0.7"/>
<text x="214.8" y="297.5" font-size="7.6" text-anchor="middle">4</text>
<path d="M300.8,286.7V289.2" stroke="#333" stroke-width="0.7"/>
<text x="300.8" y="297.5" font-size="7.6" text-anchor="middle">6</text>
<path d="M386.8,286.7V289.2" stroke="#333" stroke-width="0.7"/>
<text x="386.8" y="297.5" font-size="7.6" text-anchor="middle">8</text>
<path d="M472.8,286.7V289.2" stroke="#333" stroke-width="0.7"/>
<text x="472.8" y="297.5" font-size="7.6" text-anchor="middle">10</text>
<text x="257.9" y="306.6" font-size="9.2" text-anchor="middle">HW intensity [°C]</text>
</svg></body></html>
